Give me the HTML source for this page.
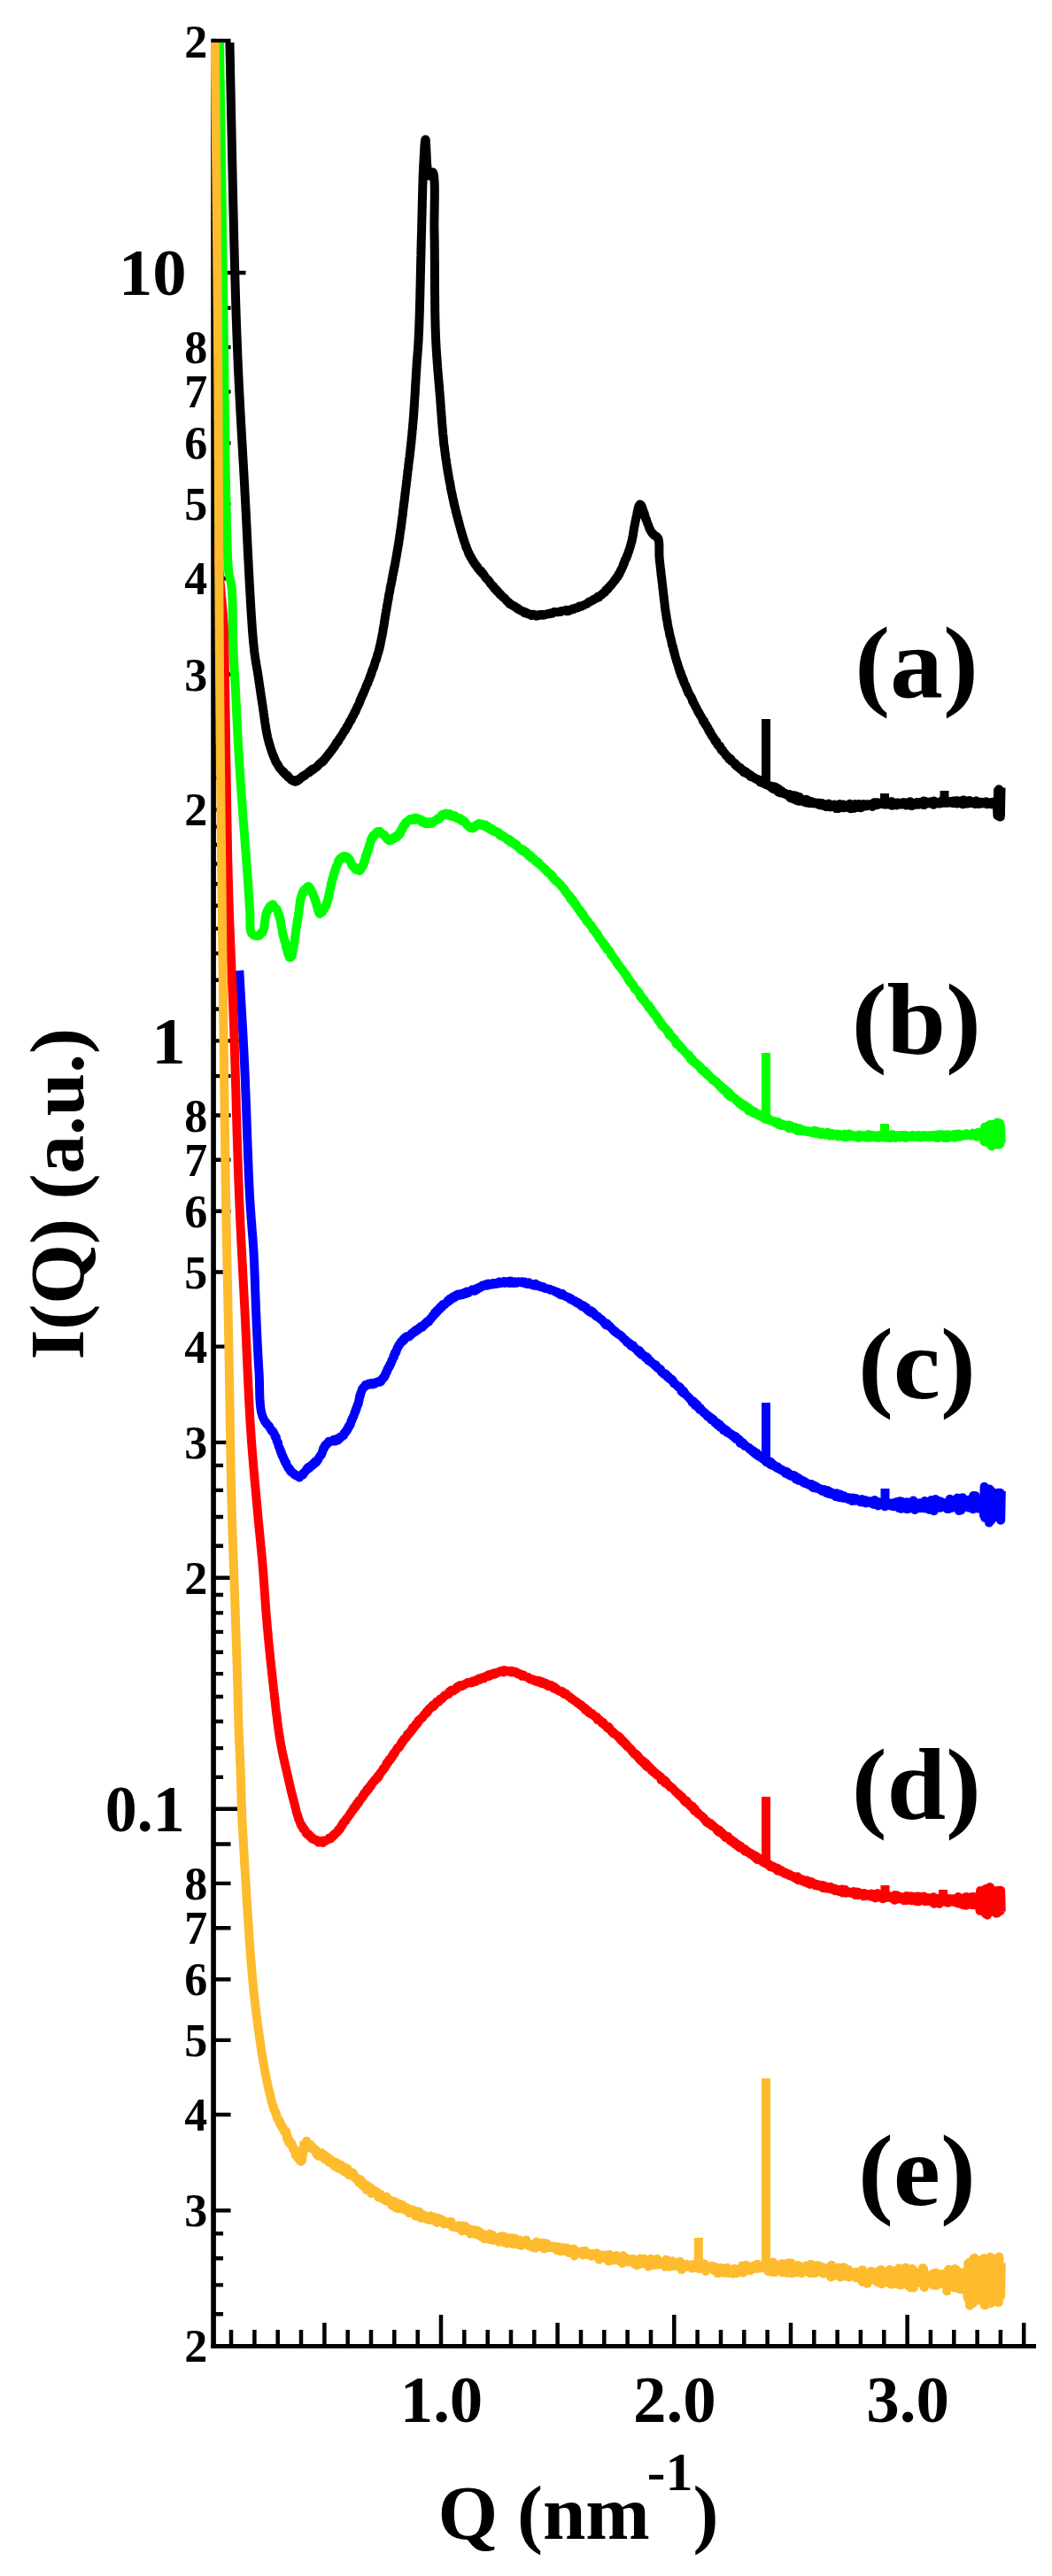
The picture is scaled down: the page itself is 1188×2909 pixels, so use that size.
<!DOCTYPE html>
<html><head><meta charset="utf-8"><title>I(Q) vs Q</title>
<style>html,body{margin:0;padding:0;background:#fff}svg{display:block}</style></head>
<body>
<svg width="1188" height="2909" viewBox="0 0 1188 2909">
<defs><clipPath id="pc"><rect x="238" y="48" width="932" height="2599"/></clipPath></defs>
<rect width="1188" height="2909" fill="#fff"/>
<g stroke="#000" stroke-width="5" fill="none" stroke-linecap="butt">
<path d="M241.05,43.8 V2652.0" stroke-width="5.7"/>
<path d="M238.20000000000002,2649.5 H1170"/>
<path d="M241.05,308.0 h36.5 M241.05,46.0 h19.5 M241.05,272.1 h11 M241.05,239.3 h11 M241.05,209.2 h11 M241.05,181.2 h11 M241.05,155.3 h11 M241.05,130.9 h11 M241.05,108.1 h11 M241.05,86.6 h11 M241.05,66.2 h11 M241.05,1175.4 h36.5 M241.05,914.3 h19.5 M241.05,761.5 h19.5 M241.05,653.2 h19.5 M241.05,569.1 h19.5 M241.05,500.4 h19.5 M241.05,442.4 h19.5 M241.05,392.1 h19.5 M241.05,347.7 h19.5 M241.05,1139.5 h11 M241.05,1106.7 h11 M241.05,1076.6 h11 M241.05,1048.6 h11 M241.05,1022.7 h11 M241.05,998.3 h11 M241.05,975.5 h11 M241.05,954.0 h11 M241.05,933.6 h11 M241.05,878.4 h11 M241.05,845.6 h11 M241.05,815.5 h11 M241.05,787.5 h11 M241.05,2042.8 h36.5 M241.05,1781.7 h19.5 M241.05,1628.9 h19.5 M241.05,1520.6 h19.5 M241.05,1436.5 h19.5 M241.05,1367.8 h19.5 M241.05,1309.8 h19.5 M241.05,1259.5 h19.5 M241.05,1215.1 h19.5 M241.05,2006.9 h11 M241.05,1974.1 h11 M241.05,1944.0 h11 M241.05,1916.0 h11 M241.05,1890.1 h11 M241.05,1865.7 h11 M241.05,1842.9 h11 M241.05,1821.4 h11 M241.05,1801.0 h11 M241.05,1745.8 h11 M241.05,1713.0 h11 M241.05,1682.9 h11 M241.05,1654.9 h11 M241.05,2496.3 h19.5 M241.05,2388.0 h19.5 M241.05,2303.9 h19.5 M241.05,2235.2 h19.5 M241.05,2177.2 h19.5 M241.05,2126.9 h19.5 M241.05,2082.5 h19.5 M241.05,2613.2 h11 M241.05,2580.4 h11 M241.05,2550.3 h11 M241.05,2522.3 h11 " stroke-width="4.4"/>
<path d="M261.0,2649.5 v-18.5 M287.4,2649.5 v-18.5 M313.7,2649.5 v-18.5 M340.0,2649.5 v-18.5 M366.4,2649.5 v-26.5 M392.7,2649.5 v-18.5 M419.0,2649.5 v-18.5 M445.3,2649.5 v-18.5 M471.7,2649.5 v-18.5 M498.0,2649.5 v-35.5 M524.3,2649.5 v-18.5 M550.7,2649.5 v-18.5 M577.0,2649.5 v-18.5 M603.3,2649.5 v-18.5 M629.6,2649.5 v-26.5 M656.0,2649.5 v-18.5 M682.3,2649.5 v-18.5 M708.6,2649.5 v-18.5 M735.0,2649.5 v-18.5 M761.3,2649.5 v-35.5 M787.6,2649.5 v-18.5 M814.0,2649.5 v-18.5 M840.3,2649.5 v-18.5 M866.6,2649.5 v-18.5 M893.0,2649.5 v-26.5 M919.3,2649.5 v-18.5 M945.6,2649.5 v-18.5 M971.9,2649.5 v-18.5 M998.3,2649.5 v-18.5 M1024.6,2649.5 v-35.5 M1050.9,2649.5 v-18.5 M1077.3,2649.5 v-18.5 M1103.6,2649.5 v-18.5 M1129.9,2649.5 v-18.5 M1156.2,2649.5 v-26.5 " stroke-width="4.5"/>
</g>
<g clip-path="url(#pc)" fill="none" stroke-width="10" stroke-linejoin="round" stroke-linecap="butt">
<path stroke="#000000" d="M258.5,0.0 L258.5,1.2 L258.5,2.4 L258.6,3.5 L258.6,4.6 L258.6,5.7 L258.6,6.8 L258.7,7.9 L258.7,8.9 L258.7,10.0 L258.7,11.0 L258.7,12.1 L258.7,13.1 L258.8,14.1 L258.8,15.1 L258.8,16.2 L258.8,17.2 L258.8,18.2 L258.9,19.3 L258.9,20.4 L258.9,21.4 L258.9,22.5 L258.9,23.7 L259,24.8 L259,26.0 L259,27.1 L259,28.4 L259.1,29.6 L259.1,30.9 L259.1,32.2 L259.1,33.5 L259.2,34.9 L259.2,36.4 L259.2,37.9 L259.3,39.4 L259.3,41.0 L259.3,42.6 L259.4,44.3 L259.4,46.0 L259.4,46.7 L259.4,47.3 L259.4,48.0 L259.5,48.7 L259.5,49.4 L259.5,50.1 L259.5,50.8 L259.5,51.5 L259.5,52.2 L259.6,53.0 L259.6,53.7 L259.6,54.5 L259.6,55.2 L259.6,56.0 L259.6,56.8 L259.6,57.6 L259.7,58.4 L259.7,59.2 L259.7,60.0 L259.7,60.8 L259.7,61.6 L259.7,62.5 L259.8,63.3 L259.8,64.2 L259.8,65.1 L259.8,65.9 L259.8,66.8 L259.9,67.7 L259.9,68.6 L259.9,69.5 L259.9,70.4 L259.9,71.3 L260,72.2 L260,73.2 L260,74.1 L260,75.1 L260,76.0 L260,77.0 L260.1,78.0 L260.1,78.9 L260.1,79.9 L260.1,80.9 L260.1,81.9 L260.2,82.9 L260.2,83.9 L260.2,84.9 L260.2,86.0 L260.3,87.0 L260.3,88.0 L260.3,89.1 L260.3,90.1 L260.3,91.2 L260.4,92.2 L260.4,93.3 L260.4,94.4 L260.4,95.5 L260.4,96.6 L260.5,97.7 L260.5,98.8 L260.5,99.9 L260.5,101.0 L260.6,102.1 L260.6,103.2 L260.6,104.4 L260.6,105.5 L260.7,106.6 L260.7,107.8 L260.7,108.9 L260.7,110.1 L260.7,111.3 L260.8,112.4 L260.8,113.6 L260.8,114.8 L260.8,116.0 L260.9,117.1 L260.9,118.3 L260.9,119.5 L260.9,120.7 L261,122.0 L261,123.2 L261,124.4 L261,125.6 L261.1,126.8 L261.1,128.1 L261.1,129.3 L261.1,130.5 L261.2,131.8 L261.2,133.0 L261.2,134.3 L261.2,135.5 L261.3,136.8 L261.3,138.1 L261.3,139.3 L261.4,140.6 L261.4,141.9 L261.4,143.2 L261.4,144.5 L261.5,145.8 L261.5,147.0 L261.5,148.3 L261.5,149.6 L261.6,150.9 L261.6,152.3 L261.6,153.6 L261.6,154.9 L261.7,156.2 L261.7,157.5 L261.7,158.8 L261.8,160.2 L261.8,161.5 L261.8,162.8 L261.8,164.2 L261.9,165.5 L261.9,166.8 L261.9,168.2 L262,169.5 L262,170.9 L262,172.2 L262,173.6 L262.1,174.9 L262.1,176.3 L262.1,177.7 L262.2,179.0 L262.2,180.4 L262.2,181.8 L262.3,183.1 L262.3,184.5 L262.3,185.9 L262.3,187.2 L262.4,188.6 L262.4,190.0 L262.4,191.4 L262.5,192.8 L262.5,194.1 L262.5,195.5 L262.6,196.9 L262.6,198.3 L262.6,199.7 L262.6,201.1 L262.7,202.5 L262.7,203.9 L262.7,205.3 L262.8,206.7 L262.8,208.1 L262.8,209.4 L262.9,210.8 L262.9,212.2 L262.9,213.6 L263,215.0 L263,216.4 L263,217.8 L263.1,219.3 L263.1,220.7 L263.1,222.1 L263.1,223.5 L263.2,224.9 L263.2,226.3 L263.2,227.7 L263.3,229.1 L263.3,230.5 L263.3,231.9 L263.4,233.3 L263.4,234.7 L263.4,236.1 L263.5,237.5 L263.5,238.9 L263.5,240.3 L263.6,241.7 L263.6,243.1 L263.6,244.5 L263.7,245.9 L263.7,247.3 L263.7,248.7 L263.8,250.1 L263.8,251.5 L263.8,252.9 L263.9,254.3 L263.9,255.7 L263.9,257.1 L264,258.5 L264,259.9 L264,261.3 L264.1,262.7 L264.1,264.0 L264.1,265.4 L264.2,266.8 L264.2,268.2 L264.2,269.6 L264.3,271.0 L264.3,272.3 L264.3,273.7 L264.4,275.1 L264.4,276.5 L264.4,277.8 L264.5,279.2 L264.5,280.6 L264.6,281.9 L264.6,283.3 L264.6,284.7 L264.7,286.0 L264.7,287.4 L264.7,288.7 L264.8,290.1 L264.8,291.4 L264.8,292.8 L264.9,294.1 L264.9,295.4 L264.9,296.8 L265,298.1 L265,299.5 L265,300.8 L265.1,302.1 L265.1,303.4 L265.2,304.7 L265.2,306.1 L265.2,307.4 L265.3,308.7 L265.3,310.0 L265.3,311.3 L265.4,312.6 L265.4,313.9 L265.4,315.2 L265.5,316.5 L265.5,317.8 L265.5,319.0 L265.6,320.3 L265.6,321.6 L265.7,322.9 L265.7,324.1 L265.7,325.4 L265.8,326.6 L265.8,327.9 L265.8,329.1 L265.9,330.4 L265.9,331.6 L265.9,332.9 L266,334.1 L266,335.3 L266.1,336.6 L266.1,337.8 L266.1,339.0 L266.2,340.2 L266.2,341.4 L266.2,342.6 L266.3,343.8 L266.3,345.0 L266.3,346.2 L266.4,347.3 L266.4,348.5 L266.5,349.7 L266.5,350.8 L266.5,352.0 L266.6,353.1 L266.6,354.3 L266.6,355.4 L266.7,356.6 L266.7,357.7 L266.8,358.8 L266.8,359.9 L266.8,361.0 L266.9,362.2 L266.9,363.3 L266.9,364.4 L267,365.4 L267,366.5 L267.1,367.6 L267.1,368.7 L267.1,369.7 L267.2,370.8 L267.2,371.8 L267.2,372.9 L267.3,373.9 L267.3,374.9 L267.4,376.0 L267.4,377.0 L267.4,378.0 L267.5,379.0 L267.5,380.0 L267.6,381.4 L267.6,382.8 L267.7,384.2 L267.7,385.6 L267.8,387.0 L267.8,388.4 L267.9,389.7 L267.9,391.1 L268,392.4 L268,393.8 L268.1,395.1 L268.2,396.5 L268.2,397.8 L268.3,399.2 L268.3,400.5 L268.4,401.8 L268.4,403.1 L268.5,404.4 L268.5,405.7 L268.6,407.0 L268.7,408.3 L268.7,409.6 L268.8,410.9 L268.8,412.2 L268.9,413.5 L268.9,414.7 L269,416.0 L269.1,417.3 L269.1,418.5 L269.2,419.8 L269.2,421.0 L269.3,422.3 L269.3,423.5 L269.4,424.7 L269.5,426.0 L269.5,427.2 L269.6,428.4 L269.6,429.6 L269.7,430.9 L269.7,432.1 L269.8,433.3 L269.9,434.5 L269.9,435.7 L270,436.9 L270,438.1 L270.1,439.3 L270.2,440.5 L270.2,441.7 L270.3,442.8 L270.3,444.0 L270.4,445.2 L270.5,446.4 L270.5,447.6 L270.6,448.7 L270.6,449.9 L270.7,451.1 L270.8,452.2 L270.8,453.4 L270.9,454.6 L271,455.7 L271,456.9 L271.1,458.0 L271.1,459.2 L271.2,460.3 L271.3,461.5 L271.3,462.6 L271.4,463.8 L271.4,464.9 L271.5,466.1 L271.6,467.2 L271.6,468.3 L271.7,469.5 L271.8,470.6 L271.8,471.8 L271.9,472.9 L271.9,474.0 L272,475.2 L272.1,476.3 L272.1,477.4 L272.2,478.6 L272.3,479.7 L272.3,480.8 L272.4,482.0 L272.5,483.1 L272.5,484.2 L272.6,485.4 L272.6,486.5 L272.7,487.6 L272.8,488.8 L272.8,489.9 L272.9,491.0 L273,492.2 L273,493.3 L273.1,494.4 L273.2,495.6 L273.2,496.7 L273.3,497.8 L273.4,499.0 L273.4,500.1 L273.5,501.3 L273.6,502.4 L273.6,503.5 L273.7,504.7 L273.7,505.8 L273.8,507.0 L273.9,508.1 L273.9,509.3 L274,510.4 L274.1,511.6 L274.1,512.7 L274.2,513.9 L274.3,515.0 L274.3,516.2 L274.4,517.3 L274.5,518.5 L274.5,519.7 L274.6,520.8 L274.7,522.0 L274.7,523.2 L274.8,524.4 L274.9,525.5 L274.9,526.7 L275,527.9 L275.1,529.1 L275.1,530.3 L275.2,531.5 L275.3,532.6 L275.3,533.8 L275.4,535.0 L275.5,536.2 L275.5,537.5 L275.6,538.7 L275.7,539.9 L275.7,541.1 L275.8,542.3 L275.9,543.5 L275.9,544.8 L276,546.0 L276.1,547.2 L276.1,548.4 L276.2,549.5 L276.3,550.7 L276.3,551.9 L276.4,553.2 L276.4,554.4 L276.5,555.6 L276.6,556.8 L276.6,558.1 L276.7,559.3 L276.8,560.5 L276.8,561.8 L276.9,563.0 L277,564.3 L277,565.6 L277.1,566.8 L277.2,568.1 L277.2,569.4 L277.3,570.7 L277.4,572.0 L277.4,573.3 L277.5,574.6 L277.6,575.9 L277.6,577.2 L277.7,578.5 L277.8,579.8 L277.8,581.1 L277.9,582.5 L278,583.8 L278,585.1 L278.1,586.4 L278.2,587.8 L278.2,589.1 L278.3,590.5 L278.4,591.8 L278.4,593.2 L278.5,594.5 L278.6,595.8 L278.6,597.2 L278.7,598.6 L278.8,599.9 L278.8,601.3 L278.9,602.6 L279,604.0 L279,605.3 L279.1,606.7 L279.2,608.1 L279.2,609.4 L279.3,610.8 L279.4,612.2 L279.4,613.5 L279.5,614.9 L279.6,616.3 L279.6,617.6 L279.7,619.0 L279.8,620.4 L279.8,621.7 L279.9,623.1 L280,624.5 L280,625.8 L280.1,627.2 L280.2,628.5 L280.2,629.9 L280.3,631.3 L280.4,632.6 L280.5,634.0 L280.5,635.3 L280.6,636.7 L280.7,638.0 L280.7,639.4 L280.8,640.7 L280.9,642.1 L280.9,643.4 L281,644.7 L281.1,646.1 L281.1,647.4 L281.2,648.7 L281.3,650.1 L281.4,651.4 L281.4,652.7 L281.5,654.0 L281.6,655.3 L281.6,656.6 L281.7,657.9 L281.8,659.2 L281.8,660.5 L281.9,661.8 L282,663.1 L282.1,664.4 L282.1,665.7 L282.2,667.0 L282.3,668.2 L282.3,669.5 L282.4,670.7 L282.5,672.0 L282.6,673.2 L282.6,674.5 L282.7,675.7 L282.8,676.9 L282.8,678.2 L282.9,679.4 L283,680.6 L283.1,681.8 L283.1,683.0 L283.2,684.2 L283.3,685.4 L283.3,686.5 L283.4,687.7 L283.5,688.9 L283.6,690.0 L283.6,691.2 L283.7,692.3 L283.8,693.4 L283.8,694.6 L283.9,695.7 L284,696.8 L284.1,697.9 L284.1,699.0 L284.2,700.0 L284.3,701.1 L284.3,702.2 L284.4,703.2 L284.5,704.3 L284.6,705.3 L284.6,706.3 L284.7,707.4 L284.8,708.4 L284.8,709.4 L284.9,710.4 L285,711.3 L285.1,712.3 L285.1,713.3 L285.2,714.2 L285.3,715.1 L285.4,716.1 L285.4,717.0 L285.5,717.9 L285.6,718.8 L285.6,719.6 L285.7,720.5 L285.8,721.4 L285.9,722.2 L285.9,723.1 L286,723.9 L286.1,724.7 L286.2,725.5 L286.2,726.3 L286.3,727.0 L286.4,727.8 L286.5,728.5 L286.5,729.3 L286.6,730.0 L286.8,731.7 L287,733.3 L287.1,734.9 L287.3,736.3 L287.5,737.8 L287.7,739.1 L287.9,740.5 L288,741.8 L288.2,743.0 L288.4,744.2 L288.6,745.4 L288.8,746.5 L288.9,747.6 L289.1,748.7 L289.3,749.8 L289.5,750.9 L289.7,751.9 L289.9,753.0 L290,754.0 L290.2,755.1 L290.4,756.2 L290.6,757.3 L290.8,758.4 L291,759.5 L291.1,760.6 L291.3,761.8 L291.5,763.0 L291.7,764.2 L291.9,765.4 L292,766.6 L292.2,767.7 L292.4,768.9 L292.5,770.1 L292.7,771.3 L292.9,772.5 L293.1,773.6 L293.2,774.8 L293.4,776.0 L293.6,777.2 L293.8,778.4 L293.9,779.6 L294.1,780.7 L294.3,781.9 L294.5,783.1 L294.6,784.3 L294.8,785.5 L295,786.7 L295.2,787.9 L295.4,789.1 L295.5,790.3 L295.7,791.6 L295.9,792.8 L296.1,794.0 L296.3,795.3 L296.5,796.5 L296.7,797.7 L296.9,798.8 L297,800.0 L297.2,801.2 L297.4,802.5 L297.6,803.7 L297.7,804.9 L297.9,806.2 L298.1,807.4 L298.3,808.7 L298.4,809.9 L298.6,811.2 L298.8,812.4 L299,813.7 L299.1,815.0 L299.3,816.2 L299.5,817.5 L299.7,818.7 L299.9,820.0 L300.1,821.2 L300.3,822.5 L300.5,823.7 L300.7,825.0 L300.9,826.2 L301.1,827.4 L301.4,828.5 L301.6,829.8 L301.9,830.8 L302.1,832.1 L302.4,833.3 L302.6,834.2 L302.9,835.2 L303.2,836.4 L303.6,837.7 L303.9,839.3 L304.3,840.4 L304.7,841.5 L305,842.6 L305.4,844.0 L305.8,845.5 L306.2,846.5 L306.6,847.8 L307.1,849.0 L307.5,850.7 L307.9,851.4 L308.4,852.5 L308.8,854.1 L309.3,854.5 L309.7,856.0 L310.2,856.8 L310.7,858.4 L311.2,859.8 L311.7,860.1 L312.2,861.6 L312.7,862.0 L313.2,863.3 L313.9,863.6 L314.7,865.3 L315.5,867.1 L316.3,867.7 L317.1,869.0 L317.9,869.5 L318.7,870.4 L319.6,871.9 L320.4,871.5 L321.3,873.2 L322.1,874.6 L323,874.7 L324,875.1 L324.9,877.1 L325.9,877.1 L326.9,878.8 L327.9,879.5 L328.9,880.9 L329.9,881.1 L331,882.0 L332,881.0 L333,882.8 L333.8,881.3 L334.6,881.5 L335.4,882.2 L336.2,880.3 L337,881.1 L337.8,880.6 L338.6,879.3 L339.4,878.3 L340.3,878.5 L341.2,877.3 L342.1,876.1 L343,876.7 L343.6,876.2 L344.3,875.1 L345,875.3 L345.7,874.1 L346.4,874.0 L347.1,873.1 L347.8,872.8 L348.6,871.8 L349.3,872.5 L350.1,870.9 L350.9,870.0 L351.7,869.6 L352.4,868.8 L353.2,869.4 L354,868.5 L354.8,868.3 L355.6,867.3 L356.4,867.1 L357.2,866.4 L357.9,865.9 L358.7,864.7 L359.4,864.4 L360.2,863.1 L360.9,862.6 L361.6,861.8 L362.3,861.5 L363,860.6 L363.6,860.2 L364.3,860.5 L364.9,858.8 L365.5,859.2 L366.1,857.9 L366.7,856.8 L367.3,856.9 L367.9,855.9 L368.5,854.6 L369.1,854.7 L369.7,853.4 L370.3,852.6 L370.8,851.8 L371.4,851.7 L372,850.2 L372.5,850.4 L373.1,848.8 L373.6,848.4 L374.2,847.6 L374.8,847.4 L375.3,846.7 L375.9,844.8 L376.4,844.6 L376.9,844.4 L377.5,842.9 L378,842.9 L378.6,841.0 L379.1,840.8 L379.7,840.1 L380.2,838.6 L380.7,837.6 L381.2,837.5 L381.7,837.7 L382.2,836.0 L382.7,836.0 L383.1,834.2 L383.6,833.8 L384.1,832.7 L384.6,832.9 L385.1,832.2 L385.6,831.4 L386,830.0 L386.5,829.9 L387,828.4 L387.5,828.0 L388,827.1 L388.4,826.4 L388.9,825.1 L389.4,825.3 L389.9,824.6 L390.3,823.7 L390.8,823.0 L391.3,821.4 L391.7,820.6 L392.2,820.4 L392.7,820.2 L393.1,818.2 L393.6,817.9 L394,817.0 L394.5,816.3 L394.9,814.9 L395.4,814.4 L395.8,813.4 L396.3,813.6 L396.7,812.7 L397.1,811.4 L397.5,810.9 L397.9,809.3 L398.3,809.1 L398.7,808.0 L399.1,808.1 L399.5,807.0 L399.9,806.1 L400.3,804.4 L400.7,804.2 L401.1,804.2 L401.6,803.3 L402,802.0 L402.4,800.3 L402.8,800.3 L403.1,799.3 L403.5,798.3 L403.9,797.3 L404.3,796.8 L404.7,796.3 L405.1,795.3 L405.5,794.2 L405.9,793.9 L406.3,791.6 L406.6,792.3 L407,789.8 L407.4,789.2 L407.8,788.7 L408.1,787.4 L408.5,787.4 L408.9,785.6 L409.2,785.1 L409.6,783.9 L410,784.2 L410.3,783.3 L410.7,782.0 L411,780.8 L411.3,781.0 L411.7,779.5 L412,779.4 L412.4,778.1 L412.7,777.4 L413,775.8 L413.4,775.9 L413.8,774.5 L414.1,773.4 L414.5,772.8 L414.9,771.9 L415.2,771.1 L415.6,771.1 L415.9,769.2 L416.3,769.0 L416.6,767.7 L417,767.4 L417.3,765.6 L417.6,764.6 L417.9,764.8 L418.3,762.5 L418.6,763.2 L418.9,761.7 L419.2,760.5 L419.5,760.7 L419.8,758.3 L420.1,758.2 L420.4,756.6 L420.7,756.6 L421,755.2 L421.3,755.1 L421.6,754.9 L421.9,753.9 L422.2,752.3 L422.5,752.0 L422.7,751.3 L423,750.0 L423.3,749.1 L423.6,747.6 L423.9,747.1 L424.2,745.9 L424.5,746.0 L424.7,744.8 L425,743.9 L425.3,743.9 L425.5,742.5 L425.8,741.5 L426,740.5 L426.3,739.3 L426.5,739.1 L426.8,737.6 L427,737.2 L427.3,736.7 L427.5,736.6 L427.8,734.3 L428,734.3 L428.2,733.1 L428.5,732.5 L428.7,730.5 L429,729.3 L429.2,729.1 L429.3,729.1 L429.5,727.4 L429.6,727.6 L429.8,726.1 L430,725.2 L430.1,724.1 L430.3,724.0 L430.4,723.2 L430.6,722.8 L430.7,721.0 L430.9,720.4 L431.1,719.3 L431.2,718.6 L431.4,718.7 L431.5,717.4 L431.7,716.4 L431.8,716.0 L432,715.8 L432.1,714.7 L432.3,713.6 L432.4,713.1 L432.6,710.7 L432.7,709.8 L432.9,709.6 L433.1,708.5 L433.2,708.5 L433.4,706.8 L433.5,706.0 L433.7,705.7 L433.8,704.0 L434,703.7 L434.1,701.7 L434.3,700.8 L434.4,700.0 L434.6,699.4 L434.7,697.9 L434.9,697.7 L435.1,695.8 L435.2,694.7 L435.4,695.1 L435.5,693.1 L435.7,692.3 L435.8,691.7 L436,690.6 L436.2,688.9 L436.3,689.3 L436.5,688.4 L436.7,687.2 L436.8,685.4 L437,684.8 L437.2,683.5 L437.3,682.9 L437.5,682.7 L437.7,680.6 L437.8,680.2 L438,678.7 L438.2,678.6 L438.3,677.0 L438.5,677.1 L438.6,676.1 L438.8,675.2 L438.9,673.9 L439.1,672.6 L439.2,671.5 L439.4,671.1 L439.6,669.7 L439.7,670.0 L439.9,669.1 L440.1,667.8 L440.2,667.5 L440.4,666.2 L440.6,664.5 L440.7,663.8 L440.9,663.0 L441.1,662.4 L441.2,661.0 L441.4,661.1 L441.6,660.0 L441.8,659.3 L441.9,658.1 L442.1,657.9 L442.3,656.4 L442.4,654.8 L442.6,655.3 L442.8,654.0 L443,653.4 L443.1,652.8 L443.3,650.3 L443.5,649.7 L443.7,648.5 L443.8,648.3 L444,648.1 L444.2,645.9 L444.4,645.6 L444.5,644.1 L444.7,644.3 L444.9,643.5 L445.1,641.3 L445.2,641.1 L445.4,639.8 L445.6,640.1 L445.7,639.2 L445.9,637.7 L446.1,637.4 L446.3,635.4 L446.4,635.4 L446.6,633.7 L446.8,632.5 L446.9,632.8 L447.1,631.4 L447.3,629.5 L447.4,629.9 L447.6,628.7 L447.8,627.7 L447.9,627.0 L448.1,625.2 L448.2,624.9 L448.4,624.4 L448.6,622.2 L448.7,621.4 L448.9,621.7 L449,620.4 L449.2,619.4 L449.3,618.0 L449.5,617.2 L449.6,617.2 L449.8,615.6 L449.9,614.1 L450.1,614.6 L450.2,612.5 L450.3,612.7 L450.5,611.9 L450.6,610.3 L450.8,609.6 L450.9,608.6 L451,607.9 L451.2,607.4 L451.3,605.5 L451.4,605.6 L451.5,604.2 L451.7,602.6 L451.8,601.9 L451.9,601.6 L452.1,600.1 L452.2,599.0 L452.3,598.2 L452.4,598.4 L452.6,597.1 L452.7,596.9 L452.8,594.9 L452.9,594.4 L453.1,593.6 L453.2,592.7 L453.3,590.9 L453.4,591.1 L453.5,590.6 L453.6,589.0 L453.8,587.5 L453.9,587.6 L454,585.4 L454.1,585.0 L454.2,585.2 L454.3,583.7 L454.5,583.3 L454.6,581.9 L454.7,581.4 L454.8,580.6 L454.9,578.8 L455,577.5 L455.1,577.7 L455.2,576.3 L455.4,574.9 L455.5,574.8 L455.6,572.9 L455.7,572.3 L455.8,572.4 L455.9,570.2 L456,569.8 L456.1,568.4 L456.2,569.2 L456.3,567.6 L456.4,566.2 L456.6,566.4 L456.7,564.8 L456.8,563.8 L456.9,563.1 L457,561.7 L457.1,560.8 L457.2,560.1 L457.3,559.0 L457.4,558.6 L457.5,557.9 L457.6,556.0 L457.7,556.6 L457.8,555.3 L457.9,554.5 L458,553.6 L458.2,551.5 L458.3,551.3 L458.4,550.4 L458.5,549.9 L458.6,548.6 L458.7,548.1 L458.8,547.2 L458.9,546.3 L459,545.3 L459.1,543.6 L459.2,543.7 L459.3,542.9 L459.4,542.2 L459.6,540.1 L459.7,539.1 L459.8,538.6 L459.9,537.5 L460,537.5 L460.1,536.2 L460.2,535.6 L460.3,534.1 L460.4,532.6 L460.5,531.8 L460.6,531.3 L460.8,530.1 L460.9,530.3 L461,529.0 L461.1,528.2 L461.2,527.0 L461.3,525.4 L461.4,524.7 L461.5,524.2 L461.6,522.9 L461.7,521.7 L461.8,522.0 L461.9,521.1 L462,519.5 L462.1,519.5 L462.2,517.9 L462.4,517.7 L462.5,516.4 L462.6,515.4 L462.7,513.9 L462.8,513.5 L462.9,513.2 L463,511.3 L463.1,511.4 L463.2,510.6 L463.3,508.7 L463.4,508.4 L463.5,507.8 L463.6,505.5 L463.7,506.0 L463.8,503.9 L463.9,504.1 L464,502.9 L464.1,501.5 L464.2,500.2 L464.3,500.2 L464.4,499.6 L464.5,498.7 L464.5,497.4 L464.6,497.1 L464.7,495.6 L464.8,494.0 L464.9,493.5 L465,492.4 L465.1,492.6 L465.2,490.7 L465.3,490.8 L465.4,489.1 L465.5,487.6 L465.5,486.5 L465.6,486.1 L465.7,484.8 L465.8,484.8 L465.9,483.5 L466,483.6 L466,482.6 L466.1,480.3 L466.2,479.8 L466.3,479.0 L466.4,478.3 L466.4,477.8 L466.5,476.3 L466.6,475.3 L466.7,474.1 L466.7,474.3 L466.8,471.8 L466.9,472.3 L466.9,470.3 L467,470.2 L467.1,468.7 L467.2,468.8 L467.2,466.4 L467.3,465.5 L467.4,465.8 L467.4,464.3 L467.5,462.9 L467.5,461.4 L467.6,460.8 L467.7,459.7 L467.7,458.9 L467.8,459.1 L467.9,458.1 L467.9,456.9 L468,455.5 L468,455.2 L468.1,453.6 L468.2,452.5 L468.2,451.4 L468.3,451.5 L468.3,449.6 L468.4,448.9 L468.4,447.5 L468.5,447.6 L468.6,445.8 L468.6,444.7 L468.7,444.5 L468.7,442.7 L468.8,441.6 L468.8,441.9 L468.9,440.8 L468.9,439.6 L469,438.1 L469,437.8 L469.1,436.9 L469.1,435.4 L469.2,434.1 L469.3,434.6 L469.3,432.9 L469.4,432.6 L469.4,430.8 L469.5,430.5 L469.5,429.3 L469.6,428.4 L469.6,427.0 L469.7,426.4 L469.7,425.2 L469.8,424.7 L469.8,424.6 L469.9,423.6 L469.9,422.8 L470,420.9 L470,421.2 L470.1,420.1 L470.1,418.8 L470.2,417.9 L470.2,417.1 L470.3,417.4 L470.3,416.9 L470.4,416.0 L470.4,414.2 L470.5,414.2 L470.5,413.1 L470.6,412.5 L470.6,410.9 L470.7,410.1 L470.8,409.4 L470.9,407.3 L470.9,407.1 L471,405.9 L471.1,405.5 L471.1,405.2 L471.2,403.4 L471.3,402.5 L471.3,402.4 L471.4,401.3 L471.5,400.1 L471.5,399.8 L471.6,398.5 L471.6,397.2 L471.7,397.0 L471.8,396.0 L471.8,394.9 L471.9,395.3 L472,394.1 L472,393.1 L472.1,392.5 L472.1,391.3 L472.2,390.7 L472.3,390.1 L472.3,389.1 L472.4,386.9 L472.4,386.1 L472.5,384.8 L472.6,385.3 L472.6,383.0 L472.7,382.6 L472.7,380.5 L472.8,379.5 L472.8,379.4 L472.9,378.1 L472.9,377.9 L472.9,377.5 L472.9,376.5 L473,376.2 L473,375.5 L473,374.5 L473.1,374.3 L473.1,373.6 L473.1,372.9 L473.2,371.9 L473.2,370.9 L473.2,370.5 L473.2,370.3 L473.3,369.0 L473.3,368.9 L473.3,367.2 L473.3,366.9 L473.4,364.9 L473.4,365.4 L473.4,364.1 L473.5,362.4 L473.5,362.1 L473.5,361.7 L473.5,361.3 L473.6,359.2 L473.6,359.2 L473.6,358.8 L473.6,357.7 L473.7,357.3 L473.7,354.9 L473.7,354.4 L473.8,354.6 L473.8,353.5 L473.8,352.3 L473.8,351.8 L473.9,351.0 L473.9,350.2 L473.9,349.4 L473.9,347.0 L474,345.9 L474,345.0 L474,344.0 L474,344.7 L474.1,342.2 L474.1,342.6 L474.1,341.4 L474.1,340.1 L474.2,338.9 L474.2,337.9 L474.2,336.8 L474.2,337.0 L474.3,335.7 L474.3,333.5 L474.3,333.3 L474.3,332.0 L474.4,330.6 L474.4,331.1 L474.4,329.9 L474.4,328.2 L474.4,328.0 L474.5,326.2 L474.5,325.2 L474.5,325.2 L474.5,324.3 L474.6,322.6 L474.6,322.3 L474.6,321.2 L474.6,319.6 L474.7,318.3 L474.7,317.9 L474.7,316.5 L474.7,315.7 L474.8,315.4 L474.8,314.0 L474.8,312.3 L474.8,310.8 L474.8,310.0 L474.9,309.6 L474.9,308.4 L474.9,308.1 L474.9,307.3 L475,305.0 L475,305.2 L475,304.4 L475,303.4 L475,300.8 L475.1,299.8 L475.1,298.8 L475.1,298.3 L475.1,296.9 L475.2,296.3 L475.2,295.4 L475.2,295.5 L475.2,293.7 L475.3,292.4 L475.3,291.8 L475.3,291.1 L475.3,289.2 L475.3,289.3 L475.4,288.5 L475.4,287.6 L475.4,286.7 L475.4,284.9 L475.5,284.0 L475.5,282.5 L475.5,281.8 L475.5,282.2 L475.5,280.0 L475.6,280.2 L475.6,279.2 L475.6,278.4 L475.6,276.2 L475.7,276.5 L475.7,275.2 L475.7,273.6 L475.7,272.9 L475.7,271.7 L475.8,271.3 L475.8,269.8 L475.8,269.1 L475.8,268.3 L475.9,268.3 L475.9,267.3 L475.9,266.9 L475.9,265.0 L476,264.9 L476,263.0 L476,263.0 L476,262.6 L476.1,261.8 L476.1,259.2 L476.1,258.6 L476.1,257.5 L476.2,256.2 L476.2,255.1 L476.2,255.0 L476.2,253.2 L476.3,252.6 L476.3,252.2 L476.3,250.6 L476.3,249.6 L476.4,249.1 L476.4,247.7 L476.4,247.3 L476.4,245.9 L476.5,245.2 L476.5,243.7 L476.5,242.6 L476.5,241.3 L476.6,241.7 L476.6,240.5 L476.6,239.7 L476.6,237.4 L476.7,237.7 L476.7,236.7 L476.7,234.6 L476.7,233.6 L476.8,233.1 L476.8,231.5 L476.8,231.0 L476.8,229.5 L476.8,229.9 L476.9,228.1 L476.9,228.0 L476.9,226.5 L476.9,225.2 L477,225.1 L477,222.7 L477,222.6 L477,221.7 L477.1,220.4 L477.1,218.8 L477.1,218.6 L477.1,217.6 L477.2,217.3 L477.2,215.4 L477.2,214.7 L477.2,213.5 L477.2,213.4 L477.3,213.0 L477.3,210.7 L477.3,210.9 L477.3,209.0 L477.4,207.8 L477.4,207.1 L477.4,207.6 L477.5,206.6 L477.5,204.7 L477.5,205.0 L477.5,204.0 L477.6,202.4 L477.6,201.6 L477.6,201.1 L477.6,199.5 L477.7,198.4 L477.7,198.0 L477.7,196.8 L477.8,197.1 L477.8,196.1 L477.8,194.9 L477.9,194.9 L477.9,193.1 L477.9,192.5 L478,191.8 L478,190.9 L478,189.9 L478.1,190.5 L478.1,188.5 L478.1,188.8 L478.2,187.1 L478.2,186.2 L478.2,186.5 L478.3,186.4 L478.3,185.6 L478.4,183.6 L478.4,181.9 L478.5,182.0 L478.6,180.8 L478.6,179.7 L478.7,178.1 L478.7,177.1 L478.8,176.1 L478.9,174.1 L479,173.1 L479,171.8 L479.1,170.9 L479.2,169.8 L479.2,168.4 L479.3,167.8 L479.4,166.2 L479.4,165.8 L479.5,163.9 L479.6,162.8 L479.7,163.3 L479.7,162.1 L479.8,160.6 L479.9,160.4 L480,160.5 L480.1,158.5 L480.2,158.1 L480.2,158.7 L480.3,157.7 L480.4,158.5 L480.5,158.1 L480.6,158.3 L480.6,157.6 L480.7,157.8 L480.8,159.1 L480.8,159.2 L480.9,159.2 L480.9,160.4 L481,161.7 L481,161.7 L481.1,163.8 L481.1,164.8 L481.2,165.9 L481.2,166.5 L481.3,167.1 L481.3,168.9 L481.4,169.3 L481.4,170.6 L481.5,172.4 L481.6,173.7 L481.6,175.5 L481.7,175.7 L481.7,177.9 L481.8,179.6 L481.9,179.3 L481.9,181.4 L482,183.1 L482.1,184.7 L482.2,184.8 L482.3,187.2 L482.4,187.6 L482.5,189.7 L482.6,189.3 L482.7,190.5 L482.8,193.0 L483,193.3 L483.1,193.9 L483.2,194.2 L483.4,195.8 L483.6,195.4 L483.7,196.4 L483.9,196.9 L484.1,197.8 L484.3,198.1 L484.5,198.6 L485.2,198.6 L486.1,197.3 L486.9,196.1 L487.8,195.0 L488.5,195.8 L488.7,194.5 L488.8,195.9 L489,195.1 L489.1,195.7 L489.2,196.2 L489.3,195.7 L489.5,195.9 L489.6,196.9 L489.7,197.8 L489.8,198.0 L489.9,197.5 L490,199.4 L490,199.2 L490.1,200.5 L490.2,200.4 L490.3,200.3 L490.3,201.1 L490.4,202.9 L490.4,203.4 L490.5,204.4 L490.5,204.2 L490.6,205.3 L490.6,206.3 L490.7,207.1 L490.7,207.3 L490.7,208.5 L490.7,209.1 L490.8,211.1 L490.8,212.2 L490.8,211.6 L490.8,213.7 L490.8,214.0 L490.8,215.6 L490.8,216.0 L490.8,217.7 L490.8,218.2 L490.8,219.2 L490.8,221.3 L490.8,222.5 L490.8,223.0 L490.8,223.4 L490.8,225.8 L490.7,226.6 L490.7,227.8 L490.7,228.0 L490.7,230.2 L490.7,230.4 L490.7,232.2 L490.6,233.5 L490.6,234.8 L490.6,235.4 L490.6,237.2 L490.6,238.6 L490.6,239.3 L490.5,239.6 L490.5,240.9 L490.5,242.0 L490.5,243.3 L490.5,244.4 L490.5,246.7 L490.5,246.6 L490.4,248.1 L490.4,250.4 L490.4,251.7 L490.4,252.2 L490.4,254.0 L490.4,253.5 L490.4,256.2 L490.4,256.2 L490.4,258.2 L490.4,259.3 L490.4,260.5 L490.5,260.8 L490.5,262.7 L490.5,262.6 L490.5,264.5 L490.5,264.8 L490.5,266.2 L490.6,265.4 L490.6,267.4 L490.6,267.9 L490.6,268.6 L490.6,269.0 L490.6,269.9 L490.6,270.6 L490.7,271.4 L490.7,273.2 L490.7,273.6 L490.7,273.7 L490.7,275.7 L490.7,276.2 L490.7,277.4 L490.7,277.9 L490.7,278.5 L490.7,280.4 L490.8,279.7 L490.8,282.1 L490.8,283.0 L490.8,282.9 L490.8,283.5 L490.8,285.1 L490.8,285.2 L490.8,287.2 L490.8,287.2 L490.8,288.2 L490.8,290.1 L490.8,291.0 L490.8,291.3 L490.8,292.8 L490.8,292.8 L490.9,294.9 L490.9,294.8 L490.9,295.5 L490.9,296.0 L490.9,298.6 L490.9,298.6 L490.9,300.0 L490.9,300.8 L490.9,301.9 L490.9,301.7 L490.9,304.1 L490.9,305.1 L490.9,305.4 L490.9,307.0 L490.9,306.8 L490.9,308.3 L490.9,308.9 L490.9,310.3 L490.9,310.7 L490.9,312.5 L490.9,312.2 L490.9,313.1 L491,314.1 L491,315.2 L491,316.6 L491,318.5 L491,318.0 L491,319.9 L491,320.7 L491,321.3 L491,322.0 L491,323.0 L491,323.7 L491,325.8 L491,326.7 L491,327.3 L491,328.7 L491,328.6 L491,331.0 L491,331.8 L491,332.4 L491.1,332.9 L491.1,333.9 L491.1,335.0 L491.1,336.7 L491.1,337.5 L491.1,337.8 L491.1,338.9 L491.1,340.4 L491.1,341.5 L491.1,341.9 L491.1,343.0 L491.2,343.3 L491.2,345.2 L491.2,346.0 L491.2,346.4 L491.2,347.9 L491.2,348.8 L491.2,349.6 L491.2,349.4 L491.2,351.0 L491.3,352.6 L491.3,353.3 L491.3,353.6 L491.3,355.4 L491.3,355.1 L491.3,356.1 L491.3,358.1 L491.4,358.7 L491.4,359.8 L491.4,359.1 L491.4,360.7 L491.4,361.3 L491.5,362.3 L491.5,363.9 L491.5,364.8 L491.5,365.2 L491.5,365.9 L491.6,367.1 L491.6,367.9 L491.6,368.7 L491.6,369.7 L491.7,370.2 L491.7,371.6 L491.7,371.6 L491.7,373.1 L491.8,374.4 L491.8,373.6 L491.8,375.6 L491.8,375.4 L491.9,376.9 L491.9,377.9 L491.9,378.0 L492,379.9 L492,380.2 L492,380.6 L492.1,382.5 L492.1,382.4 L492.2,384.1 L492.2,384.3 L492.3,386.2 L492.3,386.6 L492.4,388.3 L492.4,389.3 L492.5,390.0 L492.5,391.2 L492.6,392.4 L492.6,393.3 L492.7,394.0 L492.8,394.6 L492.8,395.5 L492.9,397.2 L492.9,397.8 L493,397.9 L493,399.4 L493.1,400.9 L493.2,400.5 L493.2,402.7 L493.3,403.5 L493.3,403.9 L493.4,404.0 L493.5,405.0 L493.5,407.3 L493.6,406.6 L493.7,408.1 L493.7,409.4 L493.8,409.5 L493.9,411.8 L493.9,411.2 L494,412.8 L494.1,413.8 L494.1,414.0 L494.2,415.2 L494.3,416.1 L494.3,417.5 L494.4,418.1 L494.5,418.7 L494.5,419.9 L494.6,420.4 L494.7,421.4 L494.8,422.5 L494.8,422.5 L494.9,424.4 L495,424.9 L495,426.4 L495.1,426.0 L495.2,427.3 L495.3,428.9 L495.3,429.2 L495.4,430.3 L495.5,430.6 L495.6,431.9 L495.6,433.2 L495.7,432.8 L495.8,434.7 L495.8,435.9 L495.9,435.1 L496,436.3 L496.1,437.0 L496.1,439.0 L496.2,438.7 L496.3,441.1 L496.4,441.0 L496.4,442.7 L496.5,442.4 L496.6,443.7 L496.7,445.3 L496.7,445.8 L496.8,446.4 L496.9,447.4 L496.9,448.4 L497,449.1 L497.1,449.6 L497.2,450.3 L497.2,451.3 L497.3,452.0 L497.4,453.8 L497.4,455.2 L497.5,455.2 L497.6,455.7 L497.6,457.2 L497.7,458.4 L497.8,459.0 L497.8,460.5 L497.9,461.7 L498,462.4 L498,463.0 L498.1,463.5 L498.2,464.8 L498.2,464.5 L498.3,467.1 L498.4,466.6 L498.4,468.8 L498.5,469.5 L498.6,470.4 L498.6,470.4 L498.7,471.2 L498.8,472.5 L498.8,474.1 L498.9,474.3 L499,476.0 L499,475.9 L499.1,477.3 L499.2,478.8 L499.2,479.1 L499.3,479.0 L499.4,480.6 L499.5,481.3 L499.5,482.5 L499.6,483.0 L499.7,483.6 L499.8,485.5 L499.8,486.4 L499.9,487.6 L500,487.2 L500.1,489.3 L500.2,490.2 L500.2,490.8 L500.3,491.0 L500.4,491.9 L500.5,493.1 L500.6,494.2 L500.7,495.0 L500.8,495.9 L500.9,497.4 L501,498.4 L501.1,499.2 L501.1,500.2 L501.2,500.6 L501.3,502.1 L501.4,502.4 L501.5,503.3 L501.7,503.7 L501.8,505.2 L501.9,505.1 L502,506.1 L502.1,507.0 L502.2,508.8 L502.3,508.9 L502.4,510.0 L502.6,510.4 L502.7,511.6 L502.8,513.8 L502.9,513.9 L503.1,514.2 L503.2,515.7 L503.3,517.3 L503.4,518.1 L503.6,518.2 L503.7,518.9 L503.8,520.6 L504,520.6 L504.1,521.6 L504.2,522.2 L504.4,524.4 L504.5,524.6 L504.7,525.7 L504.8,526.9 L504.9,528.0 L505.1,528.3 L505.2,528.7 L505.4,530.7 L505.5,530.3 L505.7,532.8 L505.8,533.0 L506,534.5 L506.1,534.9 L506.3,535.2 L506.5,536.2 L506.6,537.5 L506.8,539.2 L506.9,538.8 L507.1,540.2 L507.2,540.9 L507.4,542.5 L507.6,543.5 L507.7,543.7 L507.9,544.3 L508.1,544.9 L508.2,546.1 L508.4,547.1 L508.6,548.6 L508.8,550.0 L508.9,549.6 L509.1,551.9 L509.3,552.3 L509.4,553.3 L509.6,554.6 L509.8,554.6 L510,555.7 L510.2,556.8 L510.3,557.4 L510.5,557.9 L510.7,558.5 L510.9,559.7 L511.1,561.4 L511.3,562.0 L511.5,563.2 L511.6,563.6 L511.8,564.0 L512,565.5 L512.2,565.8 L512.4,566.2 L512.6,568.6 L512.8,568.6 L513,569.5 L513.2,570.9 L513.4,572.1 L513.6,571.4 L513.8,572.4 L514,573.5 L514.2,574.2 L514.4,575.5 L514.6,576.9 L514.8,577.8 L515,578.1 L515.2,578.3 L515.4,579.1 L515.6,581.0 L515.9,581.0 L516.1,582.5 L516.4,583.8 L516.6,583.8 L516.9,584.7 L517.1,585.4 L517.3,586.5 L517.6,588.7 L517.8,588.4 L518.1,589.5 L518.3,590.1 L518.6,592.2 L518.8,592.3 L519.1,593.6 L519.3,594.1 L519.6,595.4 L519.9,596.4 L520.1,597.4 L520.4,598.3 L520.6,598.6 L520.9,600.7 L521.2,600.5 L521.4,601.9 L521.7,602.6 L522,603.5 L522.2,605.1 L522.5,605.7 L522.8,606.0 L523,607.4 L523.3,608.1 L523.6,609.6 L523.9,609.6 L524.2,611.5 L524.5,611.8 L524.7,612.6 L525,613.1 L525.3,613.8 L525.6,615.1 L525.9,616.8 L526.2,616.2 L526.5,617.2 L526.8,618.9 L527.1,619.5 L527.4,619.6 L527.7,620.4 L528.1,621.4 L528.4,622.5 L528.7,623.4 L529,624.4 L529.3,624.8 L529.7,624.8 L530,626.7 L530.3,627.1 L530.7,627.0 L531,627.7 L531.5,629.6 L532,629.2 L532.5,631.0 L533,631.2 L533.5,633.0 L534,633.0 L534.5,634.5 L535,634.3 L535.5,635.6 L536.1,636.9 L536.6,636.9 L537.1,637.3 L537.7,638.8 L538.2,639.7 L538.8,639.6 L539.3,640.6 L539.9,642.1 L540.4,642.7 L541,643.1 L541.5,643.6 L542.1,644.7 L542.7,645.5 L543.2,644.6 L543.8,646.0 L544.3,647.0 L544.9,648.0 L545.5,647.5 L546,648.8 L546.6,649.3 L547.2,650.3 L547.7,651.2 L548.3,652.2 L548.9,652.6 L549.5,653.6 L550.1,654.3 L550.7,654.7 L551.2,654.7 L551.8,655.8 L552.4,656.8 L553,657.2 L553.6,658.7 L554.2,659.5 L554.8,660.0 L555.4,660.4 L556,661.7 L556.6,661.6 L557.2,662.0 L557.8,664.0 L558.4,664.1 L559,665.3 L559.6,665.1 L560.2,665.5 L560.8,666.8 L561.4,668.0 L562.1,667.6 L562.7,668.4 L563.3,669.5 L564,670.5 L564.6,671.4 L565.3,671.0 L566,672.6 L566.7,672.8 L567.4,674.0 L568,673.9 L568.7,675.1 L569.4,675.2 L570.1,675.5 L570.8,677.0 L571.5,677.1 L572.2,678.6 L572.9,679.0 L573.6,680.1 L574.3,680.0 L575,681.6 L575.7,681.4 L576.4,681.9 L577.1,682.9 L577.8,683.2 L578.6,683.3 L579.3,684.1 L580,684.0 L580.8,684.9 L581.6,684.8 L582.4,686.1 L583.3,686.3 L584.1,687.3 L585,686.8 L585.8,688.3 L586.7,688.3 L587.5,689.2 L588.4,689.9 L589.2,689.8 L590.1,690.6 L590.9,690.3 L591.8,692.0 L592.6,691.0 L593.4,692.6 L594.2,691.6 L595,692.4 L595.8,693.3 L596.5,693.4 L597.5,693.7 L598.4,693.5 L599.3,694.4 L600.1,694.9 L600.9,694.3 L601.8,694.6 L602.6,693.9 L603.5,694.6 L604.4,694.9 L605.4,695.6 L606.5,694.4 L607.2,695.4 L608,695.0 L608.8,695.1 L609.6,694.1 L610.5,694.3 L611.3,694.4 L612.2,693.9 L613.1,694.6 L614.1,694.7 L615,694.1 L616,693.9 L616.9,693.9 L617.9,693.2 L618.9,693.1 L619.8,693.2 L620.8,693.3 L621.8,692.2 L622.8,692.2 L623.7,692.7 L624.7,691.8 L625.6,691.1 L626.5,691.1 L627.4,691.3 L628.3,691.3 L629.2,691.2 L630,691.3 L631,691.1 L632,690.5 L632.9,691.0 L633.9,690.0 L634.8,690.0 L635.7,689.8 L636.6,689.8 L637.5,689.4 L638.4,689.4 L639.3,688.8 L640.2,690.3 L641.1,689.3 L642,689.9 L642.8,689.4 L643.7,688.6 L644.6,689.0 L645.5,688.5 L646.4,687.6 L647.2,687.8 L648.1,687.9 L648.9,687.0 L649.8,686.4 L650.6,686.4 L651.4,686.6 L652.3,686.4 L653.1,685.7 L653.9,684.6 L654.8,685.4 L655.6,684.6 L656.4,684.6 L657.2,684.5 L658.1,684.2 L658.9,683.3 L659.7,683.3 L660.5,682.7 L661.4,682.3 L662.2,682.1 L663,681.9 L663.8,680.9 L664.6,680.1 L665.4,679.4 L666.2,679.6 L667.1,679.0 L667.9,678.5 L668.7,678.3 L669.5,677.3 L670.3,677.5 L671.1,676.4 L671.9,676.4 L672.7,675.9 L673.5,675.7 L674.3,674.6 L675.1,673.8 L675.9,673.9 L676.7,674.2 L677.4,672.9 L678.2,672.4 L678.9,671.5 L679.7,671.6 L680.4,670.8 L681.1,669.7 L681.7,669.5 L682.4,668.7 L683.1,668.8 L683.8,666.9 L684.4,666.0 L685.1,665.5 L685.8,665.2 L686.4,665.3 L687.1,663.6 L687.7,663.6 L688.4,662.8 L689,661.8 L689.7,660.4 L690.3,660.8 L690.9,659.5 L691.5,658.9 L692.1,658.1 L692.7,657.7 L693.3,656.2 L693.8,656.1 L694.4,654.6 L694.9,655.1 L695.5,653.9 L696,652.8 L696.5,651.8 L697,651.9 L697.5,651.6 L698,649.4 L698.5,649.7 L699,647.7 L699.4,648.5 L699.8,646.9 L700.3,645.9 L700.7,645.5 L701.1,643.7 L701.5,643.9 L701.9,642.6 L702.3,641.9 L702.7,640.8 L703.1,640.3 L703.5,639.3 L703.8,637.5 L704.2,637.4 L704.6,635.8 L704.9,636.6 L705.3,633.9 L705.6,633.3 L706,631.8 L706.4,632.0 L706.7,631.4 L707.1,630.5 L707.4,630.2 L707.7,628.5 L708.1,627.8 L708.4,627.6 L708.7,626.3 L709,625.6 L709.4,624.2 L709.7,623.6 L710,623.0 L710.3,621.4 L710.6,620.7 L710.9,619.9 L711.1,619.3 L711.4,618.1 L711.7,617.7 L712,616.4 L712.2,615.4 L712.5,614.8 L712.7,613.4 L713,612.7 L713.2,611.5 L713.4,612.0 L713.6,610.5 L713.8,609.4 L714,608.1 L714.2,607.6 L714.4,606.7 L714.6,606.2 L714.7,604.7 L714.9,604.0 L715.1,603.1 L715.2,601.7 L715.4,601.0 L715.5,600.3 L715.7,598.6 L715.8,598.3 L716,596.6 L716.1,595.6 L716.3,594.7 L716.4,594.4 L716.6,593.9 L716.8,592.4 L716.9,591.2 L717.1,591.1 L717.3,589.9 L717.4,588.8 L717.6,588.7 L717.8,587.9 L718,586.2 L718.2,585.1 L718.5,584.5 L718.7,583.8 L719,581.8 L719.2,581.2 L719.5,579.2 L719.7,578.1 L720,578.1 L720.2,575.8 L720.5,574.9 L720.7,574.9 L721,572.4 L721.3,571.6 L721.6,571.4 L721.8,570.9 L722.1,570.6 L722.4,570.7 L722.7,569.5 L723,569.8 L723.3,570.3 L723.6,569.9 L724,571.2 L724.3,571.5 L724.6,571.4 L725,572.4 L725.3,574.0 L725.7,574.5 L726,575.6 L726.4,577.6 L726.7,577.1 L727.1,580.1 L727.5,579.2 L727.8,580.5 L728.2,581.9 L728.5,584.3 L728.9,584.5 L729.2,586.0 L729.6,585.8 L729.9,586.6 L730.3,588.3 L730.6,589.4 L731,590.0 L731.3,591.3 L731.6,592.0 L731.9,592.5 L732.3,593.2 L732.6,594.3 L732.9,595.8 L733.3,596.9 L733.6,597.6 L734,597.5 L734.4,598.6 L734.8,599.5 L735.2,600.2 L735.6,600.8 L736,601.2 L736.6,602.4 L737.4,602.4 L738.1,604.1 L738.9,604.7 L739.7,604.9 L740.5,605.1 L741.2,606.0 L741.9,606.1 L742.5,607.9 L743,608.7 L743.3,607.7 L743.5,608.8 L743.7,609.6 L743.9,610.6 L744,611.6 L744.1,612.0 L744.2,613.3 L744.3,613.8 L744.3,614.9 L744.4,615.8 L744.4,616.6 L744.4,617.6 L744.4,618.2 L744.4,619.0 L744.4,620.7 L744.4,621.8 L744.4,622.2 L744.4,623.4 L744.4,624.4 L744.4,626.1 L744.4,626.3 L744.5,627.8 L744.5,628.8 L744.6,629.6 L744.7,630.4 L744.8,631.7 L744.8,632.3 L744.9,633.3 L745,634.0 L745.1,635.1 L745.2,635.9 L745.3,636.1 L745.4,637.2 L745.5,638.3 L745.6,638.9 L745.7,640.0 L745.8,640.8 L745.9,642.4 L746,642.7 L746.1,643.2 L746.2,644.5 L746.3,646.1 L746.4,645.5 L746.5,646.8 L746.6,648.9 L746.7,649.9 L746.9,650.6 L747,652.1 L747.1,651.6 L747.2,653.6 L747.3,655.0 L747.4,654.6 L747.5,655.7 L747.7,657.2 L747.8,657.8 L747.9,659.3 L748,659.3 L748.1,660.1 L748.2,662.2 L748.3,663.6 L748.4,664.4 L748.5,665.2 L748.6,664.4 L748.7,665.8 L748.8,666.6 L748.9,667.9 L749,669.1 L749.1,669.7 L749.2,670.8 L749.3,670.8 L749.4,673.2 L749.5,672.6 L749.6,673.2 L749.7,675.0 L749.8,676.2 L749.9,677.6 L750,677.4 L750.2,678.6 L750.3,679.3 L750.4,680.6 L750.5,681.4 L750.6,682.6 L750.7,683.3 L750.8,685.2 L750.9,685.9 L751.1,687.0 L751.2,686.6 L751.3,688.2 L751.4,688.8 L751.5,690.3 L751.7,690.5 L751.8,691.5 L751.9,692.6 L752,693.3 L752.2,693.9 L752.3,694.4 L752.4,695.3 L752.6,696.6 L752.7,699.0 L752.9,698.2 L753,700.0 L753.2,700.1 L753.3,700.7 L753.5,701.6 L753.7,702.8 L753.8,704.3 L754,705.7 L754.2,706.6 L754.4,706.9 L754.6,708.0 L754.7,709.5 L754.9,710.2 L755.1,710.6 L755.3,711.2 L755.5,712.1 L755.7,713.6 L755.9,714.1 L756,715.2 L756.2,715.4 L756.4,717.7 L756.6,717.8 L756.8,718.8 L757.1,719.2 L757.3,720.5 L757.5,720.7 L757.7,721.9 L757.9,722.9 L758.1,723.7 L758.3,724.4 L758.6,725.9 L758.8,727.4 L759,728.6 L759.3,728.6 L759.5,729.7 L759.7,729.9 L759.9,730.4 L760.2,731.2 L760.4,733.5 L760.6,734.4 L760.9,734.0 L761.1,735.4 L761.3,736.5 L761.6,737.1 L761.8,738.4 L762.1,739.2 L762.3,740.1 L762.5,741.0 L762.8,742.4 L763,742.7 L763.3,744.0 L763.5,744.3 L763.8,745.5 L764.1,746.7 L764.3,747.5 L764.6,747.6 L764.9,749.1 L765.1,749.4 L765.4,750.3 L765.7,751.8 L766,751.9 L766.2,753.3 L766.5,754.8 L766.8,754.9 L767.1,755.5 L767.4,756.8 L767.7,758.5 L768,759.3 L768.3,760.2 L768.6,759.1 L768.9,760.6 L769.2,763.1 L769.5,762.1 L769.8,763.6 L770.1,765.1 L770.5,764.7 L770.8,766.5 L771.1,767.1 L771.5,767.1 L771.8,769.7 L772.2,768.8 L772.5,770.8 L772.9,771.9 L773.2,772.3 L773.6,773.2 L773.9,773.1 L774.3,774.3 L774.6,775.6 L775,776.1 L775.4,777.4 L775.7,778.9 L776.1,777.9 L776.5,780.6 L776.9,780.1 L777.2,782.4 L777.6,782.4 L778,783.2 L778.4,783.7 L778.8,784.5 L779.2,785.1 L779.6,785.7 L780,786.8 L780.4,787.1 L780.8,787.5 L781.2,788.9 L781.6,789.5 L782,792.0 L782.4,790.9 L782.8,792.5 L783.2,793.7 L783.6,794.6 L784,794.9 L784.5,795.6 L784.9,797.1 L785.3,797.8 L785.8,798.3 L786.2,799.3 L786.7,800.2 L787.1,800.9 L787.6,802.2 L788.1,803.0 L788.5,804.3 L789,804.2 L789.5,805.9 L790,806.0 L790.4,807.1 L790.9,808.0 L791.4,808.9 L791.9,809.3 L792.3,810.2 L792.8,811.4 L793.3,812.1 L793.7,813.9 L794.2,814.8 L794.6,813.4 L795.1,814.3 L795.5,816.4 L796,817.3 L796.4,817.6 L796.8,819.0 L797.2,818.1 L797.6,819.0 L798,820.1 L798.4,820.3 L798.8,821.6 L799.1,822.5 L799.5,822.0 L800,823.6 L800.5,825.7 L801,825.0 L801.5,825.4 L801.9,827.5 L802.3,827.7 L802.7,827.6 L803.1,829.9 L803.5,829.7 L804,831.4 L804.4,831.2 L804.9,831.4 L805.4,832.5 L805.9,833.5 L806.5,835.1 L806.9,834.6 L807.4,835.7 L807.8,837.3 L808.3,837.3 L808.8,837.1 L809.3,837.6 L809.8,839.7 L810.3,841.0 L810.8,841.4 L811.3,842.1 L811.9,842.6 L812.4,843.6 L813,842.5 L813.6,843.9 L814.1,845.8 L814.7,847.1 L815.3,847.3 L815.9,846.7 L816.5,848.7 L817.1,849.4 L817.6,849.4 L818.2,850.2 L818.8,851.0 L819.4,852.2 L820,853.4 L820.6,853.5 L821.2,853.5 L821.8,854.6 L822.4,854.7 L823,856.8 L823.4,857.3 L823.9,857.0 L824.3,857.2 L824.8,856.6 L825.2,857.7 L825.6,857.6 L826.1,859.7 L826.5,859.7 L827,859.6 L827.4,860.0 L827.9,860.5 L828.3,861.0 L828.8,861.5 L829.3,861.6 L829.7,863.1 L830.2,861.8 L830.6,863.0 L831.1,864.5 L831.6,865.2 L832,865.3 L832.5,864.5 L833,864.9 L833.4,865.2 L833.9,867.0 L834.4,866.0 L834.8,867.6 L835.3,866.8 L835.8,866.7 L836.2,868.7 L836.7,869.0 L837.2,868.3 L837.6,869.0 L838.1,870.2 L838.6,869.5 L839.1,869.7 L839.5,870.8 L840,872.2 L840.5,870.4 L841,871.8 L841.5,872.6 L842,871.6 L842.5,871.5 L843,873.6 L843.5,872.9 L844,873.5 L844.5,874.3 L845.1,874.2 L845.6,874.1 L846.1,875.3 L846.6,874.9 L847.1,874.9 L847.6,877.1 L848.1,875.5 L848.6,877.1 L849.2,877.3 L849.7,877.5 L850.2,877.8 L850.7,877.4 L851.2,878.3 L851.7,878.3 L852.3,879.0 L852.8,878.6 L853.3,879.5 L853.8,879.3 L854.3,879.9 L854.8,879.9 L855.4,880.7 L855.9,879.9 L856.4,881.3 L856.9,880.5 L857.5,882.2 L858,881.7 L858.5,883.5 L859.1,880.9 L859.6,883.6 L860.1,882.0 L860.7,883.7 L861.2,882.9 L861.7,884.6 L862.3,883.9 L862.8,884.7 L863.3,883.9 L863.9,885.2 L864.4,884.4 L864.9,886.2 L865.5,885.0 L866,886.5 L866.5,885.6 L867.1,886.8 L867.6,886.4 L868.2,887.3 L868.7,887.0 L869.2,888.1 L869.8,887.4 L870.3,888.3 L870.8,888.2 L871.4,889.8 L871.9,888.6 L872.5,890.7 L873,888.2 L873.5,890.3 L874.1,888.2 L874.6,891.6 L875.1,888.5 L875.7,891.3 L876.2,889.4 L876.8,891.9 L877.3,889.7 L877.8,893.2 L878.4,890.4 L878.9,894.5 L879.4,890.9 L880,895.1 L880.5,893.0 L881.1,894.2 L881.6,892.6 L882.1,895.6 L882.7,893.2 L883.2,895.0 L883.8,894.7 L884.3,895.5 L884.8,894.8 L885.4,896.3 L885.9,895.4 L886.5,896.7 L887,896.0 L887.5,897.2 L888.1,896.4 L888.6,897.6 L889.2,897.4 L889.7,898.3 L890.3,897.5 L890.8,899.0 L891.4,896.9 L892,900.8 L892.5,898.3 L893.1,901.3 L893.6,897.8 L894.2,900.0 L894.7,898.5 L895.2,901.8 L895.8,898.2 L896.3,902.5 L896.9,899.6 L897.4,901.3 L898,898.4 L898.6,902.1 L899.1,898.8 L899.7,904.2 L900.3,900.7 L900.9,904.1 L901.5,900.4 L902.1,904.7 L902.7,900.0 L903.3,903.6 L904,901.6 L904.6,904.4 L905.3,902.2 L906,905.1 L906.5,902.7 L907,904.9 L907.5,903.5 L908,904.8 L908.5,903.6 L909,906.0 L909.5,904.1 L910.1,906.6 L910.6,902.8 L911.1,906.5 L911.7,904.6 L912.3,906.0 L912.8,904.6 L913.4,907.1 L913.9,905.0 L914.5,907.1 L915.1,904.8 L915.7,906.3 L916.3,905.2 L916.9,906.6 L917.5,905.5 L918.1,907.2 L918.7,905.8 L919.3,907.2 L919.9,906.4 L920.5,907.2 L921.1,906.9 L921.7,907.5 L922.3,907.1 L922.9,908.1 L923.6,906.5 L924.2,908.3 L924.8,907.1 L925.4,909.2 L926.1,906.8 L926.7,908.7 L927.3,907.0 L927.9,909.5 L928.6,907.0 L929.2,909.5 L929.8,908.0 L930.4,910.0 L931.1,908.4 L931.7,909.9 L932.3,908.7 L932.9,911.1 L933.5,908.3 L934.2,910.2 L934.8,908.2 L935.4,911.1 L936,907.6 L936.6,910.5 L937.2,908.8 L937.8,911.4 L938.4,909.0 L939,910.3 L939.6,909.6 L940.2,910.7 L940.8,908.9 L941.4,911.3 L942,908.5 L942.6,910.8 L943.3,909.6 L943.9,912.9 L944.5,909.0 L945.1,912.8 L945.7,909.5 L946.3,913.1 L947,909.8 L947.6,912.7 L948.2,907.9 L948.8,912.1 L949.5,909.1 L950.1,911.4 L950.7,908.8 L951.3,911.6 L952,908.5 L952.6,912.2 L953.2,909.7 L953.8,912.2 L954.5,910.2 L955.1,911.1 L955.7,910.2 L956.3,911.7 L956.9,909.0 L957.6,911.0 L958.2,910.3 L958.8,911.4 L959.4,907.8 L960,913.2 L960.6,909.1 L961.2,911.4 L961.8,909.2 L962.5,912.9 L963.1,908.8 L963.7,911.8 L964.3,909.2 L964.9,912.7 L965.5,908.0 L966,911.4 L966.6,909.2 L967.2,910.9 L967.8,909.1 L968.4,911.0 L969,909.8 L969.5,912.1 L970.1,908.0 L970.7,911.7 L971.2,908.7 L971.8,912.3 L972.3,908.9 L972.9,911.8 L973.6,908.4 L974.2,911.0 L974.9,908.0 L975.5,910.2 L976.1,908.2 L976.8,910.5 L977.4,909.1 L978,910.1 L978.6,908.3 L979.2,910.2 L979.8,908.3 L980.5,909.3 L981.1,908.8 L981.7,909.5 L982.2,908.3 L982.8,909.1 L983.4,908.5 L984,909.1 L984.6,907.8 L985.2,910.9 L985.8,907.5 L986.4,910.2 L987,906.2 L987.5,909.5 L988.1,906.6 L988.7,908.4 L989.3,906.2 L989.9,908.9 L990.5,906.3 L991.1,908.9 L991.7,906.6 L992.3,907.7 L992.9,906.8 L993.5,908.0 L994.1,906.4 L994.7,907.7 L995.4,906.5 L996,907.2 L996.6,906.4 L997.2,907.7 L997.8,906.3 L998.3,908.5 L998.9,905.2 L999.5,907.5 L1000.1,906.5 L1000.7,908.6 L1001.2,904.8 L1001.8,907.6 L1002.4,905.8 L1003,907.4 L1003.6,905.8 L1004.1,908.0 L1004.7,906.4 L1005.3,908.7 L1005.9,905.3 L1006.5,909.5 L1007.1,905.1 L1007.7,909.7 L1008.2,905.9 L1008.8,907.5 L1009.4,906.9 L1010,908.0 L1010.6,907.1 L1011.2,907.7 L1011.9,906.8 L1012.5,909.4 L1013.1,906.5 L1013.7,909.0 L1014.3,906.6 L1014.9,908.5 L1015.6,907.1 L1016.2,907.9 L1016.8,907.3 L1017.5,908.6 L1018.1,906.5 L1018.8,908.1 L1019.4,907.2 L1020.1,908.1 L1020.8,906.1 L1021.4,908.7 L1022.1,907.0 L1022.8,909.4 L1023.3,907.0 L1023.9,908.4 L1024.4,906.3 L1025,908.2 L1025.5,907.5 L1026.1,909.2 L1026.7,907.1 L1027.2,909.2 L1027.8,905.2 L1028.4,909.1 L1029,907.0 L1029.6,910.1 L1030.2,906.9 L1030.8,908.2 L1031.4,907.1 L1032,908.2 L1032.7,906.9 L1033.3,908.9 L1033.9,907.1 L1034.5,908.6 L1035.2,906.1 L1035.8,908.5 L1036.5,906.7 L1037.1,908.7 L1037.7,906.0 L1038.4,908.0 L1039,906.6 L1039.7,908.0 L1040.3,906.9 L1041,907.7 L1041.6,906.2 L1042.3,908.8 L1042.9,904.4 L1043.6,909.0 L1044.3,904.7 L1044.9,908.0 L1045.6,905.2 L1046.2,907.7 L1046.9,906.6 L1047.5,907.4 L1048.2,906.2 L1048.8,907.1 L1049.5,906.1 L1050.1,907.1 L1050.8,905.3 L1051.4,907.4 L1052,905.7 L1052.7,907.4 L1053.3,905.8 L1054,908.8 L1054.6,904.4 L1055.2,907.4 L1055.8,905.8 L1056.4,907.8 L1057.1,905.8 L1057.7,907.1 L1058.3,906.0 L1058.9,906.5 L1059.5,906.1 L1060.1,907.2 L1060.7,905.9 L1061.2,907.6 L1061.8,905.5 L1062.4,906.9 L1062.9,904.8 L1063.5,907.0 L1064,903.9 L1064.6,906.3 L1065.1,905.4 L1065.7,906.8 L1066.2,905.8 L1066.7,906.2 L1067.2,905.5 L1067.7,906.8 L1068.4,905.1 L1069.1,906.7 L1069.8,905.2 L1070.5,906.7 L1071.1,905.0 L1071.8,906.2 L1072.4,905.8 L1073,906.4 L1073.6,905.1 L1074.2,906.1 L1074.8,905.3 L1075.4,906.9 L1076,904.4 L1076.6,906.2 L1077.2,904.7 L1077.7,907.1 L1078.3,904.4 L1078.9,907.2 L1079.4,904.3 L1080,907.0 L1080.5,904.1 L1081.1,907.5 L1081.7,905.4 L1082.3,906.6 L1082.8,905.2 L1083.4,906.5 L1084,905.1 L1084.6,907.2 L1085.2,904.2 L1085.8,907.2 L1086.4,904.3 L1087,908.3 L1087.7,903.5 L1088.3,908.1 L1089,903.6 L1089.5,906.6 L1090.1,904.7 L1090.7,907.5 L1091.2,905.8 L1091.8,906.9 L1092.4,905.5 L1093,907.5 L1093.6,904.5 L1094.2,906.9 L1094.8,904.0 L1095.5,907.0 L1096.1,904.4 L1096.7,906.9 L1097.4,905.5 L1098,907.1 L1098.6,905.7 L1099.3,906.9 L1099.9,905.8 L1100.6,907.9 L1101.2,905.2 L1101.9,906.9 L1102.5,904.3 L1103.2,907.8 L1103.8,905.5 L1104.5,907.7 L1105.2,905.5 L1105.8,907.9 L1106.5,906.2 L1107.1,907.3 L1107.8,905.7 L1108.4,907.2 L1109,906.1 L1109.7,907.4 L1110.3,906.5 L1110.9,907.0 L1111.6,905.7 L1112.2,907.1 L1112.8,905.6 L1113.4,907.7 L1114,905.3 L1114.6,908.2 L1115.2,906.1 L1115.7,907.4 L1116.3,906.7 L1116.9,907.4 L1117.4,906.6 L1118,907.4 L1118.5,906.4 L1119,908.2 L1119.5,906.7 L1120,908.2 L1120.5,905.7 L1121,907.5 L1121.7,906.5 L1122.5,907.6 L1123.2,906.9 L1123.8,907.4 L1124.5,906.8 L1125.1,907.6 L1125.8,906.8 L1126.4,921.1 L1127,892.5 L1127.6,921.5 L1128.2,891.2 L1128.7,922.5 L1129.3,893.5 L1129.9,922.4 L1130.5,889.5"/>
<path stroke="#000000" d="M865.0,888.5 V812 M999,909.9 V896 M1066.5,909.0 V893"/>
<path stroke="#00ff00" d="M247.4,0.0 L247.4,1.2 L247.4,2.4 L247.4,3.5 L247.5,4.6 L247.5,5.7 L247.5,6.8 L247.5,7.9 L247.5,8.9 L247.5,10.0 L247.5,11.0 L247.6,12.1 L247.6,13.1 L247.6,14.1 L247.6,15.1 L247.6,16.2 L247.6,17.2 L247.6,18.2 L247.6,19.3 L247.7,20.4 L247.7,21.4 L247.7,22.5 L247.7,23.7 L247.7,24.8 L247.7,26.0 L247.7,27.1 L247.8,28.4 L247.8,29.6 L247.8,30.9 L247.8,32.2 L247.8,33.5 L247.9,34.9 L247.9,36.4 L247.9,37.9 L247.9,39.4 L247.9,41.0 L248,42.6 L248,44.3 L248,46.0 L248,46.7 L248,47.3 L248,48.0 L248,48.7 L248,49.4 L248.1,50.1 L248.1,50.8 L248.1,51.5 L248.1,52.2 L248.1,53.0 L248.1,53.7 L248.1,54.5 L248.1,55.2 L248.1,56.0 L248.1,56.8 L248.2,57.6 L248.2,58.4 L248.2,59.2 L248.2,60.0 L248.2,60.8 L248.2,61.6 L248.2,62.5 L248.2,63.3 L248.3,64.2 L248.3,65.1 L248.3,65.9 L248.3,66.8 L248.3,67.7 L248.3,68.6 L248.3,69.5 L248.3,70.4 L248.4,71.3 L248.4,72.2 L248.4,73.2 L248.4,74.1 L248.4,75.1 L248.4,76.0 L248.4,77.0 L248.4,77.9 L248.5,78.9 L248.5,79.9 L248.5,80.9 L248.5,81.9 L248.5,82.9 L248.5,83.9 L248.5,84.9 L248.6,86.0 L248.6,87.0 L248.6,88.0 L248.6,89.1 L248.6,90.1 L248.6,91.2 L248.7,92.2 L248.7,93.3 L248.7,94.4 L248.7,95.5 L248.7,96.6 L248.7,97.7 L248.7,98.8 L248.8,99.9 L248.8,101.0 L248.8,102.1 L248.8,103.2 L248.8,104.4 L248.8,105.5 L248.9,106.6 L248.9,107.8 L248.9,108.9 L248.9,110.1 L248.9,111.2 L248.9,112.4 L249,113.6 L249,114.8 L249,116.0 L249,117.1 L249,118.3 L249,119.5 L249.1,120.7 L249.1,121.9 L249.1,123.2 L249.1,124.4 L249.1,125.6 L249.2,126.8 L249.2,128.1 L249.2,129.3 L249.2,130.5 L249.2,131.8 L249.2,133.0 L249.3,134.3 L249.3,135.5 L249.3,136.8 L249.3,138.1 L249.3,139.3 L249.4,140.6 L249.4,141.9 L249.4,143.2 L249.4,144.5 L249.4,145.8 L249.4,147.0 L249.5,148.3 L249.5,149.6 L249.5,150.9 L249.5,152.3 L249.5,153.6 L249.6,154.9 L249.6,156.2 L249.6,157.5 L249.6,158.8 L249.6,160.2 L249.7,161.5 L249.7,162.8 L249.7,164.2 L249.7,165.5 L249.7,166.8 L249.8,168.2 L249.8,169.5 L249.8,170.9 L249.8,172.2 L249.8,173.6 L249.9,174.9 L249.9,176.3 L249.9,177.7 L249.9,179.0 L249.9,180.4 L250,181.7 L250,183.1 L250,184.5 L250,185.9 L250,187.2 L250.1,188.6 L250.1,190.0 L250.1,191.4 L250.1,192.8 L250.1,194.1 L250.2,195.5 L250.2,196.9 L250.2,198.3 L250.2,199.7 L250.2,201.1 L250.3,202.5 L250.3,203.9 L250.3,205.3 L250.3,206.6 L250.3,208.0 L250.4,209.4 L250.4,210.8 L250.4,212.2 L250.4,213.6 L250.4,215.0 L250.5,216.4 L250.5,217.8 L250.5,219.2 L250.5,220.6 L250.5,222.0 L250.6,223.5 L250.6,224.9 L250.6,226.3 L250.6,227.7 L250.6,229.1 L250.7,230.5 L250.7,231.9 L250.7,233.3 L250.7,234.7 L250.7,236.1 L250.8,237.5 L250.8,238.9 L250.8,240.3 L250.8,241.7 L250.8,243.1 L250.9,244.5 L250.9,245.9 L250.9,247.3 L250.9,248.7 L250.9,250.1 L251,251.5 L251,252.9 L251,254.3 L251,255.7 L251,257.1 L251.1,258.5 L251.1,259.9 L251.1,261.3 L251.1,262.6 L251.1,264.0 L251.2,265.4 L251.2,266.8 L251.2,268.2 L251.2,269.6 L251.2,270.9 L251.3,272.3 L251.3,273.7 L251.3,275.1 L251.3,276.5 L251.3,277.8 L251.4,279.2 L251.4,280.6 L251.4,281.9 L251.4,283.3 L251.4,284.6 L251.5,286.0 L251.5,287.4 L251.5,288.7 L251.5,290.1 L251.5,291.4 L251.6,292.8 L251.6,294.1 L251.6,295.4 L251.6,296.8 L251.6,298.1 L251.7,299.4 L251.7,300.8 L251.7,302.1 L251.7,303.4 L251.7,304.7 L251.8,306.1 L251.8,307.4 L251.8,308.7 L251.8,310.0 L251.8,311.3 L251.8,312.6 L251.9,313.9 L251.9,315.2 L251.9,316.5 L251.9,317.8 L251.9,319.0 L252,320.3 L252,321.6 L252,322.9 L252,324.1 L252,325.4 L252,326.6 L252.1,327.9 L252.1,329.1 L252.1,330.4 L252.1,331.6 L252.1,332.9 L252.2,334.1 L252.2,335.3 L252.2,336.5 L252.2,337.8 L252.2,339.0 L252.2,340.2 L252.3,341.4 L252.3,342.6 L252.3,343.8 L252.3,345.0 L252.3,346.2 L252.3,347.3 L252.4,348.5 L252.4,349.7 L252.4,350.8 L252.4,352.0 L252.4,353.1 L252.4,354.3 L252.5,355.4 L252.5,356.6 L252.5,357.7 L252.5,358.8 L252.5,359.9 L252.5,361.0 L252.6,362.2 L252.6,363.3 L252.6,364.3 L252.6,365.4 L252.6,366.5 L252.6,367.6 L252.6,368.7 L252.7,369.7 L252.7,370.8 L252.7,371.8 L252.7,372.9 L252.7,373.9 L252.7,374.9 L252.7,376.0 L252.8,377.0 L252.8,378.0 L252.8,379.0 L252.8,380.0 L252.8,381.4 L252.8,382.8 L252.9,384.2 L252.9,385.6 L252.9,387.0 L252.9,388.4 L252.9,389.8 L252.9,391.2 L253,392.5 L253,393.9 L253,395.3 L253,396.7 L253,398.0 L253.1,399.4 L253.1,400.7 L253.1,402.1 L253.1,403.4 L253.1,404.8 L253.1,406.1 L253.1,407.5 L253.2,408.8 L253.2,410.1 L253.2,411.5 L253.2,412.8 L253.2,414.1 L253.2,415.4 L253.3,416.8 L253.3,418.1 L253.3,419.4 L253.3,420.7 L253.3,422.0 L253.3,423.3 L253.3,424.6 L253.4,425.9 L253.4,427.2 L253.4,428.5 L253.4,429.7 L253.4,431.0 L253.4,432.3 L253.4,433.6 L253.5,434.8 L253.5,436.1 L253.5,437.4 L253.5,438.6 L253.5,439.9 L253.5,441.1 L253.5,442.4 L253.5,443.6 L253.6,444.9 L253.6,446.1 L253.6,447.4 L253.6,448.6 L253.6,449.8 L253.6,451.1 L253.6,452.3 L253.6,453.5 L253.7,454.7 L253.7,456.0 L253.7,457.2 L253.7,458.4 L253.7,459.6 L253.7,460.8 L253.7,462.0 L253.8,463.2 L253.8,464.4 L253.8,465.6 L253.8,466.8 L253.8,468.0 L253.8,469.2 L253.8,470.4 L253.8,471.6 L253.9,472.8 L253.9,473.9 L253.9,475.1 L253.9,476.3 L253.9,477.5 L253.9,478.6 L253.9,479.8 L253.9,481.0 L254,482.1 L254,483.3 L254,484.4 L254,485.6 L254,486.8 L254,487.9 L254,489.1 L254.1,490.2 L254.1,491.3 L254.1,492.5 L254.1,493.6 L254.1,494.8 L254.1,495.9 L254.1,497.0 L254.2,498.2 L254.2,499.3 L254.2,500.4 L254.2,501.5 L254.2,502.7 L254.2,503.8 L254.3,504.9 L254.3,506.0 L254.3,507.1 L254.3,508.2 L254.3,509.3 L254.3,510.5 L254.4,511.6 L254.4,512.7 L254.4,513.8 L254.4,514.9 L254.4,516.0 L254.4,517.1 L254.5,518.2 L254.5,519.2 L254.5,520.3 L254.5,521.4 L254.5,522.5 L254.5,523.6 L254.6,524.7 L254.6,525.8 L254.6,526.8 L254.6,527.9 L254.6,529.0 L254.7,530.1 L254.7,531.1 L254.7,532.2 L254.7,533.3 L254.7,534.3 L254.8,535.4 L254.8,536.5 L254.8,537.5 L254.8,538.6 L254.9,539.7 L254.9,540.7 L254.9,541.8 L254.9,542.8 L255,543.9 L255,544.9 L255,546.0 L255,547.4 L255.1,548.7 L255.1,550.1 L255.1,551.5 L255.2,552.8 L255.2,554.2 L255.2,555.6 L255.2,557.0 L255.3,558.4 L255.3,559.8 L255.3,561.1 L255.3,562.5 L255.4,563.9 L255.4,565.3 L255.4,566.7 L255.5,568.1 L255.5,569.5 L255.5,570.9 L255.5,572.3 L255.6,573.7 L255.6,575.1 L255.6,576.5 L255.6,577.9 L255.7,579.2 L255.7,580.6 L255.7,582.0 L255.7,583.4 L255.8,584.8 L255.8,586.1 L255.8,587.5 L255.8,588.8 L255.9,590.2 L255.9,591.6 L255.9,592.9 L256,594.2 L256,595.6 L256,596.9 L256,598.2 L256.1,599.5 L256.1,600.8 L256.1,602.2 L256.2,603.4 L256.2,604.7 L256.2,606.0 L256.3,607.3 L256.3,608.5 L256.3,609.8 L256.4,611.0 L256.4,612.2 L256.4,613.5 L256.5,614.7 L256.5,615.9 L256.6,617.1 L256.6,618.2 L256.6,619.4 L256.7,620.6 L256.7,621.7 L256.8,622.8 L256.8,623.9 L256.9,625.0 L256.9,626.1 L257,627.2 L257,628.3 L257.1,629.3 L257.1,630.3 L257.2,631.3 L257.2,632.3 L257.3,633.3 L257.3,634.3 L257.4,635.3 L257.5,636.2 L257.5,637.1 L257.6,638.0 L257.7,638.9 L257.7,639.8 L257.8,640.6 L257.9,641.4 L257.9,642.2 L258,643.0 L258.1,643.8 L258.1,644.6 L258.2,645.3 L258.3,646.0 L258.5,647.6 L258.7,649.1 L259,650.4 L259.2,651.6 L259.5,652.7 L259.7,653.7 L260,654.7 L260.2,655.7 L260.5,656.7 L260.7,657.7 L261,658.9 L261.2,660.1 L261.4,661.5 L261.6,663.0 L261.7,663.8 L261.8,664.7 L261.8,665.6 L261.9,666.5 L262,667.5 L262.1,668.4 L262.1,669.4 L262.2,670.5 L262.2,671.5 L262.3,672.6 L262.3,673.7 L262.4,674.8 L262.4,676.0 L262.4,677.1 L262.5,678.3 L262.5,679.5 L262.5,680.8 L262.6,682.0 L262.6,683.2 L262.6,684.5 L262.6,685.8 L262.7,687.1 L262.7,688.4 L262.7,689.7 L262.7,691.0 L262.7,692.3 L262.7,693.7 L262.8,695.0 L262.8,696.4 L262.8,697.7 L262.8,699.1 L262.8,700.4 L262.8,701.8 L262.8,703.1 L262.8,704.5 L262.8,705.8 L262.9,707.2 L262.9,708.5 L262.9,709.9 L262.9,711.2 L262.9,712.6 L262.9,713.9 L262.9,715.2 L263,716.5 L263,717.8 L263,719.1 L263,720.4 L263.1,721.6 L263.1,722.9 L263.1,724.1 L263.1,725.3 L263.2,726.5 L263.2,727.7 L263.3,728.9 L263.3,730.0 L263.4,731.3 L263.4,732.6 L263.5,733.9 L263.5,735.1 L263.6,736.4 L263.6,737.6 L263.7,738.9 L263.8,740.1 L263.8,741.3 L263.9,742.5 L263.9,743.8 L264,745.0 L264.1,746.2 L264.1,747.3 L264.2,748.5 L264.3,749.7 L264.3,750.9 L264.4,752.1 L264.5,753.3 L264.5,754.4 L264.6,755.6 L264.7,756.8 L264.7,758.0 L264.8,759.1 L264.9,760.3 L265,761.5 L265,762.7 L265.1,763.9 L265.2,765.1 L265.2,766.3 L265.3,767.5 L265.4,768.7 L265.4,769.9 L265.5,771.1 L265.6,772.4 L265.7,773.6 L265.7,774.9 L265.8,776.1 L265.9,777.4 L265.9,778.7 L266,780.0 L266.1,781.1 L266.1,782.3 L266.2,783.4 L266.2,784.6 L266.3,785.7 L266.3,786.9 L266.4,788.1 L266.5,789.2 L266.5,790.4 L266.6,791.6 L266.6,792.8 L266.7,794.0 L266.8,795.3 L266.8,796.5 L266.9,797.7 L266.9,798.9 L267,800.1 L267,801.4 L267.1,802.6 L267.2,803.9 L267.2,805.1 L267.3,806.3 L267.3,807.6 L267.4,808.8 L267.5,810.1 L267.5,811.3 L267.6,812.6 L267.6,813.8 L267.7,815.1 L267.8,816.3 L267.8,817.6 L267.9,818.8 L267.9,820.1 L268,821.3 L268.1,822.6 L268.1,823.8 L268.2,825.0 L268.2,826.3 L268.3,827.5 L268.4,828.7 L268.4,830.0 L268.5,831.2 L268.5,832.4 L268.6,833.6 L268.7,834.8 L268.7,836.0 L268.8,837.2 L268.9,838.4 L268.9,839.5 L269,840.7 L269,841.9 L269.1,843.0 L269.2,844.1 L269.2,845.3 L269.3,846.4 L269.4,847.7 L269.5,849.0 L269.5,850.3 L269.6,851.6 L269.7,852.9 L269.8,854.1 L269.8,855.4 L269.9,856.7 L270,858.0 L270.1,859.2 L270.2,860.5 L270.2,861.7 L270.3,863.0 L270.4,864.2 L270.5,865.5 L270.6,866.7 L270.7,868.0 L270.7,869.2 L270.8,870.4 L270.9,871.6 L271,872.9 L271.1,874.1 L271.2,875.3 L271.2,876.5 L271.3,877.7 L271.4,878.9 L271.5,880.1 L271.6,881.2 L271.7,882.4 L271.7,883.6 L271.8,884.7 L271.9,885.9 L272,887.0 L272.1,888.2 L272.1,889.3 L272.2,890.5 L272.3,891.6 L272.4,892.7 L272.4,893.8 L272.5,894.9 L272.6,896.0 L272.7,897.3 L272.8,898.6 L272.9,899.9 L273,901.1 L273,902.4 L273.1,903.6 L273.2,904.9 L273.3,906.1 L273.4,907.3 L273.5,908.5 L273.6,909.7 L273.6,910.9 L273.7,912.0 L273.8,913.2 L273.9,914.4 L274,915.6 L274.1,916.7 L274.1,917.9 L274.2,919.0 L274.3,920.2 L274.4,921.4 L274.5,922.5 L274.6,923.7 L274.6,924.9 L274.7,926.0 L274.8,927.2 L274.9,928.4 L275,929.6 L275.1,930.8 L275.2,932.1 L275.3,933.3 L275.4,934.6 L275.5,935.8 L275.6,937.0 L275.7,938.3 L275.8,939.5 L275.9,940.7 L276,942.0 L276.1,943.2 L276.2,944.5 L276.2,945.7 L276.3,946.9 L276.4,948.2 L276.5,949.4 L276.6,950.6 L276.7,951.9 L276.8,953.1 L276.9,954.4 L277,955.6 L277.1,956.8 L277.2,958.1 L277.3,959.3 L277.4,960.5 L277.5,961.8 L277.6,963.0 L277.7,964.2 L277.8,965.5 L277.9,966.7 L278,967.9 L278.1,969.1 L278.1,970.3 L278.2,971.6 L278.3,972.8 L278.4,974.0 L278.5,975.2 L278.6,976.5 L278.7,977.7 L278.8,978.9 L278.9,980.1 L279,981.3 L279,982.6 L279.1,983.8 L279.2,985.0 L279.3,986.2 L279.4,987.4 L279.5,988.7 L279.6,989.9 L279.7,991.1 L279.7,992.3 L279.8,993.6 L279.9,994.8 L280,996.0 L280.1,997.2 L280.2,998.5 L280.3,999.7 L280.3,1000.9 L280.4,1002.2 L280.5,1003.4 L280.6,1004.7 L280.7,1005.9 L280.7,1007.2 L280.8,1008.4 L280.9,1009.7 L281,1010.9 L281.1,1012.2 L281.1,1013.4 L281.2,1014.6 L281.3,1015.9 L281.4,1017.1 L281.5,1018.3 L281.5,1019.6 L281.6,1020.8 L281.7,1022.0 L281.8,1023.2 L281.9,1024.4 L282,1025.5 L282,1026.7 L282.1,1027.9 L282.2,1029.0 L282.3,1030.4 L282.3,1031.8 L282.4,1033.2 L282.4,1034.6 L282.4,1036.1 L282.4,1037.6 L282.4,1039.0 L282.4,1040.5 L282.4,1041.9 L282.4,1043.3 L282.5,1044.7 L282.5,1046.0 L282.6,1047.3 L282.7,1048.5 L282.8,1049.6 L283,1050.7 L283.2,1051.7 L283.5,1052.5 L283.8,1053.3 L284.2,1054.0 L285.2,1055.1 L286.3,1056.0 L287.5,1056.6 L288.8,1056.7 L290,1056.5 L291.1,1056.9 L292.3,1056.6 L293.4,1056.1 L294.5,1053.8 L295.6,1052.9 L296.5,1053.1 L296.9,1051.0 L297.3,1050.0 L297.7,1049.9 L298,1048.5 L298.2,1048.1 L298.5,1045.2 L298.7,1044.3 L298.8,1043.1 L299,1041.7 L299.2,1039.5 L299.4,1039.3 L299.5,1036.6 L299.7,1035.9 L299.9,1036.0 L300.2,1032.9 L300.4,1032.8 L300.7,1031.2 L301.1,1031.3 L301.5,1029.3 L302.2,1027.4 L303,1027.9 L303.8,1026.0 L304.7,1023.4 L305.6,1023.4 L306.5,1022.1 L307.4,1023.0 L308.2,1021.2 L308.9,1022.6 L309.6,1023.9 L310.3,1024.6 L311,1025.5 L311.7,1026.2 L312.4,1026.6 L313,1027.4 L313.7,1029.1 L314.2,1032.3 L314.8,1033.2 L315.2,1032.7 L315.5,1035.9 L315.8,1035.8 L316.1,1036.2 L316.4,1038.1 L316.6,1039.1 L316.9,1039.8 L317.1,1042.1 L317.3,1043.1 L317.5,1043.8 L317.7,1046.4 L318,1047.0 L318.2,1047.9 L318.4,1048.8 L318.7,1050.9 L318.9,1051.4 L319.2,1054.5 L319.5,1054.7 L319.8,1057.0 L320.1,1056.8 L320.5,1058.5 L320.8,1060.0 L321.2,1062.4 L321.6,1062.1 L322,1064.3 L322.4,1065.2 L322.8,1068.8 L323.2,1070.1 L323.6,1070.7 L324,1072.8 L324.4,1073.9 L324.9,1075.4 L325.3,1077.3 L325.7,1078.7 L326.1,1077.5 L326.5,1079.6 L326.9,1081.1 L327.3,1080.4 L327.6,1080.3 L328,1080.1 L328.3,1081.2 L328.5,1080.0 L328.8,1080.1 L329,1079.7 L329.3,1079.7 L329.5,1079.8 L329.8,1079.2 L330,1076.7 L330.2,1075.6 L330.5,1075.7 L330.7,1074.6 L331,1072.4 L331.2,1072.8 L331.4,1071.2 L331.7,1068.4 L331.9,1067.7 L332.1,1065.3 L332.3,1064.9 L332.6,1063.5 L332.8,1061.0 L333,1059.2 L333.2,1057.9 L333.4,1057.1 L333.7,1054.4 L333.9,1053.1 L334.1,1051.6 L334.3,1050.6 L334.5,1049.4 L334.7,1047.4 L334.9,1046.6 L335.1,1045.8 L335.3,1042.7 L335.5,1043.2 L335.7,1040.3 L335.9,1039.7 L336.1,1037.9 L336.3,1037.5 L336.5,1036.9 L336.7,1035.7 L336.9,1034.3 L337,1033.1 L337.2,1031.1 L337.3,1031.7 L337.5,1031.1 L337.6,1029.3 L337.7,1028.1 L337.8,1026.1 L338,1025.4 L338.1,1024.6 L338.2,1023.3 L338.3,1024.2 L338.4,1023.1 L338.6,1020.8 L338.7,1019.4 L338.8,1019.1 L339,1017.6 L339.1,1017.6 L339.3,1015.9 L339.4,1014.7 L339.6,1015.3 L339.8,1013.9 L340,1013.9 L340.2,1012.8 L340.4,1012.3 L340.6,1010.9 L340.9,1010.8 L341.1,1010.0 L341.4,1009.6 L341.9,1007.2 L342.4,1008.6 L343,1005.8 L343.6,1004.5 L344.3,1004.2 L344.9,1004.4 L345.5,1004.3 L346.2,1003.5 L346.8,1001.9 L347.4,1002.9 L348,1000.9 L348.5,1001.1 L349,1001.7 L349.5,1003.6 L350,1004.0 L350.5,1003.3 L351,1005.5 L351.5,1006.5 L352,1006.1 L352.4,1008.3 L352.9,1008.6 L353.4,1008.8 L353.8,1010.9 L354.3,1011.9 L354.7,1013.7 L355.1,1013.7 L355.4,1015.3 L355.7,1015.3 L356,1017.0 L356.4,1018.6 L356.7,1017.4 L357,1019.6 L357.3,1020.7 L357.6,1022.7 L357.9,1021.9 L358.1,1024.4 L358.4,1024.7 L358.7,1026.2 L359,1027.8 L359.3,1028.4 L359.7,1028.3 L360,1028.8 L360.3,1031.0 L360.7,1030.6 L361,1032.0 L361.4,1031.4 L362,1030.3 L362.5,1029.9 L363.1,1029.8 L363.8,1030.3 L364.4,1028.8 L365,1028.2 L365.6,1027.3 L366.3,1025.2 L366.9,1024.5 L367.4,1023.3 L368,1023.8 L368.3,1020.9 L368.5,1022.6 L368.8,1020.0 L369.1,1020.3 L369.3,1018.8 L369.6,1018.2 L369.8,1018.5 L370,1017.6 L370.2,1016.9 L370.5,1014.7 L370.7,1013.8 L370.9,1014.3 L371.1,1011.8 L371.3,1012.8 L371.5,1011.9 L371.7,1009.9 L371.9,1009.5 L372.1,1007.6 L372.3,1007.3 L372.5,1004.9 L372.7,1004.4 L372.9,1003.9 L373.1,1003.0 L373.3,1003.3 L373.5,1002.3 L373.7,999.2 L373.9,998.6 L374.1,997.2 L374.3,996.9 L374.6,997.4 L374.8,995.6 L375,993.4 L375.2,993.7 L375.4,993.8 L375.7,993.0 L375.9,992.1 L376.2,990.9 L376.4,988.9 L376.7,989.5 L377,987.1 L377.3,987.5 L377.6,984.5 L378,983.5 L378.3,984.3 L378.6,981.6 L378.9,981.5 L379.2,980.2 L379.5,979.1 L379.9,978.4 L380.2,977.8 L380.5,977.7 L380.9,976.3 L381.2,976.2 L381.6,975.2 L381.9,972.7 L382.3,972.6 L382.7,972.2 L383,970.9 L383.4,971.1 L383.8,971.6 L384.3,969.2 L384.7,970.2 L385.6,970.0 L386.5,967.7 L387.5,968.8 L388.4,966.8 L389.4,968.5 L390.4,967.1 L391.3,967.3 L391.9,969.1 L392.4,968.0 L392.9,968.4 L393.5,969.3 L394,970.9 L394.5,970.1 L395,971.3 L395.5,972.2 L396,974.1 L396.5,973.9 L397.1,976.9 L397.6,976.7 L398.1,977.9 L398.6,977.6 L399.2,979.4 L399.7,978.3 L400.5,979.1 L401.3,981.9 L402.2,980.8 L403,982.1 L403.9,982.6 L404.7,982.1 L405.5,983.2 L406.3,982.2 L406.7,983.0 L407.2,981.6 L407.6,981.6 L408,981.2 L408.4,979.4 L408.8,978.9 L409.1,978.1 L409.5,978.1 L409.9,977.4 L410.2,977.5 L410.6,975.0 L410.9,973.5 L411.3,974.4 L411.6,972.2 L412,972.2 L412.3,969.6 L412.6,967.8 L413,967.7 L413.3,967.9 L413.6,964.6 L413.9,964.7 L414.3,964.6 L414.6,962.2 L414.9,962.7 L415.3,960.0 L415.6,959.7 L415.9,958.4 L416.1,959.4 L416.4,957.5 L416.7,955.7 L417,956.3 L417.2,954.5 L417.5,953.0 L417.8,952.9 L418.1,951.9 L418.4,951.7 L418.7,948.6 L419,949.8 L419.3,948.4 L419.7,946.4 L420,946.3 L420.4,944.7 L420.9,946.1 L421.3,943.6 L422,943.1 L422.8,943.5 L423.6,942.9 L424.4,940.9 L425.2,940.1 L426.1,939.3 L427,939.0 L427.9,940.7 L428.7,938.8 L429.6,939.4 L430.3,940.4 L431,941.3 L431.7,941.6 L432.4,942.4 L433.1,942.9 L433.8,942.5 L434.5,944.1 L435.2,945.1 L436,945.2 L436.7,946.5 L437.4,948.0 L438.1,947.0 L438.9,948.9 L439.6,949.2 L440.4,948.2 L441.2,949.0 L442.1,948.4 L443,948.0 L443.8,946.1 L444.7,947.3 L445.5,945.3 L446.4,946.2 L447.2,943.9 L448,945.3 L448.8,942.9 L449.6,943.9 L450.2,943.4 L450.8,940.8 L451.3,940.1 L451.8,941.5 L452.3,940.7 L452.8,937.6 L453.3,938.0 L453.8,936.4 L454.3,934.7 L454.8,935.8 L455.2,934.4 L455.7,932.0 L456.2,932.1 L456.7,931.1 L457.2,931.8 L457.8,931.0 L458.3,928.4 L458.9,929.2 L459.5,928.4 L460.3,927.2 L461.2,927.0 L462,926.1 L462.9,924.8 L463.8,926.2 L464.7,926.0 L465.7,926.1 L466.6,924.9 L467.6,923.6 L468.5,925.7 L469.5,924.0 L470.3,923.7 L471.2,924.0 L472.1,925.4 L473,925.2 L473.9,926.4 L474.8,925.3 L475.7,925.6 L476.6,928.5 L477.5,926.8 L478.4,927.9 L479.3,927.5 L480.2,930.0 L481.1,930.2 L482,929.8 L482.8,928.7 L483.8,930.3 L484.7,928.3 L485.6,929.1 L486.6,928.5 L487.5,929.9 L488.4,929.4 L489.3,928.6 L490.1,927.2 L491,926.9 L491.9,926.6 L492.8,926.1 L493.6,924.8 L494.3,924.3 L495.1,925.0 L495.8,924.8 L496.5,924.5 L497.3,923.3 L498,922.2 L498.7,920.4 L499.5,919.9 L500.3,919.6 L501.1,920.6 L501.9,919.2 L502.8,919.4 L503.6,918.6 L504.4,918.8 L505.2,919.2 L506,919.9 L506.9,921.0 L507.8,919.0 L508.7,919.7 L509.6,921.7 L510.5,921.7 L511.4,922.2 L512.4,921.5 L513.3,921.1 L514.2,921.4 L515.1,923.3 L516,924.1 L516.9,923.7 L517.8,924.3 L518.6,925.2 L519.4,924.0 L520.2,925.3 L521,925.7 L521.8,927.2 L522.6,926.3 L523.3,926.5 L524.1,927.1 L524.8,928.3 L525.6,928.5 L526.3,929.8 L527,931.2 L527.7,931.5 L528.4,932.6 L529.2,932.9 L529.9,934.0 L530.6,933.7 L531.3,934.9 L532,934.4 L532.7,935.2 L533.6,935.3 L534.5,935.4 L535.4,933.3 L536.2,934.3 L537.1,931.9 L538,932.4 L538.9,932.3 L539.8,930.4 L540.7,930.1 L541.7,930.4 L542.7,930.6 L543.4,931.6 L544.1,930.4 L544.8,931.1 L545.6,932.6 L546.3,931.4 L547.1,932.8 L547.9,932.6 L548.6,931.6 L549.4,934.4 L550.3,932.6 L551.1,933.6 L551.9,935.7 L552.7,934.3 L553.6,936.6 L554.4,936.4 L555.3,935.8 L556.2,936.2 L557.1,938.9 L557.9,938.1 L558.8,939.4 L559.7,938.4 L560.6,939.9 L561.5,939.4 L562.4,941.0 L563.3,940.3 L564,940.8 L564.6,943.5 L565.3,943.8 L566,944.0 L566.7,943.8 L567.4,943.3 L568.1,945.2 L568.8,944.3 L569.5,944.4 L570.3,945.5 L571,946.7 L571.7,947.1 L572.4,948.3 L573.2,947.6 L573.9,947.5 L574.7,947.7 L575.4,948.6 L576.2,951.0 L576.9,949.2 L577.7,951.3 L578.4,951.3 L579.2,951.2 L580,953.0 L580.7,953.3 L581.5,952.5 L582.3,954.6 L583,953.6 L583.8,954.5 L584.5,956.0 L585.3,956.9 L586.1,957.1 L586.8,958.5 L587.6,958.6 L588.3,959.8 L589.1,958.6 L589.9,961.0 L590.6,959.5 L591.4,960.1 L592.1,960.7 L592.8,961.1 L593.6,963.0 L594.3,962.0 L595.1,964.6 L595.8,964.7 L596.5,964.5 L597.2,966.6 L597.9,967.0 L598.5,967.0 L599.2,966.1 L599.9,969.0 L600.5,968.5 L601.2,969.4 L601.9,969.0 L602.6,969.4 L603.2,970.4 L603.9,971.6 L604.6,972.2 L605.2,973.2 L605.9,972.6 L606.6,974.2 L607.3,973.4 L607.9,974.8 L608.6,974.3 L609.2,976.1 L609.9,976.4 L610.6,976.8 L611.2,977.8 L611.9,978.2 L612.6,978.8 L613.2,979.4 L613.9,980.5 L614.5,980.6 L615.2,981.8 L615.9,981.6 L616.5,982.5 L617.2,984.0 L617.8,984.1 L618.5,985.0 L619.1,985.8 L619.8,985.9 L620.4,985.7 L621.1,986.5 L621.7,987.0 L622.4,987.3 L623,989.4 L623.7,988.8 L624.3,991.5 L624.9,990.9 L625.6,992.5 L626.2,993.3 L626.8,993.5 L627.5,994.6 L628.1,995.2 L628.7,995.3 L629.4,995.3 L630,996.3 L630.6,996.6 L631.2,997.7 L631.7,998.2 L632.3,998.7 L632.9,998.9 L633.4,1000.2 L634,1000.3 L634.6,1001.5 L635.1,1001.5 L635.7,1002.8 L636.3,1003.9 L636.8,1003.3 L637.4,1004.5 L638,1005.7 L638.5,1005.9 L639.1,1007.4 L639.6,1008.4 L640.2,1009.1 L640.7,1009.0 L641.3,1009.7 L641.8,1010.9 L642.4,1011.2 L642.9,1011.1 L643.5,1012.3 L644,1014.9 L644.6,1015.7 L645.1,1014.8 L645.7,1014.6 L646.2,1017.5 L646.8,1016.7 L647.3,1016.8 L647.8,1018.1 L648.4,1018.6 L648.9,1020.9 L649.5,1020.6 L650,1022.2 L650.6,1022.0 L651.1,1022.7 L651.6,1023.9 L652.2,1025.0 L652.7,1025.6 L653.3,1027.0 L653.8,1026.9 L654.3,1028.0 L654.9,1027.6 L655.4,1029.9 L656,1030.5 L656.5,1031.5 L657,1030.6 L657.6,1032.2 L658.1,1033.4 L658.7,1032.8 L659.2,1035.2 L659.7,1035.9 L660.3,1036.0 L660.8,1036.4 L661.4,1037.9 L661.9,1039.1 L662.5,1038.9 L663,1040.6 L663.5,1039.6 L664.1,1040.8 L664.6,1042.4 L665.1,1042.2 L665.7,1043.4 L666.2,1044.5 L666.7,1045.0 L667.3,1045.3 L667.8,1045.2 L668.3,1046.7 L668.8,1046.8 L669.4,1049.4 L669.9,1050.1 L670.4,1049.0 L671,1050.9 L671.5,1051.7 L672,1052.0 L672.6,1052.1 L673.1,1054.0 L673.6,1053.6 L674.1,1055.4 L674.7,1054.7 L675.2,1056.8 L675.7,1056.7 L676.3,1057.8 L676.8,1060.0 L677.3,1060.7 L677.8,1060.3 L678.4,1061.2 L678.9,1062.0 L679.4,1062.7 L679.9,1062.9 L680.5,1063.9 L681,1065.6 L681.5,1066.1 L682.1,1065.5 L682.6,1067.9 L683.1,1068.0 L683.6,1067.9 L684.2,1068.2 L684.7,1070.5 L685.2,1070.5 L685.7,1072.5 L686.3,1071.6 L686.8,1072.0 L687.3,1073.2 L687.9,1074.2 L688.4,1074.2 L688.9,1075.7 L689.4,1076.1 L690,1078.4 L690.5,1077.8 L691,1079.2 L691.5,1079.3 L692.1,1080.5 L692.6,1081.3 L693.1,1081.9 L693.7,1083.2 L694.2,1083.3 L694.7,1084.3 L695.2,1085.3 L695.8,1085.2 L696.3,1086.4 L696.8,1088.0 L697.4,1088.3 L697.9,1088.9 L698.4,1089.1 L698.9,1090.7 L699.5,1091.4 L700,1091.4 L700.5,1092.3 L701,1093.2 L701.6,1094.0 L702.1,1094.4 L702.6,1095.0 L703.2,1095.6 L703.7,1096.9 L704.2,1097.7 L704.7,1097.9 L705.3,1099.3 L705.8,1099.4 L706.3,1101.2 L706.8,1100.3 L707.4,1102.3 L707.9,1102.7 L708.4,1102.6 L708.9,1104.7 L709.5,1105.8 L710,1107.0 L710.5,1106.4 L711,1107.2 L711.6,1108.4 L712.1,1110.0 L712.6,1109.2 L713.2,1110.4 L713.7,1111.0 L714.2,1111.1 L714.7,1112.7 L715.3,1113.7 L715.8,1113.7 L716.3,1116.0 L716.8,1115.5 L717.4,1117.3 L717.9,1117.6 L718.4,1117.3 L719,1117.9 L719.5,1118.8 L720,1119.5 L720.5,1119.6 L721.1,1120.3 L721.6,1121.8 L722.1,1121.6 L722.7,1124.7 L723.2,1125.8 L723.7,1124.2 L724.3,1126.4 L724.8,1125.9 L725.3,1128.0 L725.9,1127.7 L726.4,1129.6 L726.9,1129.7 L727.5,1129.1 L728,1129.8 L728.5,1131.4 L729.1,1132.3 L729.6,1132.9 L730.1,1134.0 L730.7,1133.8 L731.3,1134.7 L731.8,1135.2 L732.4,1137.9 L732.9,1135.6 L733.5,1138.2 L734,1137.0 L734.6,1139.7 L735.2,1140.3 L735.7,1139.9 L736.3,1142.1 L736.8,1143.0 L737.4,1143.2 L738,1145.1 L738.5,1143.7 L739.1,1145.1 L739.7,1146.3 L740.2,1146.7 L740.8,1146.8 L741.4,1147.6 L741.9,1150.3 L742.5,1149.4 L743.1,1151.4 L743.6,1152.7 L744.2,1151.7 L744.8,1152.1 L745.3,1154.1 L745.9,1155.7 L746.5,1154.7 L747,1157.3 L747.6,1158.6 L748.1,1158.1 L748.7,1158.7 L749.3,1158.5 L749.8,1159.6 L750.4,1160.9 L751,1161.4 L751.5,1161.4 L752.1,1161.9 L752.6,1162.9 L753.2,1164.3 L753.8,1165.3 L754.3,1165.4 L754.9,1165.0 L755.4,1168.2 L756,1169.1 L756.5,1167.6 L757.1,1170.0 L757.6,1169.6 L758.2,1170.1 L758.7,1171.3 L759.3,1171.0 L759.8,1172.1 L760.3,1172.5 L760.9,1173.4 L761.4,1174.1 L761.9,1173.6 L762.5,1175.7 L763,1175.6 L763.6,1178.4 L764.3,1179.2 L764.9,1177.8 L765.6,1179.7 L766.2,1180.1 L766.8,1180.1 L767.5,1180.5 L768.1,1183.0 L768.7,1181.7 L769.3,1183.7 L770,1184.4 L770.6,1184.2 L771.2,1185.1 L771.8,1185.9 L772.4,1186.7 L773,1187.5 L773.6,1187.8 L774.3,1188.8 L774.9,1189.3 L775.5,1190.5 L776.1,1190.9 L776.7,1191.4 L777.3,1192.1 L777.9,1191.3 L778.5,1192.5 L779.1,1194.5 L779.7,1196.1 L780.4,1194.6 L781,1197.2 L781.6,1196.0 L782.2,1196.9 L782.8,1199.0 L783.4,1199.2 L784,1199.0 L784.7,1200.2 L785.3,1200.8 L785.9,1200.3 L786.5,1201.8 L787.2,1201.8 L787.8,1202.3 L788.5,1203.2 L789.1,1204.0 L789.8,1203.9 L790.5,1205.9 L791.1,1205.0 L791.8,1207.9 L792.5,1206.7 L793.1,1208.5 L793.8,1208.7 L794.5,1210.1 L795.1,1209.0 L795.8,1209.1 L796.5,1210.2 L797.2,1212.3 L797.8,1213.3 L798.5,1212.0 L799.2,1213.9 L799.9,1213.8 L800.5,1215.2 L801.2,1215.1 L801.9,1215.8 L802.6,1216.9 L803.3,1217.4 L803.9,1217.6 L804.6,1219.5 L805.3,1219.4 L806,1219.2 L806.7,1220.3 L807.3,1221.5 L808,1221.6 L808.7,1221.1 L809.4,1221.9 L810.1,1222.8 L810.7,1224.3 L811.4,1225.2 L812.1,1225.3 L812.8,1225.1 L813.5,1226.1 L814.2,1228.4 L814.9,1227.1 L815.6,1229.0 L816.3,1228.8 L817,1230.9 L817.7,1229.2 L818.4,1230.6 L819.1,1232.3 L819.8,1231.1 L820.5,1232.5 L821.2,1235.4 L821.9,1234.9 L822.6,1233.3 L823.3,1233.8 L824,1237.8 L824.8,1238.0 L825.5,1236.3 L826.2,1239.1 L826.9,1239.3 L827.6,1238.8 L828.3,1239.0 L829,1239.6 L829.7,1240.3 L830.4,1241.6 L831.1,1241.1 L831.8,1243.0 L832.5,1243.5 L833.2,1244.2 L833.9,1245.1 L834.6,1243.9 L835.3,1246.6 L836,1246.0 L836.6,1246.4 L837.3,1246.1 L838,1247.9 L838.5,1248.9 L839.1,1247.2 L839.6,1248.1 L840.1,1249.7 L840.7,1247.6 L841.2,1250.1 L841.7,1249.0 L842.3,1250.6 L842.8,1249.4 L843.3,1250.6 L843.8,1250.9 L844.4,1251.4 L844.9,1254.1 L845.4,1251.0 L845.9,1251.9 L846.5,1253.9 L847,1253.0 L847.5,1255.0 L848,1253.7 L848.5,1255.8 L849.1,1253.8 L849.6,1254.9 L850.1,1255.9 L850.6,1254.5 L851.1,1257.1 L851.7,1255.1 L852.2,1257.5 L852.7,1255.5 L853.2,1257.9 L853.8,1257.2 L854.3,1258.4 L854.8,1257.5 L855.3,1258.7 L855.9,1257.8 L856.4,1259.1 L856.9,1258.8 L857.5,1260.1 L858,1258.7 L858.5,1260.1 L859.1,1259.2 L859.6,1261.0 L860.2,1260.2 L860.7,1261.7 L861.3,1260.4 L861.8,1262.1 L862.3,1261.0 L862.9,1263.0 L863.4,1261.0 L864,1263.9 L864.5,1261.0 L865,1263.8 L865.6,1262.7 L866.1,1263.5 L866.7,1263.3 L867.2,1264.1 L867.8,1263.2 L868.3,1264.9 L868.8,1263.9 L869.4,1265.1 L870,1264.5 L870.5,1265.3 L871.1,1265.1 L871.6,1265.9 L872.2,1265.7 L872.8,1266.3 L873.3,1265.7 L873.9,1266.9 L874.5,1266.2 L875,1268.0 L875.6,1266.8 L876.2,1268.4 L876.8,1266.8 L877.4,1268.5 L878,1267.3 L878.5,1268.5 L879.1,1267.1 L879.6,1270.1 L880.1,1268.1 L880.7,1269.7 L881.2,1268.6 L881.8,1271.1 L882.3,1269.2 L882.9,1270.1 L883.4,1269.6 L884,1270.4 L884.5,1270.1 L885.1,1271.2 L885.6,1270.3 L886.2,1271.2 L886.8,1270.6 L887.3,1271.5 L887.9,1271.0 L888.5,1271.7 L889,1271.5 L889.6,1273.2 L890.2,1270.4 L890.8,1274.2 L891.4,1271.6 L891.9,1273.8 L892.5,1271.0 L893.1,1273.6 L893.7,1272.6 L894.3,1274.1 L894.9,1272.8 L895.5,1274.0 L896,1272.8 L896.6,1274.4 L897.2,1272.8 L897.8,1275.3 L898.4,1273.0 L899,1275.5 L899.6,1273.7 L900.2,1276.9 L900.8,1274.0 L901.4,1276.2 L902.1,1274.1 L902.7,1277.2 L903.3,1274.5 L903.9,1276.9 L904.5,1275.8 L905.1,1277.1 L905.6,1275.7 L906.2,1277.2 L906.7,1276.1 L907.3,1277.1 L907.9,1276.3 L908.5,1277.3 L909,1276.5 L909.6,1277.4 L910.2,1276.8 L910.8,1277.8 L911.4,1277.0 L911.9,1278.1 L912.5,1277.2 L913.1,1277.8 L913.7,1277.5 L914.3,1278.4 L914.9,1277.9 L915.5,1278.7 L916.1,1277.6 L916.7,1278.5 L917.3,1278.1 L917.9,1279.2 L918.5,1278.1 L919.1,1279.4 L919.7,1276.6 L920.3,1279.7 L920.9,1276.9 L921.5,1280.0 L922.1,1278.5 L922.7,1280.0 L923.3,1277.7 L923.9,1280.3 L924.5,1278.8 L925.1,1280.1 L925.7,1279.1 L926.3,1281.0 L926.9,1279.0 L927.5,1281.2 L928.2,1278.6 L928.8,1280.9 L929.4,1279.0 L930,1280.7 L930.6,1279.4 L931.2,1280.6 L931.8,1279.4 L932.4,1281.7 L933,1279.5 L933.6,1281.0 L934.2,1278.8 L934.8,1281.5 L935.4,1278.8 L936,1281.5 L936.6,1279.6 L937.2,1282.7 L937.8,1279.8 L938.4,1282.1 L939,1280.4 L939.6,1282.2 L940.2,1280.0 L940.8,1281.7 L941.4,1281.0 L941.9,1282.4 L942.5,1280.8 L943.1,1282.3 L943.7,1280.9 L944.2,1282.2 L944.8,1281.1 L945.4,1281.9 L946,1280.6 L946.5,1283.4 L947.1,1281.4 L947.7,1282.3 L948.2,1281.0 L948.8,1282.9 L949.4,1281.6 L950,1282.3 L950.5,1281.9 L951.1,1282.5 L951.7,1281.9 L952.2,1282.5 L952.8,1281.9 L953.4,1284.1 L954,1280.6 L954.5,1283.9 L955.1,1282.1 L955.7,1283.3 L956.3,1281.5 L956.9,1283.9 L957.5,1282.1 L958.1,1282.9 L958.7,1280.5 L959.3,1283.3 L959.9,1280.6 L960.5,1282.8 L961.1,1281.9 L961.7,1283.1 L962.4,1282.5 L963,1283.4 L963.6,1282.1 L964.3,1283.1 L964.9,1282.5 L965.6,1283.3 L966.2,1282.4 L966.9,1283.5 L967.6,1282.5 L968.2,1284.6 L968.9,1282.1 L969.6,1285.0 L970.3,1281.5 L971,1284.0 L971.5,1282.4 L972,1283.5 L972.5,1282.9 L973,1283.9 L973.6,1282.3 L974.1,1283.7 L974.6,1282.2 L975.2,1283.5 L975.7,1282.6 L976.3,1284.2 L976.8,1282.5 L977.4,1283.8 L978,1282.5 L978.5,1284.8 L979.1,1282.5 L979.7,1284.5 L980.3,1281.2 L980.8,1284.4 L981.4,1281.1 L982,1284.4 L982.6,1282.2 L983.2,1284.4 L983.8,1282.8 L984.4,1283.7 L985,1281.9 L985.6,1284.1 L986.3,1282.1 L986.9,1284.2 L987.5,1282.7 L988.1,1283.7 L988.7,1282.9 L989.4,1284.6 L990,1282.6 L990.6,1284.7 L991.3,1282.7 L991.9,1284.9 L992.6,1281.9 L993.2,1284.1 L993.8,1281.7 L994.5,1284.2 L995.1,1282.0 L995.8,1284.1 L996.4,1282.2 L997.1,1284.5 L997.7,1282.4 L998.4,1284.4 L999,1282.9 L999.7,1283.7 L1000.3,1282.2 L1001,1284.7 L1001.7,1282.2 L1002.3,1283.9 L1003,1282.9 L1003.6,1284.0 L1004.3,1281.5 L1004.9,1285.2 L1005.6,1281.9 L1006.3,1284.0 L1006.9,1281.2 L1007.6,1284.3 L1008.2,1281.2 L1008.9,1283.7 L1009.5,1282.4 L1010.2,1284.6 L1010.8,1282.8 L1011.5,1285.0 L1012.1,1282.4 L1012.8,1283.9 L1013.4,1282.3 L1014.1,1284.1 L1014.7,1282.0 L1015.4,1283.6 L1016,1282.4 L1016.7,1284.4 L1017.3,1281.9 L1017.9,1284.1 L1018.6,1282.4 L1019.2,1283.7 L1019.8,1282.0 L1020.5,1283.6 L1021.1,1282.1 L1021.7,1284.6 L1022.3,1281.8 L1022.9,1285.1 L1023.5,1282.5 L1024.2,1283.5 L1024.8,1282.8 L1025.4,1283.8 L1026,1282.7 L1026.6,1283.4 L1027.2,1282.7 L1027.7,1283.4 L1028.3,1282.7 L1028.9,1284.1 L1029.5,1282.7 L1030.1,1284.0 L1030.6,1281.7 L1031.2,1283.5 L1031.8,1282.5 L1032.3,1283.5 L1032.9,1282.5 L1033.4,1283.1 L1034,1282.7 L1034.5,1283.9 L1035,1282.2 L1035.5,1283.9 L1036.1,1282.0 L1036.6,1283.4 L1037.1,1282.1 L1037.6,1283.5 L1038.3,1282.3 L1039,1284.4 L1039.7,1282.3 L1040.4,1283.6 L1041.1,1282.5 L1041.7,1284.0 L1042.4,1282.5 L1043.1,1283.8 L1043.7,1281.9 L1044.4,1283.8 L1045,1282.2 L1045.7,1283.5 L1046.3,1282.3 L1046.9,1283.8 L1047.5,1282.6 L1048.2,1283.4 L1048.8,1282.2 L1049.4,1284.3 L1050,1282.6 L1050.6,1284.1 L1051.2,1282.2 L1051.8,1283.5 L1052.4,1282.8 L1053,1283.4 L1053.6,1282.0 L1054.2,1283.8 L1054.7,1282.2 L1055.3,1283.4 L1055.9,1282.8 L1056.5,1284.4 L1057.1,1281.6 L1057.6,1284.9 L1058.2,1282.8 L1058.8,1284.6 L1059.4,1281.4 L1059.9,1284.9 L1060.5,1281.2 L1061.1,1283.8 L1061.6,1281.8 L1062.2,1283.5 L1062.8,1281.2 L1063.4,1283.6 L1063.9,1282.5 L1064.5,1283.7 L1065.1,1281.4 L1065.7,1283.6 L1066.3,1281.9 L1066.8,1285.1 L1067.4,1281.7 L1068,1284.5 L1068.6,1282.0 L1069.2,1285.0 L1069.8,1281.2 L1070.4,1284.8 L1071,1282.2 L1071.6,1284.7 L1072.2,1281.9 L1072.8,1284.0 L1073.4,1281.7 L1074,1283.1 L1074.6,1282.2 L1075.2,1283.6 L1075.8,1282.4 L1076.4,1283.4 L1077,1282.2 L1077.6,1284.7 L1078.2,1280.8 L1078.8,1284.6 L1079.4,1282.1 L1080,1283.6 L1080.6,1280.7 L1081.2,1283.3 L1081.9,1280.5 L1082.5,1282.7 L1083.1,1280.5 L1083.7,1283.8 L1084.3,1280.8 L1084.9,1282.8 L1085.5,1281.4 L1086.1,1283.0 L1086.7,1281.6 L1087.3,1282.5 L1087.9,1281.5 L1088.5,1282.5 L1089.1,1281.0 L1089.7,1282.2 L1090.3,1280.8 L1090.9,1282.3 L1091.5,1280.1 L1092.1,1282.2 L1092.7,1281.3 L1093.3,1281.8 L1093.9,1280.9 L1094.5,1281.9 L1095.1,1280.9 L1095.7,1282.5 L1096.3,1280.6 L1096.9,1282.1 L1097.5,1280.5 L1098.1,1282.3 L1098.7,1279.6 L1099.3,1282.5 L1099.9,1279.9 L1100.4,1282.2 L1101,1280.6 L1101.6,1281.6 L1102.2,1280.4 L1102.8,1283.6 L1103.4,1279.9 L1104,1281.8 L1104.6,1278.7 L1105.2,1283.1 L1105.8,1280.1 L1106.5,1281.8 L1107.1,1280.6 L1107.7,1281.3 L1108.3,1279.8 L1108.9,1282.1 L1109.5,1279.8 L1110.1,1283.2 L1110.7,1279.8 L1111.4,1289.2 L1112,1272.8 L1112.6,1288.8 L1113.2,1272.4 L1113.8,1288.1 L1114.4,1272.5 L1115,1290.2 L1115.6,1271.5 L1116.2,1288.9 L1116.8,1272.4 L1117.4,1291.5 L1118,1269.9 L1118.7,1292.4 L1119.3,1270.9 L1119.9,1294.4 L1120.5,1269.8 L1121.1,1290.7 L1121.7,1271.5 L1122.3,1291.0 L1122.9,1270.9 L1123.5,1289.3 L1124.1,1272.1 L1124.7,1289.9 L1125.3,1272.0 L1125.9,1289.6 L1126.5,1267.4 L1127.1,1292.8 L1127.7,1269.2 L1128.3,1292.6 L1128.9,1268.2 L1129.5,1291.8 L1130.1,1272.1 L1130.8,1291.0"/>
<path stroke="#00ff00" d="M865.0,1265.9 V1189 M999,1286.2 V1269"/>
<path stroke="#0000ff" d="M270.3,1096.0 L270.4,1097.2 L270.4,1098.4 L270.5,1099.6 L270.6,1100.8 L270.6,1102.0 L270.7,1103.2 L270.8,1104.4 L270.8,1105.6 L270.9,1106.7 L271,1107.9 L271,1109.1 L271.1,1110.3 L271.2,1111.5 L271.2,1112.7 L271.3,1113.8 L271.4,1115.0 L271.4,1116.2 L271.5,1117.3 L271.6,1118.5 L271.6,1119.7 L271.7,1120.9 L271.8,1122.0 L271.8,1123.2 L271.9,1124.4 L272,1125.5 L272,1126.7 L272.1,1127.9 L272.2,1129.0 L272.2,1130.2 L272.3,1131.4 L272.4,1132.5 L272.4,1133.7 L272.5,1134.9 L272.6,1136.0 L272.7,1137.2 L272.7,1138.4 L272.8,1139.6 L272.9,1140.7 L272.9,1141.9 L273,1143.1 L273.1,1144.2 L273.1,1145.4 L273.2,1146.6 L273.3,1147.8 L273.3,1148.9 L273.4,1150.1 L273.5,1151.3 L273.5,1152.5 L273.6,1153.7 L273.7,1154.9 L273.7,1156.1 L273.8,1157.2 L273.9,1158.4 L273.9,1159.6 L274,1160.8 L274.1,1162.0 L274.1,1163.2 L274.2,1164.4 L274.3,1165.6 L274.3,1166.9 L274.4,1168.1 L274.5,1169.3 L274.5,1170.5 L274.6,1171.7 L274.7,1173.0 L274.7,1174.2 L274.8,1175.4 L274.8,1176.7 L274.9,1177.9 L275,1179.1 L275,1180.4 L275.1,1181.6 L275.2,1182.9 L275.2,1184.1 L275.3,1185.4 L275.4,1186.7 L275.4,1187.9 L275.5,1189.2 L275.6,1190.5 L275.6,1191.8 L275.7,1193.1 L275.7,1194.4 L275.8,1195.7 L275.9,1197.0 L275.9,1198.3 L276,1199.6 L276.1,1200.7 L276.1,1201.8 L276.2,1202.9 L276.2,1204.0 L276.3,1205.1 L276.3,1206.3 L276.4,1207.4 L276.4,1208.6 L276.5,1209.7 L276.5,1210.9 L276.6,1212.0 L276.6,1213.2 L276.7,1214.4 L276.7,1215.5 L276.8,1216.7 L276.8,1217.9 L276.9,1219.1 L276.9,1220.3 L277,1221.5 L277,1222.7 L277.1,1224.0 L277.1,1225.2 L277.1,1226.4 L277.2,1227.6 L277.2,1228.9 L277.3,1230.1 L277.3,1231.3 L277.4,1232.6 L277.4,1233.8 L277.5,1235.1 L277.5,1236.3 L277.6,1237.6 L277.6,1238.9 L277.7,1240.1 L277.7,1241.4 L277.8,1242.7 L277.8,1243.9 L277.9,1245.2 L277.9,1246.5 L278,1247.8 L278,1249.0 L278,1250.3 L278.1,1251.6 L278.1,1252.9 L278.2,1254.2 L278.2,1255.5 L278.3,1256.8 L278.3,1258.1 L278.4,1259.4 L278.4,1260.7 L278.5,1261.9 L278.5,1263.2 L278.6,1264.5 L278.6,1265.8 L278.6,1267.1 L278.7,1268.4 L278.7,1269.7 L278.8,1271.0 L278.8,1272.3 L278.9,1273.6 L278.9,1274.9 L279,1276.2 L279,1277.5 L279.1,1278.8 L279.1,1280.1 L279.2,1281.4 L279.2,1282.6 L279.2,1283.9 L279.3,1285.2 L279.3,1286.5 L279.4,1287.8 L279.4,1289.0 L279.5,1290.3 L279.5,1291.6 L279.6,1292.9 L279.6,1294.1 L279.7,1295.4 L279.7,1296.7 L279.8,1297.9 L279.8,1299.2 L279.8,1300.4 L279.9,1301.7 L279.9,1302.9 L280,1304.1 L280,1305.4 L280.1,1306.6 L280.1,1307.8 L280.2,1309.1 L280.2,1310.3 L280.3,1311.5 L280.3,1312.7 L280.4,1313.9 L280.4,1315.1 L280.5,1316.3 L280.5,1317.5 L280.6,1318.7 L280.6,1319.9 L280.6,1321.0 L280.7,1322.2 L280.7,1323.4 L280.8,1324.5 L280.8,1325.7 L280.9,1326.8 L280.9,1327.9 L281,1329.1 L281,1330.2 L281.1,1331.3 L281.1,1332.4 L281.2,1333.5 L281.2,1334.6 L281.3,1335.7 L281.3,1336.8 L281.4,1337.8 L281.4,1338.9 L281.5,1339.9 L281.5,1341.0 L281.6,1342.0 L281.6,1343.0 L281.7,1344.1 L281.7,1345.1 L281.8,1346.1 L281.8,1347.1 L281.9,1348.1 L281.9,1349.0 L282,1350.0 L282.1,1351.4 L282.2,1352.9 L282.2,1354.3 L282.3,1355.7 L282.4,1357.1 L282.5,1358.4 L282.6,1359.8 L282.7,1361.1 L282.7,1362.4 L282.8,1363.7 L282.9,1365.0 L283,1366.3 L283.1,1367.6 L283.2,1368.8 L283.3,1370.1 L283.4,1371.3 L283.5,1372.5 L283.5,1373.7 L283.6,1375.0 L283.7,1376.2 L283.8,1377.3 L283.9,1378.5 L284,1379.7 L284.1,1380.9 L284.2,1382.0 L284.3,1383.2 L284.3,1384.3 L284.4,1385.5 L284.5,1386.6 L284.6,1387.8 L284.7,1388.9 L284.8,1390.1 L284.9,1391.2 L285,1392.3 L285.1,1393.4 L285.1,1394.6 L285.2,1395.7 L285.3,1396.8 L285.4,1398.0 L285.5,1399.1 L285.6,1400.2 L285.6,1401.4 L285.7,1402.5 L285.8,1403.6 L285.9,1404.8 L286,1405.9 L286,1407.1 L286.1,1408.2 L286.2,1409.4 L286.3,1410.6 L286.3,1411.7 L286.4,1412.9 L286.5,1414.1 L286.5,1415.3 L286.6,1416.5 L286.7,1417.7 L286.7,1418.9 L286.8,1420.1 L286.8,1421.3 L286.9,1422.5 L287,1423.8 L287,1425.0 L287.1,1426.2 L287.1,1427.4 L287.2,1428.6 L287.2,1429.8 L287.3,1431.0 L287.3,1432.2 L287.4,1433.4 L287.4,1434.6 L287.5,1435.8 L287.5,1437.0 L287.6,1438.3 L287.6,1439.5 L287.7,1440.7 L287.7,1441.9 L287.8,1443.1 L287.8,1444.3 L287.8,1445.5 L287.9,1446.7 L287.9,1447.9 L288,1449.1 L288,1450.3 L288,1451.6 L288.1,1452.8 L288.1,1454.0 L288.2,1455.2 L288.2,1456.4 L288.2,1457.6 L288.3,1458.8 L288.3,1460.0 L288.4,1461.2 L288.4,1462.4 L288.5,1463.7 L288.5,1464.9 L288.5,1466.1 L288.6,1467.3 L288.6,1468.5 L288.7,1469.7 L288.7,1470.9 L288.8,1472.1 L288.8,1473.3 L288.8,1474.5 L288.9,1475.7 L288.9,1477.0 L289,1478.2 L289,1479.4 L289.1,1480.6 L289.1,1481.8 L289.2,1483.0 L289.3,1484.2 L289.3,1485.4 L289.4,1486.6 L289.4,1487.9 L289.5,1489.1 L289.5,1490.3 L289.6,1491.5 L289.6,1492.8 L289.7,1494.0 L289.7,1495.2 L289.8,1496.5 L289.8,1497.7 L289.9,1498.9 L290,1500.2 L290,1501.4 L290.1,1502.7 L290.1,1503.9 L290.2,1505.1 L290.2,1506.4 L290.3,1507.6 L290.3,1508.9 L290.4,1510.1 L290.5,1511.3 L290.5,1512.6 L290.6,1513.8 L290.6,1515.1 L290.7,1516.3 L290.7,1517.5 L290.8,1518.7 L290.9,1520.0 L290.9,1521.2 L291,1522.4 L291,1523.7 L291.1,1524.9 L291.2,1526.1 L291.2,1527.3 L291.3,1528.5 L291.4,1529.7 L291.4,1530.9 L291.5,1532.1 L291.5,1533.3 L291.6,1534.5 L291.7,1535.7 L291.7,1536.9 L291.8,1538.1 L291.9,1539.3 L291.9,1540.4 L292,1541.6 L292.1,1542.8 L292.1,1543.9 L292.2,1545.1 L292.3,1546.2 L292.4,1547.3 L292.4,1548.5 L292.5,1549.6 L292.6,1550.9 L292.7,1552.2 L292.7,1553.5 L292.8,1554.9 L292.8,1556.2 L292.9,1557.5 L292.9,1558.8 L292.9,1560.2 L293,1561.5 L293,1562.8 L293,1564.2 L293,1565.5 L293.1,1566.8 L293.1,1568.1 L293.1,1569.4 L293.2,1570.8 L293.2,1572.1 L293.2,1573.4 L293.2,1574.6 L293.3,1575.9 L293.3,1577.2 L293.4,1578.5 L293.4,1579.7 L293.5,1580.9 L293.6,1582.2 L293.7,1583.4 L293.8,1584.6 L293.9,1585.8 L294,1586.9 L294.1,1588.1 L294.2,1589.2 L294.4,1590.3 L294.6,1591.4 L294.7,1592.5 L294.9,1593.6 L295.2,1594.6 L295.4,1595.6 L295.6,1596.6 L295.9,1597.6 L296.2,1598.6 L296.5,1599.5 L297,1600.7 L297.5,1601.9 L298.1,1602.9 L298.7,1604.3 L299.3,1605.6 L300,1605.9 L300.7,1606.6 L301.4,1608.5 L302.1,1608.8 L302.9,1610.0 L303.6,1610.0 L304.3,1611.1 L305.1,1613.1 L305.8,1613.8 L306.5,1615.3 L307.3,1616.5 L307.9,1616.0 L308.6,1617.7 L309.2,1618.3 L309.8,1619.5 L310.3,1620.3 L310.8,1622.8 L311.3,1623.1 L311.8,1623.0 L312.2,1625.5 L312.7,1627.4 L313.1,1628.4 L313.5,1628.8 L313.9,1628.7 L314.3,1631.8 L314.7,1633.3 L315.1,1634.0 L315.5,1634.5 L315.9,1635.6 L316.3,1637.7 L316.7,1637.3 L317.1,1640.1 L317.6,1640.6 L318,1640.7 L318.4,1643.6 L318.9,1643.7 L319.3,1644.0 L319.8,1645.2 L320.4,1648.1 L321,1647.6 L321.6,1650.3 L322.1,1651.5 L322.7,1651.0 L323.4,1653.0 L324,1654.9 L324.6,1655.3 L325.2,1657.3 L325.8,1657.2 L326.5,1658.8 L327.1,1658.7 L327.8,1661.2 L328.4,1662.0 L329.1,1662.1 L329.8,1662.3 L330.8,1663.3 L331.8,1664.8 L332.8,1664.6 L333.9,1666.3 L334.9,1666.4 L336,1667.0 L337,1667.2 L338,1668.5 L338.7,1666.8 L339.3,1666.6 L339.9,1666.0 L340.6,1665.1 L341.2,1665.4 L341.8,1665.7 L342.4,1665.1 L343,1663.3 L343.7,1662.3 L344.3,1662.6 L345,1661.0 L345.7,1660.2 L346.4,1659.8 L347,1657.8 L347.7,1659.1 L348.4,1656.7 L349.1,1657.2 L349.8,1657.6 L350.5,1656.1 L351.2,1655.0 L352,1655.4 L352.7,1655.2 L353.5,1653.9 L354.2,1652.0 L354.9,1653.4 L355.7,1650.6 L356.4,1651.6 L357.1,1651.5 L357.8,1649.0 L358.4,1649.2 L359.1,1648.9 L359.7,1646.9 L360.2,1646.4 L360.7,1645.2 L361.2,1644.7 L361.6,1643.8 L362.1,1643.3 L362.5,1643.6 L362.9,1642.6 L363.3,1641.9 L363.6,1640.7 L364,1640.1 L364.4,1637.7 L364.8,1637.8 L365.1,1635.6 L365.5,1635.8 L365.9,1635.8 L366.3,1634.1 L366.7,1632.9 L367.2,1632.0 L367.6,1631.6 L368.1,1632.2 L368.6,1631.7 L369.1,1630.5 L369.7,1630.6 L370.5,1629.5 L371.3,1627.8 L372.1,1627.8 L373,1628.1 L373.9,1627.8 L374.9,1627.5 L375.8,1626.8 L376.8,1625.8 L377.7,1627.6 L378.7,1625.6 L379.6,1627.2 L380.5,1624.8 L381.4,1626.6 L382.2,1624.7 L383,1625.3 L383.7,1622.8 L384.4,1623.3 L385,1622.3 L385.7,1622.8 L386.3,1622.1 L386.9,1621.0 L387.5,1621.0 L388.1,1620.9 L388.7,1618.1 L389.2,1618.5 L389.8,1618.1 L390.3,1617.2 L390.9,1615.5 L391.4,1616.2 L391.9,1613.9 L392.5,1614.5 L393,1612.7 L393.4,1611.2 L393.8,1612.2 L394.2,1609.7 L394.6,1610.7 L395,1609.5 L395.4,1609.4 L395.8,1608.4 L396.1,1606.6 L396.5,1605.1 L396.9,1604.6 L397.2,1603.1 L397.6,1603.9 L397.9,1601.6 L398.3,1601.0 L398.7,1600.3 L399,1599.8 L399.3,1599.6 L399.7,1598.1 L400,1597.4 L400.4,1595.5 L400.7,1595.2 L401,1594.0 L401.4,1594.4 L401.7,1591.7 L402,1592.3 L402.3,1591.7 L402.7,1590.4 L403,1588.4 L403.3,1588.0 L403.6,1587.1 L403.9,1586.2 L404.2,1585.3 L404.5,1586.1 L404.7,1584.7 L404.9,1584.0 L405.2,1582.6 L405.4,1580.7 L405.6,1581.2 L405.8,1579.1 L406.1,1577.4 L406.3,1577.7 L406.5,1575.6 L406.8,1576.1 L407.1,1575.0 L407.3,1572.9 L407.6,1572.5 L407.9,1572.2 L408.2,1571.3 L408.6,1570.1 L409,1568.6 L409.4,1568.1 L409.8,1568.3 L410.3,1567.1 L410.8,1567.1 L411.3,1566.5 L412,1565.1 L412.7,1563.9 L413.4,1564.9 L414.3,1563.7 L415.1,1563.9 L416,1562.6 L416.9,1562.4 L417.9,1562.9 L418.9,1563.3 L419.8,1561.7 L420.8,1563.2 L421.8,1563.2 L422.8,1562.6 L423.7,1562.6 L424.7,1561.1 L425.6,1560.5 L426.5,1560.8 L427.3,1560.0 L428.1,1560.3 L428.9,1560.8 L429.6,1559.1 L430.3,1559.9 L430.9,1558.3 L431.5,1557.0 L432,1557.5 L432.5,1556.3 L433,1555.3 L433.5,1555.0 L434,1555.4 L434.4,1554.1 L434.9,1552.1 L435.3,1552.9 L435.7,1550.2 L436.1,1549.9 L436.5,1548.9 L436.9,1549.6 L437.4,1546.2 L437.8,1547.0 L438.2,1545.7 L438.7,1543.9 L439.1,1544.3 L439.6,1543.8 L440,1542.9 L440.4,1540.5 L440.8,1541.5 L441.1,1539.6 L441.5,1540.0 L441.9,1538.5 L442.3,1536.5 L442.6,1537.3 L443,1536.0 L443.4,1534.8 L443.7,1534.4 L444.1,1533.0 L444.5,1531.1 L444.9,1532.4 L445.2,1530.0 L445.6,1529.1 L446,1527.6 L446.4,1528.4 L446.8,1528.0 L447.2,1526.0 L447.6,1526.0 L448,1523.9 L448.4,1523.2 L448.8,1522.1 L449.2,1521.3 L449.7,1521.2 L450.1,1519.8 L450.6,1518.4 L451,1519.2 L451.5,1517.5 L452,1517.0 L452.5,1515.9 L453,1514.9 L453.6,1515.6 L454.3,1514.4 L454.9,1514.9 L455.6,1512.0 L456.3,1513.4 L457,1510.7 L457.7,1510.5 L458.4,1509.5 L459.2,1510.2 L459.9,1509.3 L460.7,1508.7 L461.4,1509.8 L462.2,1508.3 L462.9,1508.6 L463.7,1508.0 L464.4,1506.1 L465.2,1506.4 L465.9,1504.8 L466.7,1504.7 L467.4,1505.0 L468.1,1504.2 L468.8,1502.5 L469.5,1501.9 L470.3,1503.1 L471,1502.3 L471.8,1501.7 L472.6,1500.0 L473.3,1500.9 L474.1,1499.9 L474.8,1498.3 L475.6,1497.8 L476.3,1498.4 L477,1498.8 L477.8,1497.3 L478.5,1496.0 L479.2,1496.5 L479.9,1494.7 L480.7,1495.2 L481.4,1494.0 L482.1,1492.5 L482.8,1493.0 L483.4,1492.4 L484,1492.8 L484.6,1491.7 L485.2,1490.0 L485.8,1490.2 L486.4,1488.5 L487,1488.9 L487.6,1488.0 L488.2,1487.3 L488.7,1485.5 L489.3,1486.2 L489.9,1485.0 L490.5,1484.8 L491,1482.3 L491.6,1483.3 L492.2,1483.2 L492.8,1481.6 L493.4,1479.7 L494.1,1481.0 L494.7,1479.4 L495.3,1478.1 L496,1478.3 L496.7,1478.3 L497.3,1475.8 L498,1476.3 L498.7,1475.8 L499.4,1476.0 L500,1473.1 L500.7,1473.7 L501.4,1473.6 L502.1,1472.8 L502.8,1472.7 L503.5,1471.6 L504.3,1471.0 L505,1470.3 L505.7,1468.6 L506.5,1469.8 L507.2,1468.4 L508,1466.6 L508.8,1468.1 L509.6,1467.2 L510.4,1466.6 L511.2,1464.6 L512,1465.8 L512.8,1464.4 L513.6,1465.2 L514.4,1463.1 L515.2,1463.2 L516,1462.2 L516.9,1461.6 L517.8,1462.1 L518.7,1462.7 L519.6,1461.7 L520.5,1461.0 L521.4,1462.3 L522.3,1461.5 L523.3,1461.8 L524.2,1459.8 L525.1,1459.3 L526,1461.0 L526.9,1458.4 L527.9,1459.9 L528.8,1460.1 L529.6,1459.2 L530.5,1458.6 L531.4,1457.8 L532.2,1457.4 L533,1456.5 L533.8,1457.0 L534.6,1457.1 L535.3,1456.1 L536,1457.7 L536.9,1457.4 L537.8,1455.1 L538.6,1455.5 L539.4,1455.8 L540.1,1454.7 L540.9,1453.7 L541.6,1454.5 L542.3,1453.3 L543.1,1453.2 L543.9,1453.2 L544.7,1451.6 L545.6,1452.3 L546.6,1450.9 L547.3,1451.7 L548,1450.5 L548.8,1451.7 L549.6,1450.3 L550.4,1451.7 L551.3,1449.5 L552.1,1450.8 L553,1451.0 L553.9,1450.9 L554.8,1449.8 L555.8,1449.7 L556.7,1448.9 L557.7,1450.3 L558.6,1449.9 L559.6,1449.1 L560.6,1449.0 L561.5,1449.9 L562.5,1448.9 L563.5,1447.6 L564.5,1447.6 L565.5,1449.2 L566.5,1448.5 L567.4,1448.5 L568.4,1448.1 L569.3,1447.0 L570.3,1448.9 L571.2,1447.8 L572.1,1447.9 L573,1447.8 L573.9,1447.0 L574.8,1449.1 L575.7,1449.1 L576.7,1446.6 L577.5,1446.7 L578.4,1447.5 L579.3,1449.0 L580.2,1447.7 L581.1,1448.9 L582,1447.4 L582.9,1447.8 L583.7,1448.6 L584.6,1448.2 L585.5,1447.3 L586.4,1447.8 L587.3,1448.2 L588.2,1447.7 L589.1,1447.3 L590,1447.4 L590.9,1448.8 L591.8,1447.6 L592.7,1447.6 L593.6,1448.0 L594.6,1450.0 L595.5,1450.1 L596.5,1448.9 L597.3,1448.4 L598.1,1449.2 L598.9,1450.5 L599.7,1449.8 L600.6,1451.0 L601.4,1451.2 L602.2,1451.2 L603.1,1451.6 L603.9,1450.7 L604.8,1449.8 L605.6,1452.0 L606.5,1452.0 L607.3,1451.8 L608.2,1451.5 L609.1,1452.7 L609.9,1453.0 L610.8,1453.2 L611.7,1453.1 L612.6,1453.8 L613.5,1453.1 L614.3,1453.9 L615.2,1454.8 L616.1,1455.1 L617,1455.0 L617.9,1455.1 L618.8,1455.5 L619.6,1455.5 L620.5,1455.6 L621.4,1456.8 L622.3,1456.7 L623.1,1456.8 L624,1457.1 L624.9,1457.3 L625.7,1457.7 L626.6,1458.5 L627.5,1458.4 L628.3,1458.8 L629.2,1459.9 L630,1459.3 L630.8,1460.8 L631.6,1460.4 L632.5,1461.8 L633.3,1462.2 L634.1,1462.1 L634.9,1460.8 L635.8,1462.8 L636.6,1462.6 L637.4,1462.9 L638.2,1463.6 L639,1464.2 L639.8,1464.2 L640.7,1464.7 L641.5,1464.8 L642.3,1465.1 L643.1,1466.3 L643.9,1467.2 L644.7,1466.3 L645.5,1467.6 L646.3,1468.0 L647.1,1468.7 L647.9,1468.4 L648.7,1468.8 L649.5,1469.3 L650.3,1470.6 L651.1,1471.1 L651.9,1471.7 L652.7,1471.0 L653.5,1471.7 L654.3,1472.0 L655.1,1473.3 L655.9,1472.9 L656.7,1474.7 L657.5,1475.4 L658.3,1475.0 L659.1,1474.4 L659.9,1475.1 L660.6,1476.7 L661.4,1477.7 L662.2,1476.5 L663,1478.5 L663.7,1479.9 L664.4,1479.8 L665.2,1480.8 L665.9,1481.4 L666.6,1479.8 L667.3,1480.1 L668,1482.8 L668.7,1481.7 L669.4,1481.4 L670.2,1483.3 L670.9,1483.7 L671.6,1483.8 L672.3,1485.4 L673,1485.3 L673.7,1486.7 L674.4,1486.3 L675.1,1486.7 L675.8,1488.0 L676.5,1488.0 L677.2,1489.1 L677.9,1489.3 L678.6,1490.1 L679.3,1490.1 L680,1490.8 L680.7,1491.9 L681.4,1492.8 L682.1,1493.2 L682.8,1494.8 L683.5,1494.9 L684.1,1496.2 L684.8,1494.4 L685.5,1494.6 L686.2,1495.6 L686.9,1497.2 L687.6,1497.4 L688.3,1497.4 L689,1498.1 L689.7,1499.0 L690.4,1499.7 L691.1,1500.3 L691.8,1501.3 L692.5,1502.0 L693.2,1503.0 L693.9,1502.7 L694.6,1504.3 L695.3,1504.0 L696,1504.6 L696.7,1505.2 L697.4,1506.2 L698.1,1506.8 L698.8,1506.9 L699.5,1507.3 L700.2,1507.4 L700.9,1508.3 L701.6,1508.6 L702.3,1509.6 L703,1509.9 L703.7,1511.3 L704.4,1512.0 L705.1,1512.2 L705.8,1512.8 L706.5,1513.2 L707.2,1514.6 L707.9,1515.7 L708.6,1515.5 L709.3,1516.5 L710,1516.1 L710.7,1517.1 L711.4,1517.2 L712.1,1519.3 L712.8,1519.0 L713.5,1520.4 L714.2,1520.2 L714.9,1519.3 L715.6,1520.5 L716.3,1521.8 L717,1522.9 L717.7,1523.1 L718.4,1523.2 L719.1,1524.3 L719.8,1524.8 L720.5,1526.4 L721.2,1526.1 L721.9,1525.1 L722.6,1528.3 L723.3,1526.7 L724,1527.8 L724.7,1530.1 L725.4,1529.9 L726.1,1530.5 L726.8,1530.4 L727.5,1530.9 L728.2,1531.3 L728.9,1533.3 L729.6,1532.5 L730.3,1532.3 L731,1533.2 L731.7,1533.6 L732.3,1536.7 L733,1535.6 L733.7,1536.2 L734.4,1537.4 L735.1,1537.5 L735.8,1538.8 L736.5,1539.3 L737.2,1539.9 L737.8,1540.1 L738.5,1540.4 L739.2,1541.2 L739.9,1542.6 L740.6,1541.3 L741.3,1542.6 L742,1544.3 L742.6,1544.9 L743.3,1545.2 L744,1545.1 L744.7,1545.6 L745.4,1547.0 L746.1,1546.6 L746.7,1548.9 L747.4,1549.6 L748.1,1550.1 L748.8,1550.4 L749.5,1551.7 L750.1,1551.3 L750.8,1551.1 L751.5,1551.6 L752.2,1551.8 L752.9,1554.0 L753.5,1554.9 L754.2,1555.1 L754.9,1554.5 L755.6,1556.6 L756.3,1557.3 L756.9,1557.0 L757.6,1558.1 L758.3,1557.4 L759,1559.5 L759.6,1558.5 L760.3,1560.0 L761,1562.0 L761.7,1561.9 L762.3,1562.2 L763,1563.5 L763.7,1563.8 L764.3,1564.8 L765,1564.9 L765.6,1565.9 L766.3,1566.5 L766.9,1565.7 L767.6,1566.5 L768.2,1567.1 L768.9,1568.0 L769.5,1571.3 L770.2,1570.7 L770.8,1571.6 L771.4,1573.0 L772.1,1570.8 L772.7,1573.7 L773.4,1573.4 L774,1573.8 L774.6,1575.1 L775.3,1575.8 L775.9,1576.2 L776.6,1577.0 L777.2,1577.8 L777.8,1577.8 L778.5,1579.1 L779.1,1579.3 L779.8,1580.6 L780.4,1581.0 L781,1581.8 L781.7,1583.8 L782.3,1582.7 L783,1582.3 L783.6,1584.1 L784.3,1584.2 L784.9,1587.1 L785.5,1584.7 L786.2,1587.1 L786.8,1587.5 L787.5,1586.4 L788.1,1589.3 L788.8,1589.4 L789.4,1589.6 L790.1,1591.9 L790.7,1589.9 L791.4,1592.1 L792,1591.7 L792.7,1593.0 L793.4,1593.4 L794,1594.5 L794.7,1595.4 L795.3,1594.7 L796,1596.0 L796.7,1597.1 L797.4,1596.8 L798.1,1597.5 L798.8,1599.4 L799.5,1598.2 L800.2,1599.9 L800.9,1600.7 L801.6,1601.2 L802.3,1600.4 L803,1603.1 L803.7,1601.5 L804.4,1602.1 L805.1,1604.0 L805.8,1603.0 L806.5,1604.4 L807.2,1606.5 L807.9,1606.3 L808.6,1606.9 L809.4,1608.4 L810.1,1606.7 L810.8,1609.8 L811.5,1609.4 L812.2,1610.0 L812.9,1608.7 L813.6,1612.0 L814.4,1610.8 L815.1,1611.4 L815.8,1612.8 L816.5,1612.5 L817.2,1615.1 L817.9,1615.2 L818.7,1614.1 L819.4,1614.3 L820.1,1615.3 L820.8,1617.7 L821.5,1616.1 L822.2,1617.3 L823,1617.5 L823.7,1618.4 L824.4,1619.5 L825.1,1619.4 L825.8,1619.4 L826.5,1620.9 L827.3,1621.8 L828,1621.3 L828.7,1621.3 L829.4,1622.5 L829.9,1623.9 L830.4,1623.4 L830.8,1622.0 L831.3,1625.1 L831.8,1623.7 L832.3,1625.2 L832.8,1625.1 L833.3,1624.6 L833.8,1625.7 L834.2,1625.6 L834.7,1627.1 L835.2,1625.9 L835.7,1629.7 L836.2,1628.9 L836.7,1629.0 L837.2,1628.2 L837.7,1630.3 L838.1,1630.7 L838.6,1629.0 L839.1,1629.8 L839.6,1629.8 L840.1,1630.6 L840.6,1632.2 L841.1,1633.0 L841.6,1632.3 L842.1,1632.5 L842.6,1633.3 L843.1,1633.8 L843.6,1633.8 L844,1634.1 L844.5,1634.4 L845,1634.8 L845.5,1635.2 L846,1635.1 L846.5,1636.6 L847,1636.4 L847.5,1637.0 L848,1637.0 L848.4,1638.0 L848.9,1637.3 L849.4,1638.8 L849.9,1639.4 L850.4,1638.2 L850.9,1640.3 L851.4,1639.1 L851.9,1640.5 L852.3,1639.4 L852.8,1641.7 L853.3,1640.5 L853.8,1641.7 L854.3,1640.5 L854.7,1643.1 L855.2,1641.6 L855.7,1643.9 L856.2,1642.7 L856.6,1644.6 L857.1,1643.0 L857.6,1645.0 L858.1,1644.1 L858.5,1645.2 L859,1644.9 L859.5,1646.2 L859.9,1645.2 L860.4,1646.7 L860.9,1645.7 L861.3,1647.0 L861.8,1646.4 L862.2,1648.1 L862.7,1646.9 L863.2,1648.5 L863.8,1647.8 L864.3,1650.0 L864.8,1648.2 L865.4,1651.2 L865.9,1649.2 L866.4,1651.1 L866.9,1649.1 L867.4,1651.3 L868,1649.6 L868.5,1652.7 L869,1651.0 L869.5,1653.7 L870,1650.8 L870.5,1654.3 L871,1651.7 L871.5,1654.0 L872,1653.0 L872.5,1655.1 L873,1653.3 L873.5,1655.2 L874,1654.3 L874.5,1655.8 L875,1655.2 L875.5,1656.4 L876,1656.0 L876.5,1657.0 L877,1656.3 L877.5,1657.9 L878,1656.3 L878.5,1658.2 L879,1657.7 L879.5,1658.7 L880,1657.9 L880.6,1659.0 L881.1,1658.9 L881.6,1659.9 L882.1,1659.5 L882.6,1660.3 L883.1,1659.7 L883.7,1660.8 L884.2,1660.4 L884.7,1661.4 L885.3,1661.2 L885.8,1662.3 L886.3,1661.8 L886.9,1663.8 L887.4,1661.7 L888,1664.3 L888.5,1661.8 L889,1664.0 L889.5,1663.4 L890,1665.2 L890.5,1663.5 L891,1665.2 L891.6,1664.4 L892.1,1666.4 L892.6,1664.7 L893.1,1666.1 L893.6,1665.7 L894.2,1667.0 L894.7,1666.1 L895.2,1667.2 L895.7,1666.8 L896.3,1668.0 L896.8,1666.0 L897.3,1669.0 L897.9,1666.8 L898.4,1670.1 L898.9,1668.2 L899.5,1670.6 L900,1668.5 L900.6,1670.6 L901.1,1668.6 L901.7,1671.8 L902.2,1669.4 L902.7,1671.3 L903.3,1670.6 L903.8,1671.8 L904.4,1671.0 L904.9,1672.7 L905.5,1672.0 L906,1672.7 L906.6,1672.1 L907.1,1674.1 L907.7,1673.0 L908.3,1674.7 L908.8,1673.1 L909.4,1675.0 L909.9,1674.2 L910.5,1675.5 L911,1674.8 L911.6,1675.5 L912.1,1675.2 L912.7,1676.5 L913.2,1675.5 L913.8,1676.6 L914.4,1676.2 L914.9,1677.4 L915.5,1676.6 L916,1677.8 L916.6,1676.0 L917.1,1679.3 L917.7,1677.2 L918.2,1679.9 L918.8,1677.2 L919.3,1679.1 L919.9,1677.7 L920.4,1680.3 L921,1678.4 L921.6,1680.7 L922.1,1678.9 L922.7,1680.9 L923.3,1680.2 L923.8,1680.8 L924.4,1680.4 L925,1681.3 L925.5,1681.0 L926.1,1682.4 L926.7,1681.2 L927.3,1682.8 L927.8,1681.7 L928.4,1683.8 L929,1681.9 L929.5,1683.7 L930.1,1682.1 L930.7,1684.0 L931.3,1682.3 L931.8,1684.8 L932.4,1682.7 L933,1685.8 L933.6,1683.5 L934.1,1685.7 L934.7,1683.2 L935.3,1686.8 L935.9,1683.9 L936.4,1686.8 L937,1685.0 L937.6,1687.1 L938.2,1684.9 L938.7,1687.5 L939.3,1686.2 L939.9,1687.6 L940.5,1686.1 L941.1,1687.5 L941.6,1686.3 L942.2,1688.0 L942.8,1686.7 L943.4,1689.9 L944,1687.0 L944.5,1689.1 L945.1,1686.3 L945.7,1690.5 L946.3,1686.9 L946.8,1689.5 L947.4,1687.7 L948,1690.9 L948.6,1687.5 L949.2,1690.5 L949.8,1688.1 L950.3,1690.3 L950.9,1689.6 L951.5,1691.6 L952.1,1689.8 L952.7,1691.7 L953.2,1689.2 L953.8,1691.1 L954.4,1690.4 L955,1691.4 L955.6,1691.1 L956.2,1692.1 L956.8,1691.5 L957.4,1693.0 L957.9,1691.0 L958.5,1693.1 L959.1,1691.7 L959.7,1692.7 L960.3,1692.0 L960.9,1694.0 L961.5,1691.4 L962.1,1694.9 L962.7,1691.8 L963.3,1694.1 L963.9,1691.7 L964.5,1694.7 L965.1,1692.5 L965.6,1694.7 L966.2,1692.0 L966.8,1694.4 L967.4,1692.6 L968,1694.5 L968.6,1693.7 L969.2,1694.7 L969.8,1694.0 L970.4,1695.0 L971,1693.8 L971.6,1696.3 L972.2,1694.0 L972.8,1695.8 L973.4,1693.1 L974,1696.5 L974.6,1694.5 L975.2,1696.6 L975.8,1693.9 L976.4,1696.4 L977,1694.5 L977.6,1697.4 L978.2,1694.5 L978.8,1696.2 L979.3,1695.2 L979.9,1696.5 L980.5,1694.9 L981.1,1696.3 L981.7,1695.2 L982.3,1696.9 L982.9,1695.5 L983.5,1696.7 L984.1,1695.7 L984.7,1697.1 L985.3,1696.5 L985.9,1698.7 L986.5,1694.5 L987.1,1698.7 L987.7,1694.0 L988.3,1698.6 L988.9,1696.1 L989.5,1699.5 L990.1,1695.9 L990.7,1699.0 L991.3,1696.5 L991.9,1700.4 L992.5,1696.2 L993.1,1698.2 L993.7,1697.5 L994.3,1698.9 L995,1696.9 L995.6,1699.0 L996.2,1696.9 L996.8,1698.7 L997.4,1697.6 L998,1698.8 L998.6,1696.7 L999.2,1701.2 L999.8,1696.8 L1000.4,1700.2 L1001,1698.1 L1001.6,1700.1 L1002.2,1698.0 L1002.8,1699.4 L1003.4,1697.4 L1004,1700.0 L1004.6,1698.3 L1005.3,1699.8 L1005.9,1697.5 L1006.5,1700.6 L1007.1,1697.6 L1007.7,1699.6 L1008.3,1697.2 L1008.9,1701.2 L1009.5,1698.5 L1010.1,1700.1 L1010.7,1697.7 L1011.3,1700.2 L1011.9,1696.2 L1012.5,1701.1 L1013.1,1697.7 L1013.7,1701.8 L1014.3,1698.9 L1014.9,1703.0 L1015.6,1695.3 L1016.2,1702.9 L1016.8,1695.6 L1017.4,1703.8 L1018,1695.4 L1018.6,1700.4 L1019.2,1699.4 L1019.8,1701.1 L1020.4,1699.3 L1021,1701.8 L1021.6,1698.6 L1022.2,1701.5 L1022.8,1696.8 L1023.4,1703.9 L1024,1696.3 L1024.6,1704.2 L1025.2,1698.9 L1025.8,1703.3 L1026.4,1698.4 L1027,1703.5 L1027.6,1696.6 L1028.2,1701.0 L1028.8,1698.3 L1029.4,1702.4 L1030,1696.4 L1030.6,1703.4 L1031.2,1694.5 L1031.8,1702.9 L1032.4,1697.2 L1033,1704.9 L1033.6,1699.1 L1034.2,1702.0 L1034.8,1697.2 L1035.4,1702.4 L1036,1697.7 L1036.6,1702.3 L1037.2,1697.6 L1037.8,1700.8 L1038.4,1697.2 L1039,1703.2 L1039.6,1699.1 L1040.2,1702.3 L1040.8,1698.1 L1041.4,1702.0 L1042,1698.0 L1042.6,1702.2 L1043.2,1696.5 L1043.8,1703.3 L1044.4,1694.9 L1045,1701.3 L1045.6,1696.7 L1046.2,1703.2 L1046.8,1698.5 L1047.4,1703.1 L1048,1698.7 L1048.6,1704.7 L1049.2,1696.9 L1049.8,1704.7 L1050.4,1698.2 L1051,1704.5 L1051.6,1694.1 L1052.2,1704.0 L1052.8,1697.2 L1053.4,1701.3 L1054,1695.1 L1054.6,1706.2 L1055.2,1696.7 L1055.8,1703.5 L1056.4,1693.1 L1057.1,1703.3 L1057.7,1696.3 L1058.3,1700.4 L1058.9,1697.0 L1059.5,1700.5 L1060.2,1695.1 L1060.8,1700.7 L1061.4,1695.3 L1062,1702.8 L1062.7,1695.8 L1063.3,1700.2 L1063.9,1697.7 L1064.5,1700.6 L1065.2,1697.6 L1065.8,1699.3 L1066.4,1697.7 L1067,1700.5 L1067.7,1697.8 L1068.3,1699.4 L1068.9,1696.8 L1069.5,1703.9 L1070.2,1697.2 L1070.8,1704.1 L1071.4,1696.0 L1072,1703.4 L1072.7,1692.8 L1073.3,1701.0 L1073.9,1697.2 L1074.5,1703.1 L1075.1,1696.2 L1075.7,1701.1 L1076.4,1695.9 L1077,1702.0 L1077.6,1696.4 L1078.2,1701.1 L1078.8,1694.4 L1079.4,1701.3 L1080,1697.5 L1080.6,1702.6 L1081.2,1691.5 L1081.8,1702.6 L1082.4,1692.7 L1082.9,1706.1 L1083.5,1692.4 L1084.1,1701.2 L1084.7,1695.6 L1085.2,1705.2 L1085.8,1691.7 L1086.4,1702.9 L1086.9,1691.3 L1087.5,1700.6 L1088.2,1696.8 L1088.8,1699.2 L1089.4,1695.5 L1090.1,1699.8 L1090.7,1695.6 L1091.3,1702.0 L1092,1695.6 L1092.6,1699.2 L1093.2,1693.8 L1093.8,1702.5 L1094.4,1696.4 L1095,1701.3 L1095.6,1695.7 L1096.2,1702.9 L1096.8,1697.2 L1097.4,1702.6 L1098,1695.9 L1098.6,1704.3 L1099.2,1689.0 L1099.8,1701.9 L1100.4,1689.5 L1101,1701.7 L1101.5,1689.3 L1102.1,1699.4 L1102.7,1695.0 L1103.3,1701.8 L1103.9,1694.3 L1104.5,1703.4 L1105.1,1696.7 L1105.6,1701.3 L1106.2,1695.8 L1106.8,1701.3 L1107.4,1695.6 L1108,1700.8 L1108.6,1698.0 L1109.2,1701.6 L1109.8,1692.3 L1110.4,1704.1 L1111,1711.4 L1111.6,1678.8 L1112.2,1714.1 L1112.8,1684.4 L1113.4,1713.6 L1114,1687.6 L1114.6,1710.8 L1115.2,1688.5 L1115.8,1712.0 L1116.4,1688.4 L1117,1719.6 L1117.6,1681.5 L1118.2,1716.8 L1118.8,1682.8 L1119.4,1716.9 L1120,1685.7 L1120.6,1713.9 L1121.2,1686.1 L1121.8,1712.8 L1122.4,1685.8 L1123,1710.8 L1123.6,1687.9 L1124.2,1712.8 L1124.8,1687.1 L1125.4,1711.2 L1126,1687.6 L1126.6,1713.0 L1127.2,1685.7 L1127.8,1714.1 L1128.4,1686.1 L1129,1715.4 L1129.6,1685.7 L1130.2,1716.8 L1130.8,1684.0"/>
<path stroke="#0000ff" d="M865.0,1652.1 V1584 M999.5,1701.5 V1681"/>
<path stroke="#ff0000" d="M247,610.0 L247,611.2 L247,612.4 L247,613.6 L247,614.8 L247,616.0 L247,617.2 L247,618.4 L247,619.6 L247,620.8 L247,622.1 L247,623.3 L247,624.5 L247,625.7 L247,626.9 L247,628.1 L247,629.3 L247.1,630.5 L247.1,631.7 L247.1,632.9 L247.1,634.1 L247.1,635.3 L247.2,636.5 L247.2,637.6 L247.3,638.8 L247.3,640.0 L247.4,641.2 L247.4,642.5 L247.5,643.7 L247.6,644.9 L247.6,646.1 L247.7,647.3 L247.8,648.5 L247.9,649.7 L248,650.9 L248.1,652.1 L248.2,653.3 L248.3,654.5 L248.4,655.8 L248.5,657.0 L248.6,658.2 L248.7,659.4 L248.9,660.6 L249,661.8 L249.1,663.0 L249.2,664.3 L249.3,665.5 L249.4,666.7 L249.5,668.0 L249.6,669.2 L249.7,670.4 L249.8,671.6 L249.9,672.8 L250,674.0 L250.2,675.3 L250.3,676.5 L250.4,677.7 L250.5,679.0 L250.6,680.2 L250.7,681.4 L250.9,682.7 L251,683.9 L251.1,685.2 L251.2,686.4 L251.3,687.7 L251.4,688.9 L251.6,690.2 L251.7,691.4 L251.8,692.6 L251.9,693.9 L252,695.1 L252.1,696.3 L252.1,697.6 L252.2,698.8 L252.3,700.0 L252.4,701.2 L252.4,702.3 L252.5,703.5 L252.6,704.5 L252.6,705.6 L252.7,706.6 L252.7,707.6 L252.7,708.6 L252.8,709.6 L252.8,710.6 L252.8,711.6 L252.9,712.7 L252.9,713.7 L252.9,714.8 L253,715.9 L253,717.0 L253,718.2 L253,719.4 L253.1,720.7 L253.1,722.1 L253.1,723.5 L253.2,725.0 L253.2,726.6 L253.3,728.2 L253.3,730.0 L253.3,730.6 L253.3,731.2 L253.3,731.9 L253.4,732.5 L253.4,733.1 L253.4,733.8 L253.4,734.5 L253.4,735.2 L253.4,735.9 L253.5,736.6 L253.5,737.3 L253.5,738.0 L253.5,738.8 L253.5,739.5 L253.5,740.3 L253.5,741.1 L253.6,741.9 L253.6,742.7 L253.6,743.5 L253.6,744.3 L253.6,745.1 L253.6,745.9 L253.7,746.8 L253.7,747.6 L253.7,748.5 L253.7,749.4 L253.7,750.3 L253.7,751.2 L253.8,752.1 L253.8,753.0 L253.8,753.9 L253.8,754.8 L253.8,755.8 L253.8,756.7 L253.9,757.7 L253.9,758.7 L253.9,759.6 L253.9,760.6 L253.9,761.6 L253.9,762.6 L254,763.6 L254,764.7 L254,765.7 L254,766.7 L254,767.8 L254,768.8 L254.1,769.9 L254.1,770.9 L254.1,772.0 L254.1,773.1 L254.1,774.2 L254.1,775.3 L254.2,776.4 L254.2,777.5 L254.2,778.6 L254.2,779.8 L254.2,780.9 L254.2,782.0 L254.3,783.2 L254.3,784.3 L254.3,785.5 L254.3,786.7 L254.3,787.8 L254.3,789.0 L254.4,790.2 L254.4,791.4 L254.4,792.6 L254.4,793.8 L254.4,795.0 L254.4,796.2 L254.5,797.5 L254.5,798.7 L254.5,799.9 L254.5,801.2 L254.5,802.4 L254.6,803.7 L254.6,804.9 L254.6,806.2 L254.6,807.5 L254.6,808.7 L254.6,810.0 L254.7,811.3 L254.7,812.6 L254.7,813.9 L254.7,815.2 L254.7,816.5 L254.8,817.8 L254.8,819.1 L254.8,820.4 L254.8,821.7 L254.8,823.0 L254.9,824.3 L254.9,825.7 L254.9,827.0 L254.9,828.3 L254.9,829.7 L255,831.0 L255,832.4 L255,833.7 L255,835.1 L255,836.4 L255,837.8 L255.1,839.1 L255.1,840.5 L255.1,841.9 L255.1,843.2 L255.1,844.6 L255.2,846.0 L255.2,847.4 L255.2,848.8 L255.2,850.1 L255.2,851.5 L255.3,852.9 L255.3,854.3 L255.3,855.7 L255.3,857.1 L255.3,858.5 L255.4,859.9 L255.4,861.3 L255.4,862.7 L255.4,864.1 L255.5,865.5 L255.5,866.9 L255.5,868.3 L255.5,869.7 L255.5,871.1 L255.6,872.5 L255.6,873.9 L255.6,875.3 L255.6,876.7 L255.6,878.1 L255.7,879.5 L255.7,880.9 L255.7,882.3 L255.7,883.7 L255.8,885.2 L255.8,886.6 L255.8,888.0 L255.8,889.4 L255.8,890.8 L255.9,892.2 L255.9,893.6 L255.9,895.0 L255.9,896.4 L255.9,897.8 L256,899.2 L256,900.6 L256,902.0 L256,903.4 L256.1,904.8 L256.1,906.2 L256.1,907.6 L256.1,909.0 L256.2,910.4 L256.2,911.8 L256.2,913.2 L256.2,914.6 L256.2,916.0 L256.3,917.4 L256.3,918.8 L256.3,920.1 L256.3,921.5 L256.4,922.9 L256.4,924.3 L256.4,925.6 L256.4,927.0 L256.5,928.4 L256.5,929.7 L256.5,931.1 L256.5,932.5 L256.6,933.8 L256.6,935.2 L256.6,936.5 L256.6,937.9 L256.7,939.2 L256.7,940.5 L256.7,941.9 L256.7,943.2 L256.8,944.5 L256.8,945.9 L256.8,947.2 L256.8,948.5 L256.9,949.8 L256.9,951.1 L256.9,952.4 L256.9,953.7 L257,955.0 L257,956.3 L257,957.6 L257,958.9 L257.1,960.1 L257.1,961.4 L257.1,962.7 L257.1,963.9 L257.2,965.2 L257.2,966.4 L257.2,967.7 L257.2,968.9 L257.3,970.2 L257.3,971.4 L257.3,972.6 L257.4,973.8 L257.4,975.0 L257.4,976.2 L257.4,977.4 L257.5,978.6 L257.5,979.8 L257.5,981.0 L257.5,982.2 L257.6,983.3 L257.6,984.5 L257.6,985.7 L257.7,986.8 L257.7,987.9 L257.7,989.1 L257.7,990.2 L257.8,991.3 L257.8,992.4 L257.8,993.5 L257.9,994.6 L257.9,995.7 L257.9,996.8 L257.9,997.9 L258,998.9 L258,1000.0 L258,1001.3 L258.1,1002.7 L258.1,1004.0 L258.2,1005.4 L258.2,1006.7 L258.2,1008.0 L258.3,1009.3 L258.3,1010.6 L258.3,1012.0 L258.4,1013.3 L258.4,1014.6 L258.5,1015.9 L258.5,1017.2 L258.5,1018.4 L258.6,1019.7 L258.6,1021.0 L258.7,1022.3 L258.7,1023.6 L258.8,1024.8 L258.8,1026.1 L258.8,1027.4 L258.9,1028.6 L258.9,1029.9 L259,1031.2 L259,1032.4 L259.1,1033.6 L259.1,1034.9 L259.1,1036.1 L259.2,1037.4 L259.2,1038.6 L259.3,1039.8 L259.3,1041.1 L259.4,1042.3 L259.4,1043.5 L259.5,1044.7 L259.5,1046.0 L259.5,1047.2 L259.6,1048.4 L259.6,1049.6 L259.7,1050.8 L259.7,1052.0 L259.8,1053.2 L259.8,1054.4 L259.9,1055.6 L259.9,1056.8 L260,1058.0 L260,1059.2 L260.1,1060.4 L260.1,1061.6 L260.1,1062.8 L260.2,1063.9 L260.2,1065.1 L260.3,1066.3 L260.3,1067.5 L260.4,1068.7 L260.4,1069.8 L260.5,1071.0 L260.5,1072.2 L260.6,1073.3 L260.6,1074.5 L260.7,1075.7 L260.7,1076.8 L260.8,1078.0 L260.8,1079.2 L260.9,1080.3 L260.9,1081.5 L261,1082.7 L261,1083.8 L261.1,1085.0 L261.1,1086.1 L261.2,1087.3 L261.2,1088.5 L261.3,1089.6 L261.3,1090.8 L261.4,1091.9 L261.4,1093.1 L261.4,1094.2 L261.5,1095.4 L261.5,1096.5 L261.6,1097.7 L261.6,1098.8 L261.7,1100.0 L261.7,1101.1 L261.8,1102.3 L261.8,1103.5 L261.9,1104.6 L261.9,1105.8 L262,1106.9 L262,1108.1 L262.1,1109.2 L262.1,1110.4 L262.2,1111.5 L262.2,1112.7 L262.3,1113.8 L262.3,1115.0 L262.4,1116.1 L262.4,1117.3 L262.5,1118.5 L262.5,1119.6 L262.6,1120.8 L262.6,1121.9 L262.7,1123.1 L262.7,1124.3 L262.8,1125.4 L262.8,1126.6 L262.9,1127.8 L262.9,1128.9 L262.9,1130.1 L263,1131.3 L263,1132.4 L263.1,1133.6 L263.1,1134.8 L263.2,1135.9 L263.2,1137.1 L263.3,1138.3 L263.3,1139.5 L263.4,1140.7 L263.4,1141.8 L263.5,1143.0 L263.5,1144.2 L263.5,1145.4 L263.6,1146.6 L263.6,1147.8 L263.7,1149.0 L263.7,1150.2 L263.8,1151.4 L263.8,1152.6 L263.9,1153.8 L263.9,1155.0 L264,1156.2 L264,1157.4 L264,1158.6 L264.1,1159.9 L264.1,1161.1 L264.2,1162.3 L264.2,1163.5 L264.3,1164.8 L264.3,1166.0 L264.3,1167.2 L264.4,1168.3 L264.4,1169.5 L264.5,1170.7 L264.5,1171.9 L264.5,1173.1 L264.6,1174.3 L264.6,1175.4 L264.7,1176.6 L264.7,1177.8 L264.7,1179.0 L264.8,1180.2 L264.8,1181.4 L264.8,1182.6 L264.9,1183.8 L264.9,1185.0 L265,1186.2 L265,1187.4 L265,1188.6 L265.1,1189.8 L265.1,1191.0 L265.2,1192.2 L265.2,1193.4 L265.2,1194.6 L265.3,1195.9 L265.3,1197.1 L265.3,1198.3 L265.4,1199.5 L265.4,1200.7 L265.4,1201.9 L265.5,1203.2 L265.5,1204.4 L265.6,1205.6 L265.6,1206.8 L265.6,1208.0 L265.7,1209.3 L265.7,1210.5 L265.7,1211.7 L265.8,1213.0 L265.8,1214.2 L265.8,1215.4 L265.9,1216.6 L265.9,1217.9 L265.9,1219.1 L266,1220.3 L266,1221.6 L266,1222.8 L266.1,1224.0 L266.1,1225.3 L266.2,1226.5 L266.2,1227.7 L266.2,1229.0 L266.3,1230.2 L266.3,1231.4 L266.3,1232.7 L266.4,1233.9 L266.4,1235.2 L266.4,1236.4 L266.5,1237.6 L266.5,1238.9 L266.5,1240.1 L266.6,1241.3 L266.6,1242.6 L266.6,1243.8 L266.7,1245.1 L266.7,1246.3 L266.7,1247.5 L266.8,1248.8 L266.8,1250.0 L266.8,1251.2 L266.9,1252.5 L266.9,1253.7 L266.9,1254.9 L267,1256.2 L267,1257.4 L267.1,1258.7 L267.1,1259.9 L267.1,1261.1 L267.2,1262.4 L267.2,1263.6 L267.2,1264.8 L267.3,1266.1 L267.3,1267.3 L267.3,1268.5 L267.4,1269.7 L267.4,1271.0 L267.4,1272.2 L267.5,1273.4 L267.5,1274.7 L267.5,1275.9 L267.6,1277.1 L267.6,1278.3 L267.6,1279.6 L267.7,1280.8 L267.7,1282.0 L267.8,1283.2 L267.8,1284.4 L267.8,1285.7 L267.9,1286.9 L267.9,1288.1 L267.9,1289.3 L268,1290.5 L268,1291.7 L268,1292.9 L268.1,1294.2 L268.1,1295.4 L268.2,1296.6 L268.2,1297.8 L268.2,1299.0 L268.3,1300.2 L268.3,1301.4 L268.3,1302.6 L268.4,1303.8 L268.4,1305.0 L268.5,1306.2 L268.5,1307.4 L268.5,1308.6 L268.6,1309.7 L268.6,1310.9 L268.6,1312.1 L268.7,1313.3 L268.7,1314.5 L268.8,1315.7 L268.8,1316.8 L268.8,1318.0 L268.9,1319.2 L268.9,1320.4 L269,1321.5 L269,1322.7 L269,1323.9 L269.1,1325.0 L269.1,1326.2 L269.2,1327.4 L269.2,1328.5 L269.2,1329.7 L269.3,1330.8 L269.3,1332.0 L269.4,1333.1 L269.4,1334.3 L269.4,1335.4 L269.5,1336.5 L269.5,1337.7 L269.6,1338.8 L269.6,1339.9 L269.7,1341.1 L269.7,1342.2 L269.7,1343.3 L269.8,1344.4 L269.8,1345.6 L269.9,1346.7 L269.9,1347.8 L270,1348.9 L270,1350.0 L270.1,1351.3 L270.1,1352.6 L270.2,1353.9 L270.2,1355.2 L270.3,1356.5 L270.3,1357.8 L270.4,1359.1 L270.4,1360.3 L270.5,1361.6 L270.5,1362.9 L270.6,1364.2 L270.7,1365.4 L270.7,1366.7 L270.8,1368.0 L270.8,1369.2 L270.9,1370.5 L270.9,1371.7 L271,1373.0 L271,1374.2 L271.1,1375.5 L271.2,1376.7 L271.2,1378.0 L271.3,1379.2 L271.3,1380.5 L271.4,1381.7 L271.4,1382.9 L271.5,1384.2 L271.6,1385.4 L271.6,1386.6 L271.7,1387.8 L271.7,1389.1 L271.8,1390.3 L271.9,1391.5 L271.9,1392.7 L272,1393.9 L272,1395.1 L272.1,1396.3 L272.2,1397.5 L272.2,1398.7 L272.3,1400.0 L272.3,1401.2 L272.4,1402.4 L272.5,1403.6 L272.5,1404.8 L272.6,1406.0 L272.6,1407.1 L272.7,1408.3 L272.8,1409.5 L272.8,1410.7 L272.9,1411.9 L273,1413.1 L273,1414.3 L273.1,1415.5 L273.1,1416.7 L273.2,1417.8 L273.3,1419.0 L273.3,1420.2 L273.4,1421.4 L273.4,1422.6 L273.5,1423.8 L273.6,1424.9 L273.6,1426.1 L273.7,1427.3 L273.8,1428.5 L273.8,1429.7 L273.9,1430.8 L273.9,1432.0 L274,1433.2 L274.1,1434.4 L274.1,1435.5 L274.2,1436.7 L274.3,1437.9 L274.3,1439.1 L274.4,1440.3 L274.4,1441.4 L274.5,1442.6 L274.6,1443.8 L274.6,1445.0 L274.7,1446.1 L274.8,1447.3 L274.8,1448.5 L274.9,1449.7 L274.9,1450.8 L275,1452.0 L275.1,1453.2 L275.1,1454.4 L275.2,1455.6 L275.3,1456.7 L275.3,1457.9 L275.4,1459.1 L275.4,1460.3 L275.5,1461.5 L275.6,1462.7 L275.6,1463.8 L275.7,1465.0 L275.7,1466.2 L275.8,1467.4 L275.9,1468.6 L275.9,1469.8 L276,1471.0 L276.1,1472.2 L276.1,1473.4 L276.2,1474.6 L276.2,1475.8 L276.3,1477.0 L276.4,1478.2 L276.4,1479.4 L276.5,1480.6 L276.5,1481.8 L276.6,1483.0 L276.7,1484.2 L276.7,1485.4 L276.8,1486.6 L276.8,1487.9 L276.9,1489.1 L277,1490.3 L277,1491.5 L277.1,1492.7 L277.1,1494.0 L277.2,1495.2 L277.2,1496.4 L277.3,1497.7 L277.4,1498.9 L277.4,1500.1 L277.5,1501.4 L277.5,1502.6 L277.6,1503.9 L277.7,1505.1 L277.7,1506.3 L277.8,1507.6 L277.8,1508.8 L277.9,1510.1 L277.9,1511.3 L278,1512.6 L278.1,1513.8 L278.1,1515.1 L278.2,1516.3 L278.2,1517.6 L278.3,1518.8 L278.3,1520.1 L278.4,1521.4 L278.4,1522.6 L278.5,1523.9 L278.6,1525.1 L278.6,1526.4 L278.7,1527.6 L278.7,1528.9 L278.8,1530.1 L278.8,1531.4 L278.9,1532.6 L279,1533.9 L279,1535.2 L279.1,1536.4 L279.1,1537.7 L279.2,1538.9 L279.2,1540.2 L279.3,1541.4 L279.3,1542.7 L279.4,1543.9 L279.5,1545.2 L279.5,1546.4 L279.6,1547.7 L279.6,1548.9 L279.7,1550.2 L279.7,1551.4 L279.8,1552.7 L279.9,1553.9 L279.9,1555.1 L280,1556.4 L280,1557.6 L280.1,1558.8 L280.2,1560.1 L280.2,1561.3 L280.3,1562.5 L280.3,1563.8 L280.4,1565.0 L280.4,1566.2 L280.5,1567.4 L280.6,1568.7 L280.6,1569.9 L280.7,1571.1 L280.7,1572.3 L280.8,1573.5 L280.9,1574.7 L280.9,1575.9 L281,1577.1 L281,1578.3 L281.1,1579.5 L281.2,1580.7 L281.2,1581.9 L281.3,1583.1 L281.3,1584.3 L281.4,1585.5 L281.5,1586.7 L281.5,1587.8 L281.6,1589.0 L281.7,1590.2 L281.7,1591.4 L281.8,1592.5 L281.9,1593.7 L281.9,1594.8 L282,1596.0 L282,1597.1 L282.1,1598.3 L282.2,1599.4 L282.2,1600.6 L282.3,1601.7 L282.4,1602.8 L282.4,1603.9 L282.5,1605.1 L282.6,1606.2 L282.6,1607.3 L282.7,1608.4 L282.8,1609.5 L282.8,1610.6 L282.9,1611.7 L283,1612.8 L283.1,1613.8 L283.1,1614.9 L283.2,1616.0 L283.3,1617.3 L283.4,1618.7 L283.5,1620.0 L283.6,1621.3 L283.7,1622.6 L283.7,1623.9 L283.8,1625.2 L283.9,1626.5 L284,1627.8 L284.1,1629.1 L284.2,1630.4 L284.3,1631.7 L284.4,1632.9 L284.5,1634.2 L284.6,1635.5 L284.7,1636.7 L284.8,1638.0 L284.9,1639.2 L285,1640.5 L285.1,1641.7 L285.2,1642.9 L285.3,1644.2 L285.4,1645.4 L285.5,1646.6 L285.6,1647.8 L285.7,1649.0 L285.8,1650.3 L285.9,1651.5 L286,1652.7 L286.1,1653.9 L286.2,1655.1 L286.3,1656.3 L286.4,1657.5 L286.5,1658.6 L286.6,1659.8 L286.7,1661.0 L286.8,1662.2 L286.9,1663.4 L287,1664.5 L287.1,1665.7 L287.2,1666.9 L287.3,1668.0 L287.4,1669.2 L287.5,1670.4 L287.6,1671.5 L287.7,1672.7 L287.8,1673.8 L287.9,1675.0 L288,1676.1 L288.1,1677.3 L288.3,1678.4 L288.4,1679.6 L288.5,1680.7 L288.6,1681.9 L288.7,1683.0 L288.8,1684.1 L288.9,1685.3 L289,1686.4 L289.1,1687.6 L289.2,1688.7 L289.3,1689.8 L289.4,1691.0 L289.5,1692.1 L289.6,1693.2 L289.7,1694.3 L289.8,1695.5 L289.9,1696.6 L290,1697.7 L290.1,1698.9 L290.2,1700.0 L290.3,1701.3 L290.4,1702.5 L290.5,1703.8 L290.7,1705.1 L290.8,1706.3 L290.9,1707.6 L291,1708.8 L291.1,1710.1 L291.2,1711.3 L291.4,1712.6 L291.5,1713.8 L291.6,1715.0 L291.7,1716.3 L291.8,1717.5 L291.9,1718.7 L292.1,1719.9 L292.2,1721.1 L292.3,1722.3 L292.4,1723.5 L292.5,1724.8 L292.7,1726.0 L292.8,1727.2 L292.9,1728.4 L293,1729.6 L293.1,1730.8 L293.3,1731.9 L293.4,1733.1 L293.5,1734.3 L293.6,1735.5 L293.7,1736.7 L293.8,1737.9 L294,1739.1 L294.1,1740.3 L294.2,1741.5 L294.3,1742.6 L294.4,1743.8 L294.5,1745.0 L294.6,1746.2 L294.8,1747.4 L294.9,1748.6 L295,1749.8 L295.1,1750.9 L295.2,1752.1 L295.3,1753.3 L295.4,1754.5 L295.5,1755.7 L295.7,1756.9 L295.8,1758.1 L295.9,1759.3 L296,1760.5 L296.1,1761.7 L296.2,1762.9 L296.3,1764.1 L296.4,1765.3 L296.5,1766.5 L296.6,1767.7 L296.7,1768.9 L296.8,1770.1 L296.9,1771.3 L297,1772.5 L297.1,1773.8 L297.2,1775.0 L297.3,1776.2 L297.4,1777.4 L297.5,1778.6 L297.6,1779.8 L297.6,1781.0 L297.7,1782.2 L297.8,1783.4 L297.9,1784.6 L298,1785.8 L298.1,1787.1 L298.2,1788.3 L298.3,1789.5 L298.3,1790.7 L298.4,1791.9 L298.5,1793.1 L298.6,1794.3 L298.7,1795.5 L298.8,1796.7 L298.8,1797.9 L298.9,1799.1 L299,1800.4 L299.1,1801.6 L299.2,1802.8 L299.3,1804.0 L299.4,1805.2 L299.4,1806.4 L299.5,1807.6 L299.6,1808.8 L299.7,1810.0 L299.8,1811.2 L299.9,1812.4 L300,1813.7 L300,1814.9 L300.1,1816.1 L300.2,1817.3 L300.3,1818.5 L300.4,1819.7 L300.5,1820.9 L300.6,1822.1 L300.7,1823.3 L300.8,1824.5 L300.9,1825.7 L301,1827.0 L301.1,1828.2 L301.2,1829.4 L301.3,1830.6 L301.4,1831.8 L301.5,1833.0 L301.6,1834.2 L301.7,1835.4 L301.8,1836.6 L301.9,1837.8 L302,1839.1 L302.1,1840.3 L302.3,1841.5 L302.4,1842.7 L302.5,1843.9 L302.6,1845.1 L302.7,1846.3 L302.8,1847.5 L302.9,1848.7 L303,1850.0 L303.2,1851.2 L303.3,1852.4 L303.4,1853.6 L303.5,1854.8 L303.6,1856.0 L303.7,1857.2 L303.9,1858.4 L304,1859.7 L304.1,1860.9 L304.2,1862.1 L304.3,1863.3 L304.5,1864.5 L304.6,1865.7 L304.7,1866.9 L304.8,1868.1 L305,1869.3 L305.1,1870.6 L305.2,1871.8 L305.3,1873.0 L305.4,1874.2 L305.6,1875.4 L305.7,1876.6 L305.8,1877.8 L306,1879.0 L306.1,1880.2 L306.2,1881.5 L306.3,1882.7 L306.5,1883.9 L306.6,1885.1 L306.7,1886.3 L306.9,1887.5 L307,1888.7 L307.1,1889.9 L307.3,1891.1 L307.4,1892.3 L307.5,1893.6 L307.7,1894.8 L307.8,1896.0 L307.9,1897.2 L308.1,1898.4 L308.2,1899.6 L308.3,1900.8 L308.5,1902.0 L308.6,1903.2 L308.7,1904.5 L308.9,1905.7 L309,1906.9 L309.2,1908.2 L309.3,1909.4 L309.4,1910.7 L309.6,1911.9 L309.7,1913.1 L309.8,1914.4 L310,1915.6 L310.1,1916.9 L310.3,1918.1 L310.4,1919.4 L310.5,1920.6 L310.7,1921.9 L310.8,1923.2 L311,1924.4 L311.1,1925.7 L311.2,1926.9 L311.4,1928.2 L311.5,1929.4 L311.7,1930.7 L311.8,1931.9 L312,1933.2 L312.1,1934.4 L312.3,1935.6 L312.4,1936.9 L312.6,1938.1 L312.7,1939.3 L312.9,1940.6 L313,1941.8 L313.2,1943.0 L313.3,1944.2 L313.5,1945.4 L313.6,1946.6 L313.8,1947.8 L314,1949.0 L314.1,1950.2 L314.3,1951.4 L314.4,1952.6 L314.6,1953.7 L314.8,1954.9 L314.9,1956.0 L315.1,1957.2 L315.3,1958.3 L315.4,1959.4 L315.6,1960.5 L315.8,1961.7 L316,1962.8 L316.1,1963.8 L316.3,1964.9 L316.5,1966.0 L316.7,1967.3 L317,1968.7 L317.2,1970.0 L317.4,1971.3 L317.7,1972.6 L317.9,1973.9 L318.2,1975.2 L318.4,1976.5 L318.7,1977.8 L319,1979.0 L319.2,1980.3 L319.5,1981.6 L319.8,1982.8 L320,1984.0 L320.3,1985.3 L320.6,1986.5 L320.8,1987.7 L321.1,1988.9 L321.4,1990.1 L321.6,1991.3 L321.9,1992.5 L322.2,1993.6 L322.4,1994.8 L322.7,1995.9 L323,1997.1 L323.2,1998.2 L323.5,1999.3 L323.8,2000.5 L324,2001.6 L324.3,2002.7 L324.5,2003.7 L324.8,2004.8 L325,2005.9 L325.3,2007.0 L325.5,2008.0 L325.8,2009.3 L326.1,2010.6 L326.4,2011.9 L326.7,2013.2 L326.9,2014.4 L327.2,2015.6 L327.5,2016.8 L327.8,2018.0 L328,2019.1 L328.3,2020.3 L328.6,2021.4 L328.8,2022.6 L329.1,2023.7 L329.4,2024.9 L329.7,2026.0 L330,2027.1 L330.3,2028.3 L330.6,2029.4 L330.9,2030.6 L331.2,2031.8 L331.5,2032.9 L331.7,2033.8 L332,2034.8 L332.2,2035.5 L332.4,2036.4 L332.7,2037.6 L332.9,2038.2 L333.1,2039.5 L333.3,2040.0 L333.6,2040.9 L333.8,2041.9 L334,2042.6 L334.3,2043.8 L334.5,2044.8 L334.7,2046.0 L335,2046.8 L335.2,2047.4 L335.5,2048.3 L335.8,2049.2 L336,2049.9 L336.3,2050.8 L336.6,2051.6 L336.9,2053.2 L337.1,2054.3 L337.4,2054.5 L337.8,2055.1 L338.1,2056.3 L338.4,2056.5 L338.7,2057.9 L339.1,2058.3 L339.4,2059.7 L339.8,2060.7 L340.3,2061.7 L340.7,2061.0 L341.2,2062.0 L341.7,2062.9 L342.2,2065.1 L342.7,2065.5 L343.2,2065.1 L343.8,2065.6 L344.3,2067.0 L344.9,2067.6 L345.4,2069.7 L346,2070.7 L346.6,2069.7 L347.2,2071.7 L347.7,2071.2 L348.3,2072.1 L348.9,2071.6 L349.6,2073.8 L350.2,2072.9 L350.8,2074.5 L351.4,2074.2 L352.2,2076.4 L353,2075.4 L353.7,2076.6 L354.6,2077.3 L355.4,2077.4 L356.2,2077.3 L357,2077.9 L357.9,2079.0 L358.7,2078.3 L359.6,2080.5 L360.4,2080.5 L361.3,2078.9 L362.1,2079.0 L363,2079.9 L363.8,2078.8 L364.7,2081.0 L365.5,2078.6 L366.3,2079.4 L367.2,2079.0 L368.1,2078.8 L368.9,2077.9 L369.8,2077.8 L370.6,2077.0 L371.5,2075.7 L372.3,2075.2 L373.2,2076.5 L374,2074.7 L374.8,2074.7 L375.6,2074.5 L376.4,2072.1 L377,2071.6 L377.7,2072.2 L378.3,2070.8 L378.9,2070.6 L379.6,2069.8 L380.2,2068.8 L380.8,2069.1 L381.4,2068.4 L382,2066.2 L382.6,2066.1 L383.2,2066.4 L383.8,2065.8 L384.4,2063.7 L384.9,2064.0 L385.5,2062.0 L386.1,2060.7 L386.6,2061.4 L387.2,2059.9 L387.7,2058.1 L388.2,2058.5 L388.7,2057.2 L389.2,2057.0 L389.7,2056.1 L390.3,2056.2 L390.9,2054.0 L391.4,2054.2 L392,2053.1 L392.5,2052.5 L393,2052.3 L393.5,2051.2 L393.9,2050.6 L394.4,2050.3 L394.9,2048.7 L395.4,2048.8 L395.9,2048.0 L396.5,2046.3 L397,2046.3 L397.5,2045.2 L398,2044.2 L398.6,2044.2 L399.1,2042.2 L399.6,2041.5 L400.2,2041.1 L400.7,2041.7 L401.3,2039.3 L401.8,2039.2 L402.4,2039.5 L402.9,2036.5 L403.5,2037.1 L404.1,2036.6 L404.6,2034.6 L405.2,2035.7 L405.7,2033.1 L406.3,2033.0 L406.8,2032.4 L407.4,2031.5 L407.9,2031.5 L408.5,2030.3 L409,2029.2 L409.5,2028.1 L410.1,2028.7 L410.6,2026.8 L411.2,2025.2 L411.7,2024.7 L412.3,2025.3 L412.8,2023.4 L413.4,2023.3 L413.9,2023.4 L414.5,2020.7 L415.1,2020.1 L415.7,2021.3 L416.3,2020.4 L416.8,2019.8 L417.4,2017.6 L418,2016.9 L418.5,2016.3 L419.1,2016.8 L419.7,2014.2 L420.3,2014.4 L421,2013.1 L421.6,2012.4 L422.2,2011.1 L422.8,2011.2 L423.4,2009.6 L424.1,2009.9 L424.7,2009.7 L425.3,2008.0 L425.9,2007.4 L426.4,2006.0 L427,2007.5 L427.6,2004.6 L428.1,2005.6 L428.6,2004.7 L429.1,2002.8 L429.6,2002.0 L430.2,2001.6 L430.7,2000.7 L431.2,2000.5 L431.7,1999.5 L432.2,1998.3 L432.6,1998.9 L433.1,1996.7 L433.5,1996.4 L434,1996.9 L434.5,1996.4 L435,1995.3 L435.6,1994.3 L436.3,1991.8 L436.7,1993.0 L437,1990.5 L437.4,1990.6 L437.8,1990.7 L438.2,1990.7 L438.6,1990.1 L439.1,1988.0 L439.5,1986.9 L440,1986.7 L440.4,1986.8 L440.9,1987.1 L441.4,1986.0 L441.9,1984.4 L442.4,1984.9 L442.9,1982.7 L443.4,1982.2 L443.9,1982.8 L444.5,1979.8 L445,1979.4 L445.6,1980.3 L446.1,1978.9 L446.7,1977.5 L447.2,1977.3 L447.8,1975.6 L448.4,1975.2 L448.9,1973.7 L449.5,1973.3 L450.1,1974.0 L450.7,1972.1 L451.3,1972.6 L451.9,1970.9 L452.4,1970.4 L453,1968.2 L453.6,1969.2 L454.2,1966.5 L454.8,1967.1 L455.4,1966.3 L456,1963.9 L456.6,1964.4 L457.2,1963.6 L457.8,1963.5 L458.4,1962.0 L458.9,1962.1 L459.5,1961.0 L460.1,1958.4 L460.7,1959.3 L461.2,1958.2 L461.8,1957.4 L462.3,1957.5 L462.9,1955.8 L463.5,1955.4 L464.1,1955.5 L464.7,1953.4 L465.3,1954.0 L465.8,1951.1 L466.4,1950.9 L467,1951.6 L467.6,1950.3 L468.2,1949.5 L468.8,1949.4 L469.4,1947.2 L470,1947.2 L470.6,1946.0 L471.2,1946.7 L471.8,1944.4 L472.3,1943.2 L472.9,1944.0 L473.5,1942.0 L474.1,1941.5 L474.7,1941.6 L475.3,1940.5 L475.9,1940.5 L476.5,1940.2 L477.1,1940.0 L477.7,1938.4 L478.4,1937.0 L479,1936.2 L479.6,1936.0 L480.2,1936.0 L480.8,1935.4 L481.4,1933.6 L482,1932.4 L482.6,1933.9 L483.2,1932.4 L483.9,1930.6 L484.5,1930.8 L485.1,1929.1 L485.7,1929.4 L486.4,1928.8 L487,1927.8 L487.6,1927.8 L488.2,1926.3 L488.9,1925.4 L489.5,1927.2 L490.2,1925.7 L490.9,1925.5 L491.6,1924.1 L492.3,1923.6 L493,1921.8 L493.8,1922.3 L494.5,1921.9 L495.2,1921.9 L495.9,1920.1 L496.6,1919.2 L497.4,1918.4 L498.1,1919.3 L498.8,1918.4 L499.5,1918.3 L500.3,1916.5 L501,1916.3 L501.7,1914.8 L502.5,1914.9 L503.2,1914.8 L503.9,1913.7 L504.7,1913.8 L505.4,1913.5 L506.2,1912.9 L506.9,1912.9 L507.7,1910.0 L508.4,1909.9 L509.2,1910.7 L509.9,1908.5 L510.7,1909.0 L511.4,1909.0 L512.2,1909.4 L512.9,1908.7 L513.7,1907.7 L514.5,1907.3 L515.2,1907.4 L516,1905.1 L516.8,1905.8 L517.7,1904.1 L518.6,1904.8 L519.5,1903.1 L520.4,1904.2 L521.3,1904.4 L522.2,1903.5 L523.2,1903.3 L524.1,1902.4 L525.1,1901.7 L526,1901.5 L527,1901.2 L527.9,1900.0 L528.9,1900.0 L529.8,1900.4 L530.7,1900.3 L531.7,1899.8 L532.6,1900.4 L533.5,1898.6 L534.4,1899.6 L535.3,1898.2 L536.1,1899.1 L537,1899.1 L537.8,1897.2 L538.6,1897.6 L539.3,1897.2 L540.1,1896.0 L540.8,1895.4 L541.4,1895.4 L542.1,1896.9 L542.7,1894.9 L543.8,1894.7 L544.7,1894.6 L545.6,1894.0 L546.4,1895.6 L547.1,1894.0 L548,1893.5 L548.9,1892.7 L550,1893.1 L550.7,1893.3 L551.3,1891.3 L552.1,1892.4 L552.8,1892.8 L553.6,1890.8 L554.4,1891.7 L555.3,1891.4 L556.2,1889.9 L557.1,1889.9 L558,1889.3 L558.9,1890.6 L559.8,1890.1 L560.8,1889.7 L561.7,1888.6 L562.7,1888.5 L563.7,1888.3 L564.7,1887.3 L565.6,1888.1 L566.6,1886.8 L567.6,1887.7 L568.6,1888.6 L569.5,1886.1 L570.5,1886.8 L571.4,1886.6 L572.3,1887.1 L573.2,1887.3 L574.1,1887.1 L574.9,1887.1 L575.8,1888.1 L576.6,1888.4 L577.5,1886.8 L578.3,1888.4 L579.2,1887.9 L580,1887.4 L580.8,1887.4 L581.7,1888.4 L582.5,1887.9 L583.4,1889.7 L584.2,1888.9 L585,1890.3 L585.9,1889.9 L586.7,1890.0 L587.6,1891.4 L588.4,1890.8 L589.3,1892.9 L590.2,1891.6 L591.1,1891.5 L591.9,1892.3 L592.8,1893.1 L593.7,1893.5 L594.6,1893.8 L595.6,1894.5 L596.5,1894.2 L597.3,1895.4 L598,1895.2 L598.8,1896.5 L599.6,1896.2 L600.4,1896.5 L601.2,1896.3 L602,1897.4 L602.9,1897.6 L603.7,1898.2 L604.5,1897.2 L605.4,1898.9 L606.2,1898.7 L607,1898.0 L607.9,1898.2 L608.7,1897.9 L609.6,1900.1 L610.4,1900.1 L611.3,1901.0 L612.2,1899.0 L613,1899.7 L613.9,1901.5 L614.8,1900.6 L615.6,1900.6 L616.5,1902.5 L617.4,1901.3 L618.2,1902.7 L619.1,1904.3 L619.9,1902.4 L620.8,1903.5 L621.7,1904.1 L622.5,1903.1 L623.4,1904.0 L624.2,1906.0 L625,1906.5 L625.9,1904.8 L626.7,1906.8 L627.5,1907.6 L628.4,1906.8 L629.2,1908.0 L630,1908.1 L630.8,1909.2 L631.6,1909.7 L632.3,1909.9 L633.1,1909.5 L633.9,1909.8 L634.6,1909.9 L635.4,1910.2 L636.2,1912.4 L636.9,1912.9 L637.7,1912.2 L638.5,1913.0 L639.2,1912.7 L640,1913.7 L640.7,1914.5 L641.5,1915.4 L642.2,1915.5 L643,1916.3 L643.7,1916.3 L644.5,1917.6 L645.2,1918.2 L646,1918.3 L646.7,1918.9 L647.5,1919.7 L648.2,1920.2 L649,1920.8 L649.7,1920.9 L650.4,1921.4 L651.2,1922.4 L651.9,1923.2 L652.7,1923.0 L653.4,1923.6 L654.1,1924.5 L654.9,1925.1 L655.6,1925.7 L656.4,1925.3 L657.1,1926.8 L657.8,1926.7 L658.6,1928.2 L659.3,1927.8 L660,1928.9 L660.8,1930.8 L661.5,1929.5 L662.3,1931.9 L663,1931.9 L663.7,1932.9 L664.4,1931.9 L665.1,1934.3 L665.8,1933.9 L666.5,1934.2 L667.2,1935.5 L667.9,1935.8 L668.6,1935.1 L669.3,1936.5 L670,1936.4 L670.7,1937.3 L671.4,1938.1 L672.1,1938.5 L672.8,1938.9 L673.5,1940.2 L674.2,1939.0 L674.9,1942.0 L675.6,1942.0 L676.3,1942.5 L677,1942.7 L677.7,1942.8 L678.4,1944.1 L679.1,1943.8 L679.8,1945.5 L680.5,1945.3 L681.2,1945.3 L681.9,1947.2 L682.6,1948.0 L683.3,1948.5 L683.9,1948.3 L684.6,1949.5 L685.3,1950.0 L686,1951.4 L686.7,1949.7 L687.4,1951.9 L688.1,1950.9 L688.8,1952.3 L689.5,1954.1 L690.1,1954.8 L690.8,1955.7 L691.5,1956.5 L692.2,1955.6 L692.9,1957.9 L693.6,1958.0 L694.3,1957.8 L694.9,1958.7 L695.6,1959.0 L696.3,1959.4 L697,1960.5 L697.6,1960.7 L698.3,1960.6 L698.9,1961.3 L699.5,1963.5 L700.2,1962.9 L700.8,1962.7 L701.5,1964.0 L702.1,1966.1 L702.8,1966.2 L703.4,1965.5 L704.1,1967.9 L704.7,1966.9 L705.3,1968.7 L706,1969.8 L706.6,1969.1 L707.2,1969.5 L707.9,1972.0 L708.5,1972.1 L709.2,1972.0 L709.8,1973.6 L710.4,1973.4 L711.1,1974.2 L711.7,1974.4 L712.3,1975.1 L713,1975.9 L713.6,1977.9 L714.2,1978.2 L714.9,1978.7 L715.5,1978.8 L716.1,1980.9 L716.8,1981.1 L717.4,1980.2 L718.1,1981.5 L718.7,1981.4 L719.3,1983.1 L720,1984.1 L720.6,1983.1 L721.2,1985.3 L721.9,1986.5 L722.5,1987.0 L723.2,1986.2 L723.8,1988.5 L724.4,1988.2 L725.1,1988.6 L725.7,1990.0 L726.4,1988.7 L727,1991.4 L727.7,1991.8 L728.3,1991.1 L729,1991.1 L729.6,1994.4 L730.3,1992.3 L730.9,1995.3 L731.6,1993.5 L732.3,1995.7 L733,1995.7 L733.7,1995.9 L734.3,1996.2 L735,1998.5 L735.7,1999.5 L736.4,1999.9 L737.1,1999.0 L737.7,2000.9 L738.4,2000.8 L739.1,2001.2 L739.8,2002.8 L740.5,2002.3 L741.1,2003.0 L741.8,2004.4 L742.5,2004.3 L743.2,2004.2 L743.9,2005.6 L744.6,2005.6 L745.3,2006.5 L745.9,2006.5 L746.6,2010.2 L747.3,2008.8 L748,2010.4 L748.7,2009.1 L749.4,2010.2 L750.1,2010.1 L750.7,2013.4 L751.4,2011.1 L752.1,2011.9 L752.8,2013.5 L753.5,2013.9 L754.2,2015.4 L754.8,2015.9 L755.5,2016.1 L756.2,2017.1 L756.9,2018.2 L757.6,2017.7 L758.3,2018.2 L758.9,2018.8 L759.6,2019.6 L760.3,2020.5 L761,2021.0 L761.6,2021.7 L762.3,2022.6 L763,2023.4 L763.7,2023.4 L764.3,2024.5 L765,2025.0 L765.7,2025.2 L766.3,2026.8 L767,2027.1 L767.6,2026.8 L768.3,2028.5 L769,2029.2 L769.6,2028.6 L770.3,2029.0 L770.9,2030.4 L771.6,2032.0 L772.2,2031.8 L772.9,2033.8 L773.6,2033.4 L774.2,2033.1 L774.9,2035.8 L775.5,2033.5 L776.2,2036.2 L776.8,2036.0 L777.5,2036.5 L778.1,2037.4 L778.8,2038.9 L779.4,2038.3 L780.1,2039.9 L780.8,2040.8 L781.4,2040.3 L782.1,2039.9 L782.7,2041.1 L783.4,2041.5 L784,2044.8 L784.7,2042.6 L785.3,2044.7 L786,2045.8 L786.7,2046.0 L787.3,2047.2 L788,2046.8 L788.6,2048.2 L789.3,2048.2 L790,2049.4 L790.6,2049.5 L791.3,2050.1 L792,2050.7 L792.6,2050.9 L793.3,2051.9 L794,2053.1 L794.7,2052.6 L795.3,2054.4 L796,2054.8 L796.7,2055.8 L797.4,2057.3 L798.1,2058.0 L798.8,2056.8 L799.5,2058.3 L800.2,2059.1 L800.9,2059.6 L801.6,2059.0 L802.3,2059.0 L803,2059.7 L803.7,2060.3 L804.4,2062.2 L805.1,2061.4 L805.8,2062.3 L806.5,2063.0 L807.2,2063.5 L807.9,2064.3 L808.6,2064.4 L809.3,2066.2 L810.1,2066.0 L810.8,2068.2 L811.5,2067.4 L812.2,2066.6 L812.9,2067.2 L813.6,2069.9 L814.3,2068.9 L815,2069.4 L815.7,2070.0 L816.5,2070.8 L817.2,2072.7 L817.9,2072.9 L818.6,2072.6 L819.3,2075.0 L820,2074.7 L820.8,2074.6 L821.5,2075.1 L822.2,2073.9 L822.9,2075.3 L823.6,2077.0 L824.4,2078.4 L825.1,2077.2 L825.8,2079.6 L826.5,2077.9 L827.2,2079.1 L828,2080.7 L828.7,2079.4 L829.4,2082.3 L829.9,2080.3 L830.4,2081.3 L830.9,2081.6 L831.4,2082.5 L831.9,2083.2 L832.4,2084.5 L832.9,2082.5 L833.5,2084.9 L834,2083.9 L834.5,2084.3 L835,2086.4 L835.6,2085.5 L836.1,2084.5 L836.6,2086.2 L837.1,2085.9 L837.7,2087.3 L838.2,2086.8 L838.7,2088.0 L839.3,2088.0 L839.8,2088.3 L840.3,2087.6 L840.9,2088.5 L841.4,2090.7 L841.9,2088.6 L842.5,2090.6 L843,2090.2 L843.6,2090.5 L844.1,2090.7 L844.6,2091.8 L845.2,2092.2 L845.7,2091.7 L846.2,2092.2 L846.8,2092.3 L847.3,2093.8 L847.8,2093.5 L848.3,2093.1 L848.9,2094.5 L849.4,2094.5 L849.9,2095.1 L850.4,2094.2 L850.9,2096.2 L851.4,2094.9 L852,2096.6 L852.5,2095.5 L853,2098.1 L853.5,2095.8 L854,2098.5 L854.5,2096.7 L855,2100.0 L855.5,2097.2 L855.9,2099.5 L856.4,2098.2 L856.9,2099.9 L857.4,2098.8 L857.8,2100.2 L858.3,2099.9 L858.8,2100.8 L859.2,2100.3 L859.7,2101.3 L860.1,2101.0 L860.6,2101.7 L861,2101.5 L861.4,2102.7 L861.9,2102.0 L862.3,2103.1 L862.7,2102.5 L863.3,2103.8 L863.9,2103.1 L864.5,2104.2 L865,2103.3 L865.6,2104.8 L866.1,2104.2 L866.7,2105.3 L867.2,2104.8 L867.7,2105.8 L868.2,2105.0 L868.7,2107.0 L869.2,2105.5 L869.7,2108.0 L870.2,2106.2 L870.6,2107.5 L871.1,2107.1 L871.6,2108.3 L872.1,2107.5 L872.6,2108.7 L873.1,2107.6 L873.6,2109.4 L874.1,2108.8 L874.6,2109.9 L875.2,2109.0 L875.7,2110.2 L876.3,2109.7 L876.8,2110.8 L877.4,2109.6 L878,2112.6 L878.5,2109.9 L879,2112.4 L879.4,2110.8 L879.9,2112.4 L880.4,2111.5 L880.9,2113.1 L881.4,2111.8 L881.9,2113.8 L882.4,2112.1 L883,2113.5 L883.5,2113.2 L884,2114.5 L884.5,2113.8 L885.1,2114.8 L885.6,2114.0 L886.1,2115.8 L886.7,2115.0 L887.2,2115.8 L887.8,2115.1 L888.3,2116.6 L888.9,2116.0 L889.4,2117.1 L890,2115.9 L890.5,2117.7 L891.1,2116.7 L891.7,2118.1 L892.2,2116.8 L892.8,2118.2 L893.4,2117.8 L894,2118.7 L894.5,2118.6 L895.1,2119.3 L895.7,2118.8 L896.3,2119.9 L896.8,2119.1 L897.4,2120.9 L898,2119.5 L898.6,2120.7 L899.2,2120.2 L899.8,2121.7 L900.4,2119.2 L901,2123.0 L901.5,2120.2 L902.1,2122.9 L902.7,2121.2 L903.3,2123.3 L903.9,2121.6 L904.5,2123.3 L905,2122.0 L905.6,2124.3 L906.1,2122.3 L906.7,2124.3 L907.3,2123.4 L907.8,2124.2 L908.4,2123.3 L908.9,2125.4 L909.5,2123.4 L910.1,2125.5 L910.6,2123.4 L911.2,2126.2 L911.8,2123.7 L912.4,2126.8 L912.9,2124.9 L913.5,2126.5 L914.1,2124.8 L914.7,2127.9 L915.3,2125.4 L915.8,2127.2 L916.4,2125.0 L917,2127.4 L917.6,2126.9 L918.2,2127.7 L918.8,2126.9 L919.4,2128.1 L920,2127.1 L920.5,2129.2 L921.1,2127.7 L921.7,2128.8 L922.3,2128.2 L922.9,2129.4 L923.5,2128.0 L924.1,2129.5 L924.7,2128.7 L925.3,2130.1 L925.9,2128.8 L926.5,2130.0 L927.1,2129.8 L927.7,2131.1 L928.3,2128.8 L928.9,2131.9 L929.5,2130.0 L930.1,2132.2 L930.7,2129.5 L931.3,2131.8 L931.9,2130.1 L932.5,2132.4 L933.1,2130.2 L933.7,2132.3 L934.3,2131.4 L934.8,2132.7 L935.4,2131.6 L936,2132.9 L936.6,2131.6 L937.2,2133.2 L937.8,2130.7 L938.4,2133.1 L939,2132.3 L939.6,2133.3 L940.2,2132.5 L940.7,2134.1 L941.3,2133.2 L941.9,2134.6 L942.5,2132.6 L943.1,2135.3 L943.7,2133.5 L944.3,2134.9 L944.9,2133.4 L945.5,2134.7 L946.1,2133.8 L946.7,2135.2 L947.3,2134.3 L947.8,2136.1 L948.4,2134.4 L949,2135.7 L949.6,2134.3 L950.2,2136.4 L950.8,2133.5 L951.4,2137.4 L952,2135.3 L952.6,2136.9 L953.2,2134.5 L953.8,2136.7 L954.4,2134.0 L955,2137.8 L955.6,2135.3 L956.2,2136.6 L956.7,2136.0 L957.3,2136.9 L957.9,2136.3 L958.5,2137.1 L959.1,2136.7 L959.7,2137.6 L960.3,2136.8 L960.9,2137.8 L961.5,2137.0 L962.1,2137.8 L962.7,2137.3 L963.3,2138.4 L963.9,2136.0 L964.5,2138.7 L965.1,2137.5 L965.7,2139.9 L966.2,2136.6 L966.8,2138.4 L967.4,2137.2 L968,2138.6 L968.6,2136.6 L969.2,2140.1 L969.8,2136.9 L970.4,2138.9 L971,2138.0 L971.6,2139.3 L972.2,2138.2 L972.8,2139.3 L973.4,2138.6 L974,2139.8 L974.6,2138.3 L975.2,2141.3 L975.8,2138.0 L976.4,2140.5 L977,2138.8 L977.6,2140.7 L978.2,2139.0 L978.8,2140.4 L979.4,2139.4 L980,2140.8 L980.6,2139.0 L981.2,2140.4 L981.8,2139.5 L982.4,2140.4 L983,2139.6 L983.6,2141.7 L984.2,2138.5 L984.8,2140.5 L985.4,2139.8 L986,2141.3 L986.6,2139.8 L987.2,2141.3 L987.8,2140.0 L988.4,2143.4 L989,2138.8 L989.6,2143.0 L990.2,2138.6 L990.8,2142.8 L991.4,2138.1 L992,2141.6 L992.6,2140.4 L993.2,2141.7 L993.8,2139.7 L994.4,2141.9 L995,2140.9 L995.6,2143.2 L996.2,2140.3 L996.8,2144.3 L997.4,2139.2 L998,2142.4 L998.6,2138.4 L999.2,2142.4 L999.8,2140.0 L1000.4,2143.2 L1001,2140.6 L1001.6,2142.2 L1002.2,2140.6 L1002.8,2142.4 L1003.4,2140.7 L1004,2142.7 L1004.6,2141.8 L1005.2,2143.2 L1005.8,2141.6 L1006.4,2142.6 L1007,2141.8 L1007.6,2144.0 L1008.2,2142.1 L1008.8,2144.2 L1009.4,2142.1 L1010,2145.7 L1010.6,2140.0 L1011.2,2144.3 L1011.8,2141.1 L1012.4,2144.2 L1013,2140.4 L1013.6,2144.0 L1014.2,2142.0 L1014.8,2144.6 L1015.4,2141.3 L1016,2143.9 L1016.6,2142.6 L1017.2,2143.8 L1017.8,2142.6 L1018.4,2143.9 L1019,2142.8 L1019.6,2144.1 L1020.2,2142.7 L1020.8,2146.1 L1021.4,2142.4 L1022,2145.0 L1022.6,2141.6 L1023.2,2146.3 L1023.8,2141.0 L1024.4,2144.6 L1025,2142.8 L1025.6,2144.3 L1026.2,2142.9 L1026.8,2144.5 L1027.4,2142.7 L1028,2144.7 L1028.6,2141.3 L1029.2,2146.3 L1029.8,2142.5 L1030.4,2146.2 L1031,2141.7 L1031.6,2144.5 L1032.2,2143.5 L1032.8,2144.8 L1033.4,2143.1 L1034,2144.8 L1034.6,2143.1 L1035.2,2147.2 L1035.8,2141.4 L1036.4,2145.6 L1037,2141.7 L1037.6,2147.2 L1038.2,2141.8 L1038.8,2145.2 L1039.4,2143.8 L1040,2145.0 L1040.6,2143.4 L1041.2,2145.2 L1041.9,2143.5 L1042.5,2145.6 L1043.1,2141.4 L1043.7,2145.3 L1044.3,2142.5 L1044.9,2147.3 L1045.5,2144.0 L1046.1,2146.6 L1046.7,2144.1 L1047.3,2146.4 L1047.9,2143.2 L1048.5,2146.1 L1049.2,2143.3 L1049.8,2147.0 L1050.4,2144.4 L1051,2145.8 L1051.6,2144.6 L1052.2,2145.7 L1052.8,2143.2 L1053.4,2146.1 L1054,2142.3 L1054.6,2149.7 L1055.2,2143.0 L1055.8,2149.4 L1056.4,2143.6 L1057,2147.3 L1057.7,2144.9 L1058.3,2146.4 L1058.9,2144.9 L1059.5,2146.6 L1060.1,2144.8 L1060.7,2149.9 L1061.3,2144.0 L1061.9,2147.6 L1062.5,2142.9 L1063.1,2146.5 L1063.7,2141.5 L1064.3,2147.2 L1064.9,2144.4 L1065.5,2146.4 L1066.2,2144.7 L1066.8,2147.2 L1067.4,2144.4 L1068,2148.0 L1068.6,2145.3 L1069.2,2146.4 L1069.8,2145.2 L1070.4,2148.8 L1071,2144.1 L1071.6,2147.4 L1072.2,2144.2 L1072.8,2147.1 L1073.4,2145.0 L1074,2147.6 L1074.6,2144.2 L1075.2,2146.7 L1075.8,2144.4 L1076.4,2146.6 L1077,2145.3 L1077.6,2147.1 L1078.2,2145.4 L1078.8,2148.3 L1079.4,2143.8 L1080,2147.4 L1080.6,2143.3 L1081.2,2149.4 L1081.9,2142.1 L1082.5,2149.0 L1083.1,2145.3 L1083.7,2147.2 L1084.3,2145.2 L1084.9,2148.1 L1085.5,2145.6 L1086.1,2150.7 L1086.7,2144.7 L1087.3,2150.2 L1087.9,2143.6 L1088.5,2151.2 L1089.1,2144.6 L1089.7,2150.1 L1090.3,2142.3 L1090.9,2151.8 L1091.5,2141.9 L1092.1,2148.4 L1092.7,2143.9 L1093.3,2147.9 L1093.9,2145.7 L1094.5,2147.6 L1095.1,2145.7 L1095.7,2147.0 L1096.3,2144.8 L1096.9,2150.9 L1097.5,2141.9 L1098.1,2149.1 L1098.7,2144.3 L1099.3,2151.2 L1099.9,2142.1 L1100.4,2149.4 L1101,2145.5 L1101.6,2150.9 L1102.2,2143.5 L1102.8,2148.7 L1103.4,2145.2 L1104,2147.9 L1104.6,2146.0 L1105.2,2147.3 L1105.8,2146.0 L1106.5,2157.7 L1107.1,2134.9 L1107.7,2157.1 L1108.3,2136.5 L1108.9,2156.6 L1109.5,2135.0 L1110.1,2158.3 L1110.8,2134.9 L1111.4,2158.7 L1112,2136.1 L1112.6,2160.8 L1113.2,2132.9 L1113.8,2161.8 L1114.4,2133.8 L1115,2162.7 L1115.6,2134.8 L1116.2,2159.8 L1116.8,2133.8 L1117.4,2159.9 L1118,2130.9 L1118.7,2158.6 L1119.3,2133.9 L1119.9,2157.9 L1120.5,2134.4 L1121.1,2158.1 L1121.7,2135.2 L1122.3,2158.2 L1122.9,2136.6 L1123.5,2158.0 L1124.1,2136.7 L1124.7,2160.7 L1125.3,2135.3 L1125.9,2160.6 L1126.5,2135.3 L1127.1,2159.7 L1127.7,2134.7 L1128.3,2158.4 L1128.9,2136.3 L1129.5,2158.3 L1130.1,2134.7 L1130.8,2158.7"/>
<path stroke="#ff0000" d="M865.0,2107.1 V2029 M999.5,2144.6 V2129 M1065,2148.8 V2134"/>
<path stroke="#fdbb2d" d="M242.4,0.0 L242.4,1.2 L242.4,2.4 L242.4,3.5 L242.4,4.6 L242.4,5.7 L242.5,6.8 L242.5,7.9 L242.5,8.9 L242.5,10.0 L242.5,11.0 L242.5,12.1 L242.5,13.1 L242.5,14.1 L242.5,15.1 L242.5,16.2 L242.5,17.2 L242.6,18.2 L242.6,19.3 L242.6,20.4 L242.6,21.4 L242.6,22.5 L242.6,23.7 L242.6,24.8 L242.6,26.0 L242.6,27.1 L242.6,28.4 L242.7,29.6 L242.7,30.9 L242.7,32.2 L242.7,33.5 L242.7,34.9 L242.7,36.4 L242.7,37.9 L242.7,39.4 L242.8,41.0 L242.8,42.6 L242.8,44.3 L242.8,46.0 L242.8,46.7 L242.8,47.3 L242.8,48.0 L242.8,48.7 L242.8,49.3 L242.8,50.0 L242.8,50.7 L242.9,51.4 L242.9,52.2 L242.9,52.9 L242.9,53.6 L242.9,54.4 L242.9,55.1 L242.9,55.9 L242.9,56.6 L242.9,57.4 L242.9,58.2 L242.9,58.9 L242.9,59.7 L242.9,60.5 L242.9,61.3 L243,62.1 L243,62.9 L243,63.8 L243,64.6 L243,65.4 L243,66.3 L243,67.1 L243,68.0 L243,68.8 L243,69.7 L243,70.6 L243,71.5 L243.1,72.4 L243.1,73.3 L243.1,74.2 L243.1,75.1 L243.1,76.0 L243.1,76.9 L243.1,77.8 L243.1,78.8 L243.1,79.7 L243.1,80.7 L243.1,81.6 L243.2,82.6 L243.2,83.5 L243.2,84.5 L243.2,85.5 L243.2,86.4 L243.2,87.4 L243.2,88.4 L243.2,89.4 L243.2,90.4 L243.2,91.4 L243.3,92.5 L243.3,93.5 L243.3,94.5 L243.3,95.5 L243.3,96.6 L243.3,97.6 L243.3,98.7 L243.3,99.7 L243.3,100.8 L243.4,101.8 L243.4,102.9 L243.4,104.0 L243.4,105.1 L243.4,106.1 L243.4,107.2 L243.4,108.3 L243.4,109.4 L243.4,110.5 L243.5,111.6 L243.5,112.7 L243.5,113.9 L243.5,115.0 L243.5,116.1 L243.5,117.2 L243.5,118.4 L243.5,119.5 L243.5,120.7 L243.6,121.8 L243.6,123.0 L243.6,124.1 L243.6,125.3 L243.6,126.5 L243.6,127.6 L243.6,128.8 L243.6,130.0 L243.7,131.2 L243.7,132.4 L243.7,133.6 L243.7,134.7 L243.7,135.9 L243.7,137.2 L243.7,138.4 L243.7,139.6 L243.8,140.8 L243.8,142.0 L243.8,143.2 L243.8,144.5 L243.8,145.7 L243.8,146.9 L243.8,148.2 L243.8,149.4 L243.9,150.6 L243.9,151.9 L243.9,153.1 L243.9,154.4 L243.9,155.7 L243.9,156.9 L243.9,158.2 L243.9,159.4 L244,160.7 L244,162.0 L244,163.3 L244,164.5 L244,165.8 L244,167.1 L244,168.4 L244.1,169.7 L244.1,171.0 L244.1,172.3 L244.1,173.6 L244.1,174.9 L244.1,176.2 L244.1,177.5 L244.1,178.8 L244.2,180.1 L244.2,181.4 L244.2,182.7 L244.2,184.1 L244.2,185.4 L244.2,186.7 L244.2,188.0 L244.3,189.4 L244.3,190.7 L244.3,192.0 L244.3,193.4 L244.3,194.7 L244.3,196.0 L244.3,197.4 L244.3,198.7 L244.4,200.1 L244.4,201.4 L244.4,202.8 L244.4,204.1 L244.4,205.5 L244.4,206.8 L244.4,208.2 L244.5,209.5 L244.5,210.9 L244.5,212.2 L244.5,213.6 L244.5,215.0 L244.5,216.3 L244.5,217.7 L244.6,219.1 L244.6,220.4 L244.6,221.8 L244.6,223.2 L244.6,224.5 L244.6,225.9 L244.6,227.3 L244.6,228.7 L244.7,230.0 L244.7,231.4 L244.7,232.8 L244.7,234.2 L244.7,235.5 L244.7,236.9 L244.7,238.3 L244.8,239.7 L244.8,241.1 L244.8,242.4 L244.8,243.8 L244.8,245.2 L244.8,246.6 L244.8,248.0 L244.9,249.4 L244.9,250.7 L244.9,252.1 L244.9,253.5 L244.9,254.9 L244.9,256.3 L244.9,257.7 L244.9,259.0 L245,260.4 L245,261.8 L245,263.2 L245,264.6 L245,266.0 L245,267.4 L245,268.7 L245.1,270.1 L245.1,271.5 L245.1,272.9 L245.1,274.3 L245.1,275.7 L245.1,277.0 L245.1,278.4 L245.1,279.8 L245.2,281.2 L245.2,282.6 L245.2,283.9 L245.2,285.3 L245.2,286.7 L245.2,288.1 L245.2,289.5 L245.2,290.8 L245.3,292.2 L245.3,293.6 L245.3,295.0 L245.3,296.3 L245.3,297.7 L245.3,299.1 L245.3,300.4 L245.3,301.8 L245.4,303.2 L245.4,304.5 L245.4,305.9 L245.4,307.3 L245.4,308.6 L245.4,310.0 L245.4,311.3 L245.4,312.7 L245.5,314.0 L245.5,315.4 L245.5,316.7 L245.5,318.1 L245.5,319.4 L245.5,320.8 L245.5,322.1 L245.5,323.5 L245.6,324.8 L245.6,326.1 L245.6,327.5 L245.6,328.8 L245.6,330.1 L245.6,331.5 L245.6,332.8 L245.6,334.1 L245.6,335.5 L245.7,336.8 L245.7,338.1 L245.7,339.4 L245.7,340.7 L245.7,342.0 L245.7,343.3 L245.7,344.6 L245.7,345.9 L245.7,347.2 L245.8,348.5 L245.8,349.8 L245.8,351.1 L245.8,352.4 L245.8,353.7 L245.8,355.0 L245.8,356.3 L245.8,357.6 L245.8,358.8 L245.8,360.1 L245.9,361.4 L245.9,362.6 L245.9,363.9 L245.9,365.2 L245.9,366.4 L245.9,367.7 L245.9,368.9 L245.9,370.2 L245.9,371.4 L245.9,372.6 L246,373.9 L246,375.1 L246,376.3 L246,377.6 L246,378.8 L246,380.0 L246,381.2 L246,382.4 L246,383.6 L246,384.8 L246,386.0 L246.1,387.1 L246.1,388.3 L246.1,389.5 L246.1,390.7 L246.1,391.9 L246.1,393.1 L246.1,394.3 L246.1,395.5 L246.1,396.7 L246.1,397.9 L246.1,399.1 L246.1,400.3 L246.1,401.5 L246.2,402.7 L246.2,403.9 L246.2,405.1 L246.2,406.3 L246.2,407.5 L246.2,408.7 L246.2,409.9 L246.2,411.1 L246.2,412.3 L246.2,413.5 L246.2,414.8 L246.2,416.0 L246.2,417.2 L246.3,418.4 L246.3,419.6 L246.3,420.8 L246.3,422.0 L246.3,423.2 L246.3,424.4 L246.3,425.6 L246.3,426.8 L246.3,428.1 L246.3,429.3 L246.3,430.5 L246.3,431.7 L246.3,432.9 L246.3,434.1 L246.4,435.3 L246.4,436.6 L246.4,437.8 L246.4,439.0 L246.4,440.2 L246.4,441.4 L246.4,442.6 L246.4,443.9 L246.4,445.1 L246.4,446.3 L246.4,447.5 L246.4,448.7 L246.4,450.0 L246.4,451.2 L246.4,452.4 L246.5,453.6 L246.5,454.8 L246.5,456.1 L246.5,457.3 L246.5,458.5 L246.5,459.7 L246.5,461.0 L246.5,462.2 L246.5,463.4 L246.5,464.6 L246.5,465.8 L246.5,467.1 L246.5,468.3 L246.5,469.5 L246.5,470.7 L246.5,472.0 L246.5,473.2 L246.6,474.4 L246.6,475.6 L246.6,476.9 L246.6,478.1 L246.6,479.3 L246.6,480.5 L246.6,481.8 L246.6,483.0 L246.6,484.2 L246.6,485.5 L246.6,486.7 L246.6,487.9 L246.6,489.1 L246.6,490.4 L246.6,491.6 L246.6,492.8 L246.6,494.1 L246.6,495.3 L246.7,496.5 L246.7,497.7 L246.7,499.0 L246.7,500.2 L246.7,501.4 L246.7,502.7 L246.7,503.9 L246.7,505.1 L246.7,506.3 L246.7,507.6 L246.7,508.8 L246.7,510.0 L246.7,511.3 L246.7,512.5 L246.7,513.7 L246.7,514.9 L246.7,516.2 L246.7,517.4 L246.8,518.6 L246.8,519.9 L246.8,521.1 L246.8,522.3 L246.8,523.6 L246.8,524.8 L246.8,526.0 L246.8,527.2 L246.8,528.5 L246.8,529.7 L246.8,530.9 L246.8,532.2 L246.8,533.4 L246.8,534.6 L246.8,535.8 L246.8,537.1 L246.8,538.3 L246.8,539.5 L246.8,540.8 L246.8,542.0 L246.9,543.2 L246.9,544.4 L246.9,545.7 L246.9,546.9 L246.9,548.1 L246.9,549.4 L246.9,550.6 L246.9,551.8 L246.9,553.0 L246.9,554.3 L246.9,555.5 L246.9,556.7 L246.9,557.9 L246.9,559.2 L246.9,560.4 L246.9,561.6 L246.9,562.8 L246.9,564.1 L246.9,565.3 L246.9,566.5 L247,567.7 L247,569.0 L247,570.2 L247,571.4 L247,572.6 L247,573.8 L247,575.1 L247,576.3 L247,577.5 L247,578.7 L247,580.0 L247,581.2 L247,582.4 L247,583.6 L247,584.8 L247,586.1 L247,587.3 L247,588.5 L247,589.7 L247,590.9 L247.1,592.1 L247.1,593.4 L247.1,594.6 L247.1,595.8 L247.1,597.0 L247.1,598.2 L247.1,599.4 L247.1,600.6 L247.1,601.9 L247.1,603.1 L247.1,604.3 L247.1,605.5 L247.1,606.7 L247.1,607.9 L247.1,609.1 L247.1,610.3 L247.1,611.6 L247.1,612.8 L247.1,614.0 L247.1,615.2 L247.2,616.4 L247.2,617.6 L247.2,618.8 L247.2,620.0 L247.2,621.2 L247.2,622.4 L247.2,623.6 L247.2,624.8 L247.2,626.0 L247.2,627.2 L247.2,628.4 L247.2,629.6 L247.2,630.8 L247.2,632.0 L247.2,633.2 L247.2,634.4 L247.2,635.6 L247.2,636.8 L247.3,638.0 L247.3,639.2 L247.3,640.4 L247.3,641.6 L247.3,642.8 L247.3,644.0 L247.3,645.2 L247.3,646.4 L247.3,647.6 L247.3,648.8 L247.3,650.0 L247.3,651.2 L247.3,652.3 L247.3,653.5 L247.3,654.7 L247.3,655.9 L247.3,657.1 L247.4,658.3 L247.4,659.5 L247.4,660.6 L247.4,661.8 L247.4,663.0 L247.4,664.2 L247.4,665.4 L247.4,666.5 L247.4,667.7 L247.4,668.9 L247.4,670.1 L247.4,671.3 L247.4,672.4 L247.4,673.6 L247.4,674.8 L247.4,676.0 L247.5,677.1 L247.5,678.3 L247.5,679.5 L247.5,680.6 L247.5,681.8 L247.5,683.0 L247.5,684.1 L247.5,685.3 L247.5,686.5 L247.5,687.6 L247.5,688.8 L247.5,690.0 L247.5,691.1 L247.5,692.3 L247.6,693.4 L247.6,694.6 L247.6,695.8 L247.6,696.9 L247.6,698.1 L247.6,699.2 L247.6,700.4 L247.6,701.5 L247.6,702.7 L247.6,703.8 L247.6,705.0 L247.6,706.1 L247.6,707.3 L247.6,708.4 L247.7,709.6 L247.7,710.7 L247.7,711.9 L247.7,713.0 L247.7,714.1 L247.7,715.3 L247.7,716.4 L247.7,717.6 L247.7,718.7 L247.7,719.8 L247.7,721.0 L247.7,722.1 L247.7,723.2 L247.8,724.4 L247.8,725.5 L247.8,726.6 L247.8,727.7 L247.8,728.9 L247.8,730.0 L247.8,731.3 L247.8,732.6 L247.8,733.8 L247.8,735.1 L247.8,736.4 L247.9,737.6 L247.9,738.9 L247.9,740.2 L247.9,741.4 L247.9,742.7 L247.9,743.9 L247.9,745.2 L247.9,746.4 L247.9,747.7 L247.9,748.9 L248,750.2 L248,751.4 L248,752.7 L248,753.9 L248,755.2 L248,756.4 L248,757.6 L248,758.9 L248,760.1 L248,761.3 L248.1,762.6 L248.1,763.8 L248.1,765.0 L248.1,766.3 L248.1,767.5 L248.1,768.7 L248.1,769.9 L248.1,771.1 L248.1,772.4 L248.1,773.6 L248.2,774.8 L248.2,776.0 L248.2,777.2 L248.2,778.4 L248.2,779.6 L248.2,780.9 L248.2,782.1 L248.2,783.3 L248.2,784.5 L248.3,785.7 L248.3,786.9 L248.3,788.1 L248.3,789.3 L248.3,790.5 L248.3,791.7 L248.3,792.9 L248.3,794.1 L248.3,795.3 L248.3,796.5 L248.4,797.7 L248.4,798.8 L248.4,800.0 L248.4,801.2 L248.4,802.4 L248.4,803.6 L248.4,804.8 L248.4,806.0 L248.4,807.2 L248.5,808.3 L248.5,809.5 L248.5,810.7 L248.5,811.9 L248.5,813.1 L248.5,814.2 L248.5,815.4 L248.5,816.6 L248.5,817.8 L248.6,818.9 L248.6,820.1 L248.6,821.3 L248.6,822.5 L248.6,823.6 L248.6,824.8 L248.6,826.0 L248.6,827.2 L248.6,828.3 L248.7,829.5 L248.7,830.7 L248.7,831.8 L248.7,833.0 L248.7,834.2 L248.7,835.3 L248.7,836.5 L248.7,837.7 L248.7,838.8 L248.8,840.0 L248.8,841.2 L248.8,842.3 L248.8,843.5 L248.8,844.7 L248.8,845.8 L248.8,847.0 L248.8,848.2 L248.9,849.3 L248.9,850.5 L248.9,851.6 L248.9,852.8 L248.9,854.0 L248.9,855.1 L248.9,856.3 L248.9,857.5 L248.9,858.6 L249,859.8 L249,860.9 L249,862.1 L249,863.3 L249,864.4 L249,865.6 L249,866.7 L249,867.9 L249.1,869.1 L249.1,870.2 L249.1,871.4 L249.1,872.5 L249.1,873.7 L249.1,874.9 L249.1,876.0 L249.1,877.2 L249.2,878.4 L249.2,879.5 L249.2,880.7 L249.2,881.8 L249.2,883.0 L249.2,884.2 L249.2,885.3 L249.2,886.5 L249.2,887.7 L249.3,888.8 L249.3,890.0 L249.3,891.2 L249.3,892.3 L249.3,893.5 L249.3,894.7 L249.3,895.8 L249.3,897.0 L249.4,898.2 L249.4,899.3 L249.4,900.5 L249.4,901.7 L249.4,902.8 L249.4,904.0 L249.4,905.2 L249.4,906.4 L249.5,907.5 L249.5,908.7 L249.5,909.9 L249.5,911.1 L249.5,912.2 L249.5,913.4 L249.5,914.6 L249.6,915.8 L249.6,916.9 L249.6,918.1 L249.6,919.3 L249.6,920.5 L249.6,921.7 L249.6,922.8 L249.6,924.0 L249.7,925.2 L249.7,926.4 L249.7,927.6 L249.7,928.8 L249.7,930.0 L249.7,931.2 L249.7,932.3 L249.7,933.5 L249.8,934.7 L249.8,935.9 L249.8,937.1 L249.8,938.3 L249.8,939.5 L249.8,940.7 L249.8,941.9 L249.9,943.1 L249.9,944.3 L249.9,945.5 L249.9,946.7 L249.9,947.9 L249.9,949.1 L249.9,950.4 L249.9,951.6 L250,952.8 L250,954.0 L250,955.2 L250,956.4 L250,957.6 L250,958.9 L250,960.1 L250.1,961.3 L250.1,962.5 L250.1,963.7 L250.1,965.0 L250.1,966.2 L250.1,967.4 L250.1,968.7 L250.2,969.9 L250.2,971.1 L250.2,972.4 L250.2,973.6 L250.2,974.8 L250.2,976.1 L250.2,977.3 L250.3,978.6 L250.3,979.8 L250.3,981.1 L250.3,982.3 L250.3,983.6 L250.3,984.8 L250.3,986.1 L250.4,987.3 L250.4,988.6 L250.4,989.8 L250.4,991.1 L250.4,992.4 L250.4,993.6 L250.4,994.9 L250.5,996.2 L250.5,997.4 L250.5,998.7 L250.5,1000.0 L250.5,1001.1 L250.5,1002.3 L250.5,1003.4 L250.6,1004.5 L250.6,1005.7 L250.6,1006.8 L250.6,1007.9 L250.6,1009.1 L250.6,1010.2 L250.6,1011.4 L250.6,1012.5 L250.7,1013.7 L250.7,1014.8 L250.7,1016.0 L250.7,1017.2 L250.7,1018.3 L250.7,1019.5 L250.7,1020.6 L250.7,1021.8 L250.8,1023.0 L250.8,1024.2 L250.8,1025.3 L250.8,1026.5 L250.8,1027.7 L250.8,1028.9 L250.8,1030.1 L250.9,1031.2 L250.9,1032.4 L250.9,1033.6 L250.9,1034.8 L250.9,1036.0 L250.9,1037.2 L250.9,1038.4 L251,1039.6 L251,1040.8 L251,1042.0 L251,1043.2 L251,1044.4 L251,1045.6 L251,1046.8 L251.1,1048.1 L251.1,1049.3 L251.1,1050.5 L251.1,1051.7 L251.1,1052.9 L251.1,1054.1 L251.1,1055.4 L251.2,1056.6 L251.2,1057.8 L251.2,1059.0 L251.2,1060.3 L251.2,1061.5 L251.2,1062.7 L251.2,1064.0 L251.3,1065.2 L251.3,1066.4 L251.3,1067.7 L251.3,1068.9 L251.3,1070.2 L251.3,1071.4 L251.3,1072.6 L251.4,1073.9 L251.4,1075.1 L251.4,1076.4 L251.4,1077.6 L251.4,1078.9 L251.4,1080.1 L251.4,1081.4 L251.5,1082.6 L251.5,1083.9 L251.5,1085.1 L251.5,1086.4 L251.5,1087.7 L251.5,1088.9 L251.5,1090.2 L251.6,1091.4 L251.6,1092.7 L251.6,1094.0 L251.6,1095.2 L251.6,1096.5 L251.6,1097.7 L251.6,1099.0 L251.7,1100.3 L251.7,1101.5 L251.7,1102.8 L251.7,1104.1 L251.7,1105.4 L251.7,1106.6 L251.8,1107.9 L251.8,1109.2 L251.8,1110.4 L251.8,1111.7 L251.8,1113.0 L251.8,1114.3 L251.8,1115.5 L251.9,1116.8 L251.9,1118.1 L251.9,1119.4 L251.9,1120.6 L251.9,1121.9 L251.9,1123.2 L252,1124.5 L252,1125.8 L252,1127.0 L252,1128.3 L252,1129.6 L252,1130.9 L252,1132.2 L252.1,1133.4 L252.1,1134.7 L252.1,1136.0 L252.1,1137.3 L252.1,1138.6 L252.1,1139.9 L252.2,1141.1 L252.2,1142.4 L252.2,1143.7 L252.2,1145.0 L252.2,1146.3 L252.2,1147.5 L252.2,1148.8 L252.3,1150.1 L252.3,1151.4 L252.3,1152.7 L252.3,1154.0 L252.3,1155.2 L252.3,1156.5 L252.4,1157.8 L252.4,1159.1 L252.4,1160.4 L252.4,1161.7 L252.4,1162.9 L252.4,1164.2 L252.5,1165.5 L252.5,1166.8 L252.5,1168.1 L252.5,1169.4 L252.5,1170.6 L252.5,1171.9 L252.5,1173.2 L252.6,1174.5 L252.6,1175.8 L252.6,1177.0 L252.6,1178.3 L252.6,1179.6 L252.6,1180.9 L252.7,1182.1 L252.7,1183.4 L252.7,1184.7 L252.7,1186.0 L252.7,1187.3 L252.7,1188.5 L252.8,1189.8 L252.8,1191.1 L252.8,1192.3 L252.8,1193.6 L252.8,1194.9 L252.8,1196.2 L252.9,1197.4 L252.9,1198.7 L252.9,1200.0 L252.9,1201.2 L252.9,1202.5 L252.9,1203.8 L252.9,1205.0 L253,1206.3 L253,1207.6 L253,1208.8 L253,1210.1 L253,1211.3 L253,1212.6 L253.1,1213.9 L253.1,1215.1 L253.1,1216.4 L253.1,1217.6 L253.1,1218.9 L253.1,1220.1 L253.2,1221.4 L253.2,1222.6 L253.2,1223.9 L253.2,1225.1 L253.2,1226.4 L253.2,1227.6 L253.3,1228.9 L253.3,1230.1 L253.3,1231.3 L253.3,1232.6 L253.3,1233.8 L253.3,1235.1 L253.4,1236.3 L253.4,1237.5 L253.4,1238.8 L253.4,1240.0 L253.4,1241.2 L253.4,1242.4 L253.5,1243.7 L253.5,1244.9 L253.5,1246.1 L253.5,1247.3 L253.5,1248.6 L253.5,1249.8 L253.5,1251.0 L253.6,1252.2 L253.6,1253.4 L253.6,1254.6 L253.6,1255.8 L253.6,1257.1 L253.6,1258.3 L253.7,1259.5 L253.7,1260.7 L253.7,1261.9 L253.7,1263.1 L253.7,1264.3 L253.7,1265.5 L253.8,1266.6 L253.8,1267.8 L253.8,1269.0 L253.8,1270.2 L253.8,1271.4 L253.8,1272.6 L253.9,1273.8 L253.9,1274.9 L253.9,1276.1 L253.9,1277.3 L253.9,1278.5 L253.9,1279.6 L254,1280.8 L254,1282.0 L254,1283.1 L254,1284.3 L254,1285.5 L254,1286.6 L254.1,1287.8 L254.1,1288.9 L254.1,1290.1 L254.1,1291.2 L254.1,1292.4 L254.1,1293.5 L254.2,1294.6 L254.2,1295.8 L254.2,1296.9 L254.2,1298.0 L254.2,1299.2 L254.2,1300.3 L254.3,1301.4 L254.3,1302.5 L254.3,1303.7 L254.3,1304.8 L254.3,1305.9 L254.3,1307.0 L254.4,1308.1 L254.4,1309.2 L254.4,1310.3 L254.4,1311.4 L254.4,1312.5 L254.4,1313.6 L254.4,1314.7 L254.5,1315.8 L254.5,1316.9 L254.5,1318.0 L254.5,1319.1 L254.5,1320.1 L254.5,1321.2 L254.6,1322.3 L254.6,1323.3 L254.6,1324.4 L254.6,1325.5 L254.6,1326.5 L254.6,1327.6 L254.7,1328.6 L254.7,1329.7 L254.7,1330.7 L254.7,1331.8 L254.7,1332.8 L254.7,1333.9 L254.8,1334.9 L254.8,1335.9 L254.8,1337.0 L254.8,1338.0 L254.8,1339.0 L254.8,1340.0 L254.9,1341.0 L254.9,1342.0 L254.9,1343.0 L254.9,1344.1 L254.9,1345.1 L254.9,1346.0 L255,1347.0 L255,1348.0 L255,1349.0 L255,1350.0 L255,1351.4 L255,1352.8 L255.1,1354.2 L255.1,1355.6 L255.1,1357.0 L255.1,1358.4 L255.2,1359.8 L255.2,1361.2 L255.2,1362.6 L255.2,1363.9 L255.3,1365.3 L255.3,1366.6 L255.3,1368.0 L255.3,1369.3 L255.4,1370.6 L255.4,1372.0 L255.4,1373.3 L255.4,1374.6 L255.4,1375.9 L255.5,1377.2 L255.5,1378.5 L255.5,1379.8 L255.5,1381.1 L255.6,1382.4 L255.6,1383.7 L255.6,1385.0 L255.6,1386.2 L255.7,1387.5 L255.7,1388.7 L255.7,1390.0 L255.7,1391.3 L255.8,1392.5 L255.8,1393.7 L255.8,1395.0 L255.8,1396.2 L255.9,1397.5 L255.9,1398.7 L255.9,1399.9 L255.9,1401.1 L255.9,1402.3 L256,1403.5 L256,1404.8 L256,1406.0 L256,1407.2 L256.1,1408.4 L256.1,1409.6 L256.1,1410.7 L256.1,1411.9 L256.2,1413.1 L256.2,1414.3 L256.2,1415.5 L256.2,1416.7 L256.3,1417.8 L256.3,1419.0 L256.3,1420.2 L256.3,1421.3 L256.4,1422.5 L256.4,1423.7 L256.4,1424.8 L256.4,1426.0 L256.5,1427.1 L256.5,1428.3 L256.5,1429.4 L256.5,1430.6 L256.6,1431.7 L256.6,1432.9 L256.6,1434.0 L256.6,1435.2 L256.6,1436.3 L256.7,1437.4 L256.7,1438.6 L256.7,1439.7 L256.7,1440.8 L256.8,1442.0 L256.8,1443.1 L256.8,1444.2 L256.8,1445.4 L256.9,1446.5 L256.9,1447.6 L256.9,1448.8 L256.9,1449.9 L257,1451.0 L257,1452.1 L257,1453.3 L257,1454.4 L257.1,1455.5 L257.1,1456.7 L257.1,1457.8 L257.1,1458.9 L257.2,1460.0 L257.2,1461.2 L257.2,1462.3 L257.2,1463.4 L257.3,1464.6 L257.3,1465.7 L257.3,1466.8 L257.3,1468.0 L257.4,1469.1 L257.4,1470.2 L257.4,1471.4 L257.4,1472.5 L257.4,1473.6 L257.5,1474.8 L257.5,1475.9 L257.5,1477.0 L257.5,1478.2 L257.6,1479.3 L257.6,1480.5 L257.6,1481.6 L257.6,1482.8 L257.7,1483.9 L257.7,1485.1 L257.7,1486.2 L257.7,1487.4 L257.8,1488.5 L257.8,1489.7 L257.8,1490.9 L257.8,1492.0 L257.9,1493.2 L257.9,1494.4 L257.9,1495.6 L257.9,1496.7 L257.9,1497.9 L258,1499.1 L258,1500.3 L258,1501.5 L258,1502.7 L258.1,1503.9 L258.1,1505.1 L258.1,1506.3 L258.1,1507.5 L258.2,1508.7 L258.2,1509.9 L258.2,1511.1 L258.2,1512.3 L258.3,1513.5 L258.3,1514.8 L258.3,1516.0 L258.3,1517.2 L258.3,1518.3 L258.4,1519.5 L258.4,1520.7 L258.4,1521.9 L258.4,1523.1 L258.5,1524.3 L258.5,1525.5 L258.5,1526.7 L258.5,1527.9 L258.5,1529.1 L258.6,1530.3 L258.6,1531.5 L258.6,1532.7 L258.6,1533.9 L258.6,1535.1 L258.7,1536.3 L258.7,1537.6 L258.7,1538.8 L258.7,1540.0 L258.7,1541.2 L258.8,1542.5 L258.8,1543.7 L258.8,1544.9 L258.8,1546.1 L258.9,1547.4 L258.9,1548.6 L258.9,1549.9 L258.9,1551.1 L258.9,1552.3 L259,1553.6 L259,1554.8 L259,1556.1 L259,1557.3 L259,1558.6 L259.1,1559.8 L259.1,1561.1 L259.1,1562.3 L259.1,1563.6 L259.1,1564.8 L259.2,1566.1 L259.2,1567.3 L259.2,1568.6 L259.2,1569.9 L259.2,1571.1 L259.3,1572.4 L259.3,1573.6 L259.3,1574.9 L259.3,1576.2 L259.3,1577.4 L259.4,1578.7 L259.4,1580.0 L259.4,1581.2 L259.4,1582.5 L259.4,1583.8 L259.5,1585.0 L259.5,1586.3 L259.5,1587.5 L259.5,1588.8 L259.5,1590.1 L259.6,1591.3 L259.6,1592.6 L259.6,1593.9 L259.6,1595.1 L259.6,1596.4 L259.7,1597.7 L259.7,1598.9 L259.7,1600.2 L259.7,1601.4 L259.7,1602.7 L259.8,1604.0 L259.8,1605.2 L259.8,1606.5 L259.8,1607.7 L259.8,1609.0 L259.9,1610.3 L259.9,1611.5 L259.9,1612.8 L259.9,1614.0 L259.9,1615.3 L260,1616.5 L260,1617.8 L260,1619.0 L260,1620.3 L260,1621.5 L260.1,1622.8 L260.1,1624.0 L260.1,1625.3 L260.1,1626.5 L260.1,1627.7 L260.2,1629.0 L260.2,1630.2 L260.2,1631.4 L260.2,1632.7 L260.2,1633.9 L260.3,1635.1 L260.3,1636.3 L260.3,1637.6 L260.3,1638.8 L260.4,1640.0 L260.4,1641.2 L260.4,1642.4 L260.4,1643.7 L260.4,1644.9 L260.5,1646.1 L260.5,1647.3 L260.5,1648.5 L260.5,1649.7 L260.5,1650.9 L260.6,1652.1 L260.6,1653.3 L260.6,1654.4 L260.6,1655.6 L260.7,1656.8 L260.7,1658.0 L260.7,1659.2 L260.7,1660.3 L260.7,1661.5 L260.8,1662.7 L260.8,1663.8 L260.8,1665.0 L260.8,1666.2 L260.9,1667.3 L260.9,1668.5 L260.9,1669.6 L260.9,1670.7 L261,1671.9 L261,1673.0 L261,1674.1 L261,1675.3 L261,1676.4 L261.1,1677.5 L261.1,1678.6 L261.1,1679.7 L261.1,1680.8 L261.2,1681.9 L261.2,1683.0 L261.2,1684.1 L261.2,1685.2 L261.3,1686.3 L261.3,1687.4 L261.3,1688.5 L261.3,1689.5 L261.4,1690.6 L261.4,1691.7 L261.4,1692.7 L261.4,1693.8 L261.5,1694.8 L261.5,1695.9 L261.5,1696.9 L261.5,1697.9 L261.6,1699.0 L261.6,1700.0 L261.6,1701.4 L261.7,1702.8 L261.7,1704.1 L261.7,1705.5 L261.8,1706.8 L261.8,1708.2 L261.9,1709.5 L261.9,1710.8 L261.9,1712.1 L262,1713.5 L262,1714.8 L262,1716.1 L262.1,1717.4 L262.1,1718.6 L262.2,1719.9 L262.2,1721.2 L262.2,1722.4 L262.3,1723.7 L262.3,1725.0 L262.4,1726.2 L262.4,1727.4 L262.4,1728.7 L262.5,1729.9 L262.5,1731.1 L262.6,1732.4 L262.6,1733.6 L262.7,1734.8 L262.7,1736.0 L262.7,1737.2 L262.8,1738.4 L262.8,1739.6 L262.9,1740.8 L262.9,1742.0 L262.9,1743.1 L263,1744.3 L263,1745.5 L263.1,1746.7 L263.1,1747.8 L263.2,1749.0 L263.2,1750.2 L263.2,1751.3 L263.3,1752.5 L263.3,1753.6 L263.4,1754.8 L263.4,1756.0 L263.5,1757.1 L263.5,1758.3 L263.5,1759.4 L263.6,1760.6 L263.6,1761.7 L263.7,1762.8 L263.7,1764.0 L263.8,1765.1 L263.8,1766.3 L263.8,1767.4 L263.9,1768.6 L263.9,1769.7 L264,1770.9 L264,1772.0 L264,1773.1 L264.1,1774.3 L264.1,1775.4 L264.2,1776.6 L264.2,1777.7 L264.3,1778.9 L264.3,1780.0 L264.3,1781.2 L264.4,1782.3 L264.4,1783.5 L264.5,1784.7 L264.5,1785.8 L264.6,1787.0 L264.6,1788.2 L264.6,1789.3 L264.7,1790.5 L264.7,1791.7 L264.8,1792.9 L264.8,1794.0 L264.8,1795.2 L264.9,1796.4 L264.9,1797.6 L265,1798.8 L265,1800.0 L265,1801.2 L265.1,1802.4 L265.1,1803.6 L265.2,1804.8 L265.2,1806.1 L265.2,1807.3 L265.3,1808.5 L265.3,1809.7 L265.4,1811.0 L265.4,1812.2 L265.4,1813.5 L265.5,1814.7 L265.5,1816.0 L265.6,1817.2 L265.6,1818.5 L265.7,1819.7 L265.7,1821.0 L265.7,1822.2 L265.8,1823.5 L265.8,1824.8 L265.9,1826.0 L265.9,1827.3 L265.9,1828.5 L266,1829.8 L266,1831.1 L266.1,1832.3 L266.1,1833.6 L266.2,1834.9 L266.2,1836.1 L266.2,1837.4 L266.3,1838.7 L266.3,1839.9 L266.4,1841.2 L266.4,1842.5 L266.4,1843.7 L266.5,1845.0 L266.5,1846.3 L266.6,1847.5 L266.6,1848.8 L266.7,1850.0 L266.7,1851.3 L266.7,1852.5 L266.8,1853.8 L266.8,1855.0 L266.9,1856.3 L266.9,1857.5 L266.9,1858.7 L267,1860.0 L267,1861.2 L267.1,1862.4 L267.1,1863.7 L267.1,1864.9 L267.2,1866.1 L267.2,1867.3 L267.2,1868.5 L267.3,1869.7 L267.3,1870.9 L267.4,1872.1 L267.4,1873.3 L267.4,1874.4 L267.5,1875.6 L267.5,1876.8 L267.5,1877.9 L267.6,1879.1 L267.6,1880.2 L267.7,1881.4 L267.7,1882.5 L267.7,1883.6 L267.8,1884.8 L267.8,1885.9 L267.8,1887.0 L267.9,1888.1 L267.9,1889.2 L267.9,1890.2 L268,1891.3 L268,1892.4 L268,1893.4 L268.1,1894.5 L268.1,1895.5 L268.1,1896.6 L268.1,1897.6 L268.2,1898.6 L268.2,1899.6 L268.2,1901.0 L268.3,1902.4 L268.3,1903.7 L268.4,1905.1 L268.4,1906.4 L268.4,1907.7 L268.5,1909.0 L268.5,1910.3 L268.5,1911.5 L268.5,1912.8 L268.6,1914.0 L268.6,1915.3 L268.6,1916.5 L268.7,1917.7 L268.7,1918.9 L268.7,1920.1 L268.7,1921.2 L268.8,1922.4 L268.8,1923.6 L268.8,1924.7 L268.8,1925.9 L268.9,1927.0 L268.9,1928.2 L268.9,1929.3 L269,1930.5 L269,1931.6 L269,1932.7 L269,1933.9 L269.1,1935.0 L269.1,1936.1 L269.1,1937.3 L269.2,1938.4 L269.2,1939.5 L269.2,1940.7 L269.2,1941.8 L269.3,1943.0 L269.3,1944.1 L269.3,1945.3 L269.4,1946.5 L269.4,1947.6 L269.5,1948.8 L269.5,1950.0 L269.5,1951.2 L269.6,1952.4 L269.6,1953.6 L269.7,1954.8 L269.7,1956.0 L269.8,1957.3 L269.8,1958.5 L269.9,1959.7 L269.9,1960.9 L270,1962.1 L270,1963.3 L270.1,1964.5 L270.1,1965.7 L270.2,1966.9 L270.2,1968.1 L270.3,1969.3 L270.3,1970.5 L270.4,1971.7 L270.4,1972.9 L270.5,1974.1 L270.6,1975.3 L270.6,1976.5 L270.7,1977.7 L270.7,1978.9 L270.8,1980.1 L270.8,1981.3 L270.9,1982.5 L270.9,1983.7 L271,1984.9 L271.1,1986.1 L271.1,1987.3 L271.2,1988.5 L271.2,1989.7 L271.3,1990.9 L271.3,1992.1 L271.4,1993.4 L271.4,1994.6 L271.5,1995.8 L271.5,1997.0 L271.6,1998.2 L271.6,1999.4 L271.6,2000.6 L271.7,2001.8 L271.7,2003.0 L271.8,2004.2 L271.8,2005.5 L271.9,2006.7 L271.9,2007.9 L271.9,2009.2 L272,2010.4 L272,2011.6 L272,2012.9 L272.1,2014.1 L272.1,2015.4 L272.1,2016.6 L272.2,2017.9 L272.2,2019.1 L272.3,2020.4 L272.3,2021.6 L272.3,2022.9 L272.4,2024.1 L272.4,2025.3 L272.4,2026.6 L272.5,2027.8 L272.5,2029.0 L272.5,2030.3 L272.6,2031.5 L272.6,2032.7 L272.6,2033.9 L272.7,2035.1 L272.7,2036.3 L272.7,2037.5 L272.8,2038.7 L272.8,2039.9 L272.9,2041.0 L272.9,2042.2 L272.9,2043.3 L273,2044.5 L273,2045.6 L273.1,2046.7 L273.1,2047.8 L273.2,2048.9 L273.2,2050.0 L273.3,2051.3 L273.3,2052.6 L273.4,2053.9 L273.4,2055.1 L273.5,2056.3 L273.5,2057.5 L273.6,2058.7 L273.7,2059.8 L273.7,2061.0 L273.8,2062.1 L273.8,2063.2 L273.9,2064.3 L274,2065.4 L274,2066.6 L274.1,2067.7 L274.2,2068.8 L274.2,2070.0 L274.3,2071.2 L274.4,2072.3 L274.4,2073.6 L274.5,2074.8 L274.6,2076.1 L274.7,2077.4 L274.8,2078.7 L274.8,2080.1 L274.9,2081.5 L275,2083.0 L275.1,2083.9 L275.1,2084.9 L275.2,2085.9 L275.2,2086.9 L275.3,2087.9 L275.3,2088.9 L275.4,2089.9 L275.5,2091.0 L275.5,2092.0 L275.6,2093.1 L275.6,2094.2 L275.7,2095.3 L275.8,2096.4 L275.8,2097.6 L275.9,2098.7 L276,2099.9 L276,2101.0 L276.1,2102.2 L276.2,2103.4 L276.2,2104.6 L276.3,2105.8 L276.4,2107.0 L276.4,2108.2 L276.5,2109.4 L276.6,2110.7 L276.7,2111.9 L276.7,2113.2 L276.8,2114.4 L276.9,2115.7 L277,2117.0 L277,2118.2 L277.1,2119.5 L277.2,2120.8 L277.3,2122.1 L277.3,2123.4 L277.4,2124.6 L277.5,2125.9 L277.6,2127.2 L277.6,2128.5 L277.7,2129.8 L277.8,2131.1 L277.9,2132.4 L278,2133.7 L278,2135.0 L278.1,2136.3 L278.2,2137.6 L278.3,2138.9 L278.3,2140.2 L278.4,2141.5 L278.5,2142.8 L278.6,2144.0 L278.7,2145.3 L278.7,2146.6 L278.8,2147.9 L278.9,2149.1 L279,2150.4 L279.1,2151.6 L279.1,2152.9 L279.2,2154.1 L279.3,2155.3 L279.4,2156.6 L279.5,2157.8 L279.5,2159.0 L279.6,2160.2 L279.7,2161.4 L279.8,2162.5 L279.8,2163.7 L279.9,2164.9 L280,2166.0 L280.1,2167.3 L280.2,2168.6 L280.3,2169.8 L280.3,2171.1 L280.4,2172.4 L280.5,2173.7 L280.6,2174.9 L280.7,2176.2 L280.8,2177.4 L280.9,2178.7 L280.9,2180.0 L281,2181.2 L281.1,2182.5 L281.2,2183.7 L281.3,2185.0 L281.4,2186.2 L281.4,2187.4 L281.5,2188.7 L281.6,2189.9 L281.7,2191.1 L281.8,2192.4 L281.9,2193.6 L281.9,2194.8 L282,2196.1 L282.1,2197.3 L282.2,2198.5 L282.3,2199.7 L282.4,2200.9 L282.5,2202.1 L282.6,2203.3 L282.6,2204.6 L282.7,2205.8 L282.8,2207.0 L282.9,2208.2 L283,2209.4 L283.1,2210.6 L283.2,2211.8 L283.3,2213.0 L283.4,2214.2 L283.5,2215.3 L283.6,2216.5 L283.7,2217.7 L283.8,2218.9 L283.9,2220.1 L284,2221.3 L284.1,2222.5 L284.2,2223.6 L284.3,2224.8 L284.4,2226.0 L284.5,2227.2 L284.6,2228.3 L284.7,2229.5 L284.8,2230.7 L284.9,2231.8 L285,2233.0 L285.1,2234.3 L285.2,2235.5 L285.4,2236.7 L285.5,2238.0 L285.6,2239.2 L285.7,2240.5 L285.8,2241.7 L286,2242.9 L286.1,2244.1 L286.2,2245.4 L286.3,2246.6 L286.5,2247.8 L286.6,2249.0 L286.7,2250.2 L286.9,2251.4 L287,2252.6 L287.1,2253.8 L287.3,2255.0 L287.4,2256.2 L287.5,2257.4 L287.7,2258.6 L287.8,2259.8 L287.9,2261.0 L288.1,2262.2 L288.2,2263.4 L288.3,2264.6 L288.5,2265.8 L288.6,2267.0 L288.8,2268.1 L288.9,2269.3 L289.1,2270.5 L289.2,2271.7 L289.3,2272.9 L289.5,2274.1 L289.6,2275.2 L289.8,2276.4 L289.9,2277.6 L290.1,2278.8 L290.2,2280.0 L290.4,2281.1 L290.5,2282.3 L290.7,2283.5 L290.9,2284.7 L291,2285.9 L291.2,2287.0 L291.3,2288.2 L291.5,2289.4 L291.7,2290.6 L291.8,2291.8 L292,2293.0 L292.2,2294.3 L292.3,2295.5 L292.5,2296.7 L292.7,2297.9 L292.8,2299.1 L293,2300.3 L293.2,2301.6 L293.4,2302.8 L293.5,2304.0 L293.7,2305.2 L293.9,2306.5 L294.1,2307.7 L294.2,2308.9 L294.4,2310.1 L294.6,2311.3 L294.8,2312.6 L295,2313.8 L295.1,2315.0 L295.3,2316.2 L295.5,2317.4 L295.7,2318.6 L295.9,2319.8 L296.1,2321.0 L296.3,2322.2 L296.5,2323.4 L296.7,2324.6 L296.9,2325.8 L297.1,2327.0 L297.2,2328.2 L297.5,2329.3 L297.7,2330.5 L297.9,2331.7 L298.1,2332.8 L298.3,2334.0 L298.5,2335.1 L298.7,2336.3 L298.9,2337.4 L299.1,2338.5 L299.3,2339.7 L299.6,2340.8 L299.8,2341.9 L300,2343.0 L300.3,2344.3 L300.5,2345.5 L300.8,2346.7 L301,2348.0 L301.3,2349.3 L301.5,2350.4 L301.8,2351.8 L302.1,2353.0 L302.3,2354.4 L302.6,2355.7 L302.9,2357.0 L303.1,2358.1 L303.4,2359.1 L303.7,2360.4 L303.9,2361.5 L304.2,2362.3 L304.5,2364.1 L304.8,2365.0 L305.1,2365.7 L305.4,2366.9 L305.7,2368.8 L306,2370.4 L306.3,2371.6 L306.6,2372.8 L306.9,2373.5 L307.2,2374.9 L307.5,2375.4 L307.9,2377.2 L308.2,2378.7 L308.5,2378.7 L308.9,2379.0 L309.3,2381.2 L309.6,2382.9 L310,2383.4 L310.5,2384.8 L310.9,2385.9 L311.4,2385.3 L311.9,2386.7 L312.5,2390.4 L313,2392.0 L313.5,2392.6 L314.1,2393.2 L314.6,2393.2 L315.2,2393.8 L315.8,2398.0 L316.3,2398.4 L316.9,2397.5 L317.5,2401.1 L318.1,2400.4 L318.6,2401.7 L319.2,2402.1 L319.8,2405.1 L320.3,2404.5 L320.9,2406.4 L321.4,2407.6 L322,2408.3 L322.5,2406.1 L323,2409.8 L323.6,2408.7 L324.2,2415.3 L324.7,2414.1 L325.3,2413.9 L325.9,2417.4 L326.4,2420.0 L327,2419.2 L327.5,2418.1 L328.1,2420.7 L328.6,2420.3 L329.2,2420.1 L329.7,2422.0 L330.2,2423.6 L330.8,2426.6 L331.3,2425.0 L331.9,2426.5 L332.4,2426.7 L333,2427.0 L333.6,2433.7 L334.3,2429.1 L335,2434.5 L335.7,2436.1 L336.3,2437.0 L337,2433.4 L337.7,2434.6 L338.3,2434.2 L338.9,2440.1 L339.5,2440.5 L340,2440.9 L340.4,2440.6 L340.7,2438.7 L341,2434.9 L341.2,2438.8 L341.4,2433.6 L341.6,2436.3 L341.8,2434.1 L342,2432.6 L342.2,2432.4 L342.4,2428.7 L342.6,2429.6 L342.8,2428.7 L343,2424.7 L343.2,2425.0 L343.5,2421.7 L343.8,2424.3 L344.2,2420.8 L344.6,2421.3 L345,2420.1 L345.5,2424.1 L346.1,2417.8 L346.7,2419.7 L347.3,2423.2 L347.9,2423.2 L348.6,2423.7 L349.3,2422.4 L350,2423.0 L350.8,2422.0 L351.6,2426.1 L352.3,2424.2 L353.1,2425.5 L354,2425.4 L354.8,2426.5 L355.6,2429.2 L356.5,2427.5 L357.1,2432.1 L357.8,2430.3 L358.5,2433.6 L359.2,2433.7 L360,2434.9 L360.7,2434.2 L361.5,2434.5 L362.2,2434.4 L363,2431.0 L363.8,2432.6 L364.6,2435.0 L365.5,2432.9 L366.3,2438.1 L367.1,2434.2 L368,2436.2 L368.8,2435.4 L369.6,2440.0 L370.5,2436.5 L371.3,2441.7 L372.1,2437.6 L373,2440.4 L373.8,2439.3 L374.6,2443.2 L375.4,2441.4 L376.2,2441.5 L377,2444.8 L377.8,2446.3 L378.5,2441.8 L379.3,2442.5 L380,2441.9 L380.8,2445.6 L381.7,2448.7 L382.5,2446.0 L383.3,2445.4 L384.1,2445.6 L384.9,2444.8 L385.7,2450.3 L386.5,2449.0 L387.3,2451.1 L388.1,2448.1 L388.8,2452.4 L389.6,2447.5 L390.4,2449.0 L391.1,2452.7 L391.9,2450.1 L392.6,2449.0 L393.4,2455.7 L394.1,2456.1 L394.9,2455.5 L395.6,2453.2 L396.4,2453.1 L397.1,2456.1 L397.8,2455.1 L398.5,2453.6 L399.2,2454.8 L399.9,2459.0 L400.6,2456.8 L401.3,2459.5 L402,2459.0 L402.6,2460.1 L403.3,2461.7 L404,2460.6 L404.7,2463.1 L405.4,2464.8 L406,2462.5 L406.7,2461.0 L407.4,2464.7 L408.1,2462.4 L408.8,2465.9 L409.5,2468.5 L410.2,2465.6 L410.9,2467.6 L411.6,2467.4 L412.3,2466.4 L413,2467.1 L413.8,2473.0 L414.5,2470.3 L415.3,2468.1 L416.1,2472.0 L416.9,2472.3 L417.7,2472.6 L418.5,2470.5 L419.3,2477.1 L420.1,2475.6 L420.9,2472.4 L421.7,2476.0 L422.5,2473.9 L423.3,2475.2 L424.1,2474.8 L424.9,2474.6 L425.7,2477.3 L426.5,2477.5 L427.3,2481.2 L428.1,2480.0 L428.9,2480.9 L429.7,2477.5 L430.5,2479.3 L431.3,2482.9 L432,2480.0 L432.8,2482.2 L433.5,2480.8 L434.3,2483.0 L435,2481.3 L435.7,2485.3 L436.5,2480.7 L437.2,2482.0 L438,2485.9 L438.7,2485.2 L439.5,2483.8 L440.3,2484.3 L441.1,2487.4 L441.9,2488.7 L442.7,2490.7 L443.6,2487.4 L444.5,2488.2 L445.4,2486.0 L446.3,2491.2 L447,2493.2 L447.7,2491.6 L448.5,2487.8 L449.2,2488.4 L450,2494.2 L450.7,2494.1 L451.5,2488.8 L452.3,2490.9 L453.1,2489.5 L453.9,2492.5 L454.8,2490.0 L455.6,2494.9 L456.5,2493.4 L457.3,2493.2 L458.2,2495.2 L459.1,2496.4 L459.9,2493.2 L460.8,2497.3 L461.7,2499.0 L462.6,2496.5 L463.5,2495.7 L464.4,2495.4 L465.3,2495.3 L466.2,2496.2 L467.1,2496.1 L468,2500.2 L468.9,2502.3 L469.8,2500.9 L470.7,2501.9 L471.6,2502.9 L472.5,2497.2 L473.4,2502.6 L474.3,2498.4 L475.2,2504.7 L476.1,2500.9 L477,2501.1 L477.9,2502.5 L478.7,2501.2 L479.6,2505.1 L480.5,2505.7 L481.3,2503.2 L482.2,2505.8 L483.1,2504.6 L484,2507.1 L484.8,2503.0 L485.7,2507.0 L486.6,2502.3 L487.5,2505.2 L488.4,2505.1 L489.2,2505.7 L490.1,2503.7 L491,2503.8 L491.9,2507.8 L492.8,2509.7 L493.6,2509.9 L494.5,2504.9 L495.4,2504.9 L496.3,2505.7 L497.2,2508.4 L498.1,2509.1 L498.9,2506.4 L499.8,2510.0 L500.7,2508.2 L501.6,2511.6 L502.5,2510.0 L503.3,2510.3 L504.2,2509.9 L505.1,2509.4 L506,2509.8 L506.9,2509.4 L507.7,2512.1 L508.6,2509.4 L509.5,2508.7 L510.4,2514.5 L511.3,2512.7 L512.1,2515.0 L513,2513.7 L513.9,2515.2 L514.7,2514.7 L515.6,2514.7 L516.5,2515.5 L517.4,2513.9 L518.2,2513.0 L519.1,2513.4 L520,2513.7 L520.8,2517.5 L521.7,2519.5 L522.6,2513.4 L523.4,2518.2 L524.3,2515.2 L525.2,2513.7 L526,2518.8 L526.9,2515.0 L527.7,2516.9 L528.6,2516.7 L529.5,2517.4 L530.3,2517.3 L531.2,2522.6 L532.1,2521.0 L532.9,2519.9 L533.8,2518.6 L534.7,2521.9 L535.5,2518.3 L536.4,2522.8 L537.3,2522.5 L538.1,2518.4 L539,2523.7 L539.9,2522.3 L540.7,2520.5 L541.6,2520.1 L542.5,2524.0 L543.4,2526.0 L544.2,2522.8 L545.1,2525.2 L546,2523.0 L546.9,2528.2 L547.8,2527.0 L548.7,2527.0 L549.6,2523.9 L550.5,2525.0 L551.4,2527.3 L552.3,2529.0 L553.2,2522.6 L554.1,2527.4 L555,2528.8 L555.9,2523.8 L556.8,2530.0 L557.7,2527.5 L558.6,2526.8 L559.5,2529.5 L560.4,2527.0 L561.3,2530.1 L562.2,2530.7 L563.1,2531.7 L564,2527.3 L564.9,2525.5 L565.8,2530.7 L566.7,2525.3 L567.6,2531.0 L568.5,2531.7 L569.4,2532.5 L570.3,2526.0 L571.3,2532.5 L572.2,2533.4 L573.1,2527.1 L574,2530.0 L574.9,2529.2 L575.8,2533.1 L576.7,2527.4 L577.6,2530.5 L578.5,2527.3 L579.4,2534.2 L580.3,2530.7 L581.2,2532.9 L582.1,2527.9 L583,2529.4 L584,2532.7 L584.9,2530.2 L585.8,2535.1 L586.7,2535.5 L587.7,2529.8 L588.6,2536.0 L589.6,2535.8 L590.5,2532.5 L591.4,2531.6 L592.4,2533.6 L593.3,2534.1 L594.2,2529.6 L595.2,2534.4 L596.1,2533.4 L597,2536.1 L597.9,2536.2 L598.9,2535.5 L599.8,2535.4 L600.7,2537.7 L601.6,2534.4 L602.5,2535.7 L603.4,2538.4 L604.3,2538.8 L605.2,2534.8 L606,2531.6 L606.9,2536.5 L607.8,2535.2 L608.6,2533.4 L609.5,2533.9 L610.3,2533.0 L611.1,2537.6 L611.9,2535.8 L612.7,2532.8 L613.7,2534.5 L614.7,2539.6 L615.7,2533.2 L616.6,2538.1 L617.6,2533.6 L618.5,2537.9 L619.4,2537.4 L620.2,2538.1 L621.1,2536.5 L622,2537.1 L622.9,2537.9 L623.7,2536.6 L624.6,2538.4 L625.5,2537.5 L626.3,2537.0 L627.2,2537.2 L628.1,2538.2 L629.1,2541.3 L630,2539.7 L631,2537.2 L632,2538.8 L633,2542.3 L633.8,2541.6 L634.6,2541.2 L635.4,2539.5 L636.3,2538.3 L637.1,2542.1 L638,2540.8 L638.8,2538.5 L639.7,2541.8 L640.6,2541.0 L641.5,2539.0 L642.3,2544.0 L643.2,2541.9 L644.2,2540.0 L645.1,2544.1 L646,2544.2 L646.9,2543.1 L647.8,2539.5 L648.8,2547.6 L649.7,2544.1 L650.6,2543.6 L651.6,2544.5 L652.5,2542.4 L653.4,2544.1 L654.4,2542.8 L655.3,2544.4 L656.3,2543.4 L657.2,2542.5 L658.2,2546.4 L659.1,2544.9 L660,2542.1 L661,2541.8 L661.9,2546.0 L662.8,2545.1 L663.8,2544.8 L664.7,2544.8 L665.6,2545.8 L666.5,2545.1 L667.4,2547.7 L668.3,2546.1 L669.2,2546.7 L670.1,2544.8 L671,2547.1 L671.9,2545.2 L672.8,2546.4 L673.7,2544.3 L674.6,2546.3 L675.5,2549.0 L676.5,2551.7 L677.4,2547.5 L678.3,2546.4 L679.2,2548.9 L680.1,2547.6 L681,2549.6 L681.9,2548.0 L682.8,2550.1 L683.7,2546.4 L684.6,2547.8 L685.5,2547.8 L686.4,2550.0 L687.3,2553.4 L688.2,2546.0 L689.1,2547.8 L690,2549.0 L691,2548.3 L691.9,2549.2 L692.8,2552.6 L693.7,2549.3 L694.6,2549.5 L695.5,2547.3 L696.4,2547.0 L697.3,2550.6 L698.2,2549.9 L699.1,2552.1 L700,2553.6 L700.9,2548.8 L701.8,2550.0 L702.8,2555.8 L703.7,2547.2 L704.6,2552.7 L705.5,2551.1 L706.4,2552.0 L707.3,2549.8 L708.3,2554.3 L709.2,2553.9 L710.1,2552.5 L711,2552.5 L711.9,2552.3 L712.8,2554.4 L713.8,2551.0 L714.7,2550.7 L715.6,2554.4 L716.5,2556.8 L717.4,2556.5 L718.3,2553.8 L719.3,2558.3 L720.2,2552.7 L721.1,2554.3 L722,2555.9 L722.9,2550.5 L723.8,2556.6 L724.8,2551.7 L725.7,2555.0 L726.6,2551.7 L727.5,2550.7 L728.4,2555.8 L729.3,2552.1 L730.3,2556.0 L731.2,2557.4 L732.1,2559.5 L733,2552.4 L733.9,2551.8 L734.8,2550.8 L735.7,2556.1 L736.7,2558.3 L737.6,2556.4 L738.5,2552.3 L739.4,2557.1 L740.3,2557.8 L741.2,2554.3 L742.2,2550.8 L743.1,2553.6 L744,2557.3 L744.9,2557.2 L745.8,2555.8 L746.7,2556.0 L747.6,2556.8 L748.6,2556.3 L749.5,2556.5 L750.4,2554.6 L751.3,2559.8 L752.2,2551.7 L753.1,2554.9 L754.1,2556.9 L755,2557.3 L755.9,2559.8 L756.8,2559.0 L757.7,2554.3 L758.6,2553.6 L759.6,2553.3 L760.5,2559.1 L761.4,2557.1 L762.3,2557.5 L763.2,2558.7 L764.2,2558.7 L765.1,2558.2 L766,2558.0 L766.9,2555.0 L767.8,2553.8 L768.7,2555.4 L769.6,2563.0 L770.5,2556.6 L771.5,2559.4 L772.4,2557.4 L773.3,2559.1 L774.2,2557.2 L775.1,2559.8 L776,2557.0 L776.9,2558.0 L777.9,2558.9 L778.8,2559.8 L779.7,2558.3 L780.6,2558.6 L781.5,2561.6 L782.4,2557.2 L783.4,2560.0 L784.3,2558.6 L785.2,2559.0 L786.1,2561.2 L787,2559.5 L787.9,2560.8 L788.8,2558.7 L789.7,2562.0 L790.7,2561.8 L791.6,2559.7 L792.5,2559.6 L793.4,2558.9 L794.3,2561.3 L795.2,2556.3 L796.1,2558.5 L796.9,2564.9 L797.8,2559.9 L798.7,2562.5 L799.6,2560.0 L800.5,2560.2 L801.5,2561.6 L802.4,2558.9 L803.3,2561.5 L804.3,2558.9 L805.2,2561.6 L806.1,2563.9 L807.1,2561.8 L808,2560.0 L808.9,2562.4 L809.8,2566.9 L810.8,2563.3 L811.7,2567.3 L812.6,2565.3 L813.5,2562.3 L814.4,2561.0 L815.4,2565.5 L816.3,2561.9 L817.2,2562.0 L818.1,2566.7 L819,2562.2 L819.9,2561.4 L820.8,2560.8 L821.7,2561.1 L822.6,2567.1 L823.4,2566.4 L824.3,2565.7 L825.2,2564.2 L826.1,2566.7 L826.9,2565.8 L827.8,2567.8 L828.6,2563.6 L829.5,2561.9 L830.1,2562.7 L830.8,2563.8 L831.4,2564.0 L832,2567.0 L832.6,2566.6 L833.2,2564.0 L833.8,2566.5 L834.4,2563.6 L835,2562.4 L835.6,2564.0 L836.2,2565.3 L836.8,2562.8 L837.4,2563.8 L838,2558.6 L838.5,2562.6 L839.1,2566.6 L839.7,2558.9 L840.3,2559.3 L840.9,2559.0 L841.4,2563.1 L842,2564.4 L842.6,2557.9 L843.2,2560.2 L843.7,2563.8 L844.3,2562.7 L844.9,2559.7 L845.5,2562.0 L846.1,2561.9 L846.7,2562.8 L847.3,2564.2 L847.9,2559.8 L848.5,2561.0 L849.1,2561.4 L849.7,2562.5 L850.3,2559.2 L850.9,2561.5 L851.5,2558.4 L852.2,2561.8 L852.8,2559.2 L853.4,2561.7 L853.9,2558.9 L854.5,2561.8 L855.1,2556.7 L855.6,2561.0 L856.2,2558.0 L856.8,2560.3 L857.4,2558.0 L857.9,2561.4 L858.5,2558.9 L859.1,2561.2 L859.7,2558.8 L860.3,2561.3 L860.9,2559.1 L861.5,2560.3 L862.1,2558.5 L862.6,2561.1 L863.2,2559.2 L863.8,2560.3 L864.4,2558.8 L865,2560.9 L865.6,2559.7 L866.2,2563.3 L866.8,2556.9 L867.5,2564.9 L868.1,2558.4 L868.7,2561.4 L869.3,2558.1 L869.9,2565.1 L870.5,2558.8 L871.1,2565.7 L871.7,2555.9 L872.3,2561.4 L872.9,2554.8 L873.6,2565.7 L874.2,2557.3 L874.8,2566.0 L875.4,2559.3 L876,2562.3 L876.6,2557.9 L877.3,2561.9 L877.9,2558.2 L878.5,2563.5 L879.1,2558.2 L879.7,2562.2 L880.3,2559.2 L881,2564.0 L881.6,2556.8 L882.2,2563.5 L882.8,2558.8 L883.4,2566.2 L884,2556.2 L884.6,2562.2 L885.2,2560.5 L885.8,2563.5 L886.3,2560.4 L886.9,2562.2 L887.5,2560.1 L888.1,2566.7 L888.7,2559.9 L889.3,2566.6 L889.9,2555.5 L890.5,2565.8 L891.1,2557.8 L891.7,2564.6 L892.3,2559.9 L892.9,2563.0 L893.5,2555.5 L894.1,2567.2 L894.7,2559.4 L895.3,2562.3 L895.9,2560.3 L896.5,2563.3 L897.2,2558.7 L897.8,2562.2 L898.4,2560.9 L899,2566.4 L899.6,2558.9 L900.2,2563.0 L900.8,2558.1 L901.4,2565.0 L902,2558.7 L902.6,2565.7 L903.2,2559.2 L903.8,2566.4 L904.4,2560.5 L905,2567.2 L905.7,2560.9 L906.3,2563.6 L906.9,2561.2 L907.5,2562.9 L908.1,2561.4 L908.7,2564.0 L909.3,2561.0 L909.9,2564.4 L910.5,2558.4 L911.1,2563.7 L911.7,2559.7 L912.4,2564.2 L913,2561.6 L913.6,2566.7 L914.2,2561.0 L914.8,2567.1 L915.4,2556.9 L916,2566.1 L916.6,2557.2 L917.2,2566.9 L917.8,2559.7 L918.4,2564.3 L919.1,2558.3 L919.7,2566.9 L920.3,2561.3 L920.9,2566.7 L921.5,2562.1 L922.2,2566.0 L922.8,2561.2 L923.4,2565.2 L924,2558.2 L924.7,2564.1 L925.3,2562.1 L925.9,2564.7 L926.6,2562.3 L927.2,2565.2 L927.8,2562.8 L928.5,2565.6 L929.1,2560.3 L929.7,2567.5 L930.3,2562.9 L931,2566.6 L931.6,2561.9 L932.2,2564.7 L932.9,2563.4 L933.5,2566.2 L934.1,2563.4 L934.7,2565.8 L935.4,2563.9 L936,2566.7 L936.6,2562.6 L937.2,2569.7 L937.8,2559.1 L938.5,2571.4 L939.1,2557.9 L939.7,2569.1 L940.3,2562.8 L940.9,2565.8 L941.5,2560.5 L942.1,2567.0 L942.7,2561.9 L943.3,2569.5 L943.8,2562.3 L944.4,2568.6 L945,2560.9 L945.6,2568.7 L946.1,2563.7 L946.7,2569.1 L947.3,2560.8 L947.8,2570.1 L948.4,2562.6 L948.9,2571.5 L949.5,2562.4 L950,2570.1 L950.7,2563.6 L951.3,2568.0 L952,2560.5 L952.6,2570.6 L953.2,2560.5 L953.8,2569.4 L954.5,2564.6 L955.1,2568.4 L955.6,2564.4 L956.2,2569.4 L956.8,2564.2 L957.4,2569.4 L958,2563.0 L958.5,2571.6 L959.1,2566.5 L959.7,2570.6 L960.2,2565.4 L960.8,2569.7 L961.4,2566.9 L961.9,2569.3 L962.5,2567.7 L963.1,2569.1 L963.6,2566.4 L964.2,2570.4 L964.8,2567.9 L965.4,2571.0 L966,2567.0 L966.6,2572.4 L967.2,2565.5 L967.8,2571.6 L968.4,2566.0 L969,2569.9 L969.7,2566.9 L970.3,2571.7 L971,2567.8 L971.5,2573.7 L972.1,2565.3 L972.6,2573.9 L973.2,2563.4 L973.7,2576.8 L974.3,2563.8 L974.8,2571.5 L975.4,2568.1 L976,2573.1 L976.5,2566.3 L977.1,2571.8 L977.7,2567.8 L978.3,2575.0 L978.9,2568.3 L979.4,2578.8 L980,2567.3 L980.6,2574.3 L981.2,2567.0 L981.8,2572.8 L982.4,2568.9 L983,2572.3 L983.6,2564.8 L984.2,2574.2 L984.9,2568.0 L985.5,2572.4 L986.1,2565.9 L986.7,2572.0 L987.3,2565.9 L987.9,2575.2 L988.6,2567.5 L989.2,2574.0 L989.8,2565.5 L990.4,2577.0 L991,2566.1 L991.7,2573.9 L992.3,2564.6 L992.9,2578.0 L993.5,2566.5 L994.2,2573.8 L994.8,2562.9 L995.4,2579.2 L996,2566.7 L996.6,2573.4 L997.3,2566.4 L997.9,2573.0 L998.5,2567.2 L999.1,2577.5 L999.7,2566.2 L1000.3,2577.4 L1001,2569.0 L1001.6,2573.5 L1002.2,2568.2 L1002.8,2572.3 L1003.4,2567.8 L1004,2572.9 L1004.6,2563.1 L1005.2,2576.0 L1005.8,2567.1 L1006.4,2579.7 L1007,2564.2 L1007.6,2576.2 L1008.2,2567.5 L1008.8,2578.5 L1009.4,2568.8 L1010,2579.0 L1010.6,2564.8 L1011.2,2575.8 L1011.8,2564.6 L1012.4,2577.2 L1013,2564.3 L1013.6,2576.4 L1014.2,2563.9 L1014.8,2579.8 L1015.4,2561.4 L1016,2574.7 L1016.6,2567.7 L1017.2,2580.6 L1017.8,2567.7 L1018.4,2575.5 L1019,2570.3 L1019.6,2572.6 L1020.2,2571.1 L1020.8,2572.8 L1021.4,2568.6 L1022,2575.7 L1022.6,2560.7 L1023.2,2576.2 L1023.8,2566.6 L1024.4,2579.3 L1025,2565.5 L1025.6,2581.3 L1026.2,2564.2 L1026.8,2575.7 L1027.4,2566.4 L1028,2583.4 L1028.6,2565.2 L1029.2,2582.5 L1029.8,2562.1 L1030.4,2574.8 L1031,2569.5 L1031.6,2583.4 L1032.2,2564.4 L1032.8,2573.3 L1033.4,2570.3 L1034,2573.1 L1034.6,2571.3 L1035.2,2574.9 L1035.8,2569.4 L1036.4,2575.5 L1037,2569.6 L1037.6,2577.8 L1038.2,2571.2 L1038.8,2577.7 L1039.4,2567.3 L1040,2578.2 L1040.6,2566.4 L1041.3,2577.7 L1041.9,2561.2 L1042.5,2576.0 L1043.1,2562.8 L1043.7,2583.0 L1044.3,2569.6 L1044.9,2578.6 L1045.6,2570.6 L1046.2,2578.3 L1046.8,2569.9 L1047.4,2577.1 L1048,2569.8 L1048.6,2575.0 L1049.2,2571.7 L1049.9,2575.4 L1050.5,2570.4 L1051.1,2577.1 L1051.7,2571.8 L1052.3,2575.2 L1052.9,2567.8 L1053.5,2580.6 L1054.1,2569.7 L1054.8,2576.8 L1055.4,2571.7 L1056,2580.6 L1056.6,2566.6 L1057.2,2581.1 L1057.8,2569.3 L1058.4,2575.8 L1059,2572.8 L1059.6,2578.7 L1060.2,2570.5 L1060.9,2575.0 L1061.5,2572.4 L1062.1,2579.1 L1062.7,2570.6 L1063.3,2576.0 L1063.9,2567.7 L1064.5,2578.7 L1065.1,2571.0 L1065.7,2577.5 L1066.3,2572.1 L1066.9,2577.8 L1067.5,2570.1 L1068.1,2578.8 L1068.6,2568.7 L1069.2,2587.3 L1069.8,2571.9 L1070.4,2580.9 L1071,2562.8 L1071.6,2579.3 L1072.2,2565.8 L1072.9,2578.6 L1073.5,2567.8 L1074.1,2580.8 L1074.7,2571.1 L1075.3,2580.5 L1075.9,2564.6 L1076.5,2580.9 L1077.1,2566.0 L1077.7,2583.4 L1078.3,2562.1 L1078.9,2579.1 L1079.5,2563.1 L1080.1,2583.5 L1080.7,2567.2 L1081.3,2579.4 L1081.9,2565.6 L1082.5,2583.5 L1083.1,2568.0 L1083.7,2585.0 L1084.3,2573.0 L1084.9,2577.5 L1085.5,2566.2 L1086,2585.3 L1086.6,2568.9 L1087.2,2577.9 L1087.8,2570.0 L1088.4,2577.5 L1089,2572.5 L1089.6,2577.6 L1090.2,2572.1 L1090.8,2582.6 L1091.4,2568.9 L1092,2582.2 L1092.6,2594.8 L1093.2,2556.1 L1093.8,2591.6 L1094.4,2555.0 L1095,2603.7 L1095.6,2555.6 L1096.3,2596.7 L1096.9,2554.5 L1097.5,2595.8 L1098.1,2553.1 L1098.7,2601.2 L1099.4,2550.6 L1100,2599.1 L1100.6,2549.8 L1101.2,2597.7 L1101.7,2554.0 L1102.3,2593.2 L1102.9,2553.6 L1103.5,2597.1 L1104.1,2554.6 L1104.7,2596.1 L1105.2,2555.4 L1105.8,2597.7 L1106.4,2552.9 L1107,2594.0 L1107.6,2555.8 L1108.2,2595.5 L1108.8,2556.3 L1109.4,2596.8 L1110,2554.6 L1110.6,2599.7 L1111.2,2550.2 L1111.8,2603.3 L1112.4,2550.6 L1113,2603.3 L1113.6,2555.4 L1114.2,2594.8 L1114.9,2556.7 L1115.5,2592.0 L1116.1,2556.5 L1116.7,2600.4 L1117.3,2549.5 L1117.9,2599.4 L1118.5,2548.7 L1119.1,2601.0 L1119.7,2557.8 L1120.4,2591.6 L1121,2558.7 L1121.6,2592.1 L1122.2,2558.2 L1122.8,2598.7 L1123.4,2552.4 L1124,2596.3 L1124.6,2552.6 L1125.3,2597.6 L1125.9,2550.1 L1126.5,2599.2 L1127.1,2550.5 L1127.7,2600.2 L1128.3,2548.4 L1128.9,2591.7 L1129.5,2557.5 L1130.1,2592.8 L1130.8,2555.5"/>
<path stroke="#fdbb2d" d="M865.0,2562.9 V2347 M788.8,2563.0 V2527 M343.5,2426.3 V2418"/>
</g>
<g font-family="'Liberation Serif', 'Times New Roman', serif" font-weight="bold" fill="#000">
<g font-size="52" text-anchor="end">
<text x="234.3" y="932.3">2</text>
<text x="234.3" y="779.5">3</text>
<text x="234.3" y="671.2">4</text>
<text x="234.3" y="587.1">5</text>
<text x="234.3" y="518.4">6</text>
<text x="234.3" y="460.4">7</text>
<text x="234.3" y="410.1">8</text>
<text x="234.3" y="1799.7">2</text>
<text x="234.3" y="1646.9">3</text>
<text x="234.3" y="1538.6">4</text>
<text x="234.3" y="1454.5">5</text>
<text x="234.3" y="1385.8">6</text>
<text x="234.3" y="1327.8">7</text>
<text x="234.3" y="1277.5">8</text>
<text x="234.3" y="2667.1">2</text>
<text x="234.3" y="2514.3">3</text>
<text x="234.3" y="2406.0">4</text>
<text x="234.3" y="2321.9">5</text>
<text x="234.3" y="2253.2">6</text>
<text x="234.3" y="2195.2">7</text>
<text x="234.3" y="2144.9">8</text>
<text x="234.3" y="64.5">2</text>
</g>
<g font-size="74.5" text-anchor="end">
<text transform="translate(210.6,333.3) scale(1.03,1)">10</text>
<text transform="translate(209.5,1200.7) scale(1.03,1)">1</text>
<text transform="translate(208.6,2068.1) scale(0.965,1)">0.1</text>
</g>
<g font-size="74.5" text-anchor="middle">
<text transform="translate(498.5,2735.3) scale(1.005,1)">1.0</text>
<text transform="translate(761.8,2735.3) scale(1.005,1)">2.0</text>
<text transform="translate(1025.1,2735.3) scale(1.005,1)">3.0</text>
</g>
<text x="494.5" y="2867" font-size="87">Q (nm<tspan font-size="62" dy="-55" dx="-3">-1</tspan><tspan dy="55">)</tspan></text>
<text transform="translate(94,1535.6) rotate(-90)" font-size="87">I(Q) (a.u.)</text>
<text transform="translate(1035,786.6) scale(1.05,1)" font-size="114" text-anchor="middle">(a)</text>
<text transform="translate(1034.8,1189.7) scale(1.05,1)" font-size="114" text-anchor="middle">(b)</text>
<text transform="translate(1035.4,1579) scale(1.05,1)" font-size="114" text-anchor="middle">(c)</text>
<text transform="translate(1034.8,2053.6) scale(1.05,1)" font-size="114" text-anchor="middle">(d)</text>
<text transform="translate(1035.4,2489.5) scale(1.05,1)" font-size="114" text-anchor="middle">(e)</text>
</g>
</svg>
</body></html>
